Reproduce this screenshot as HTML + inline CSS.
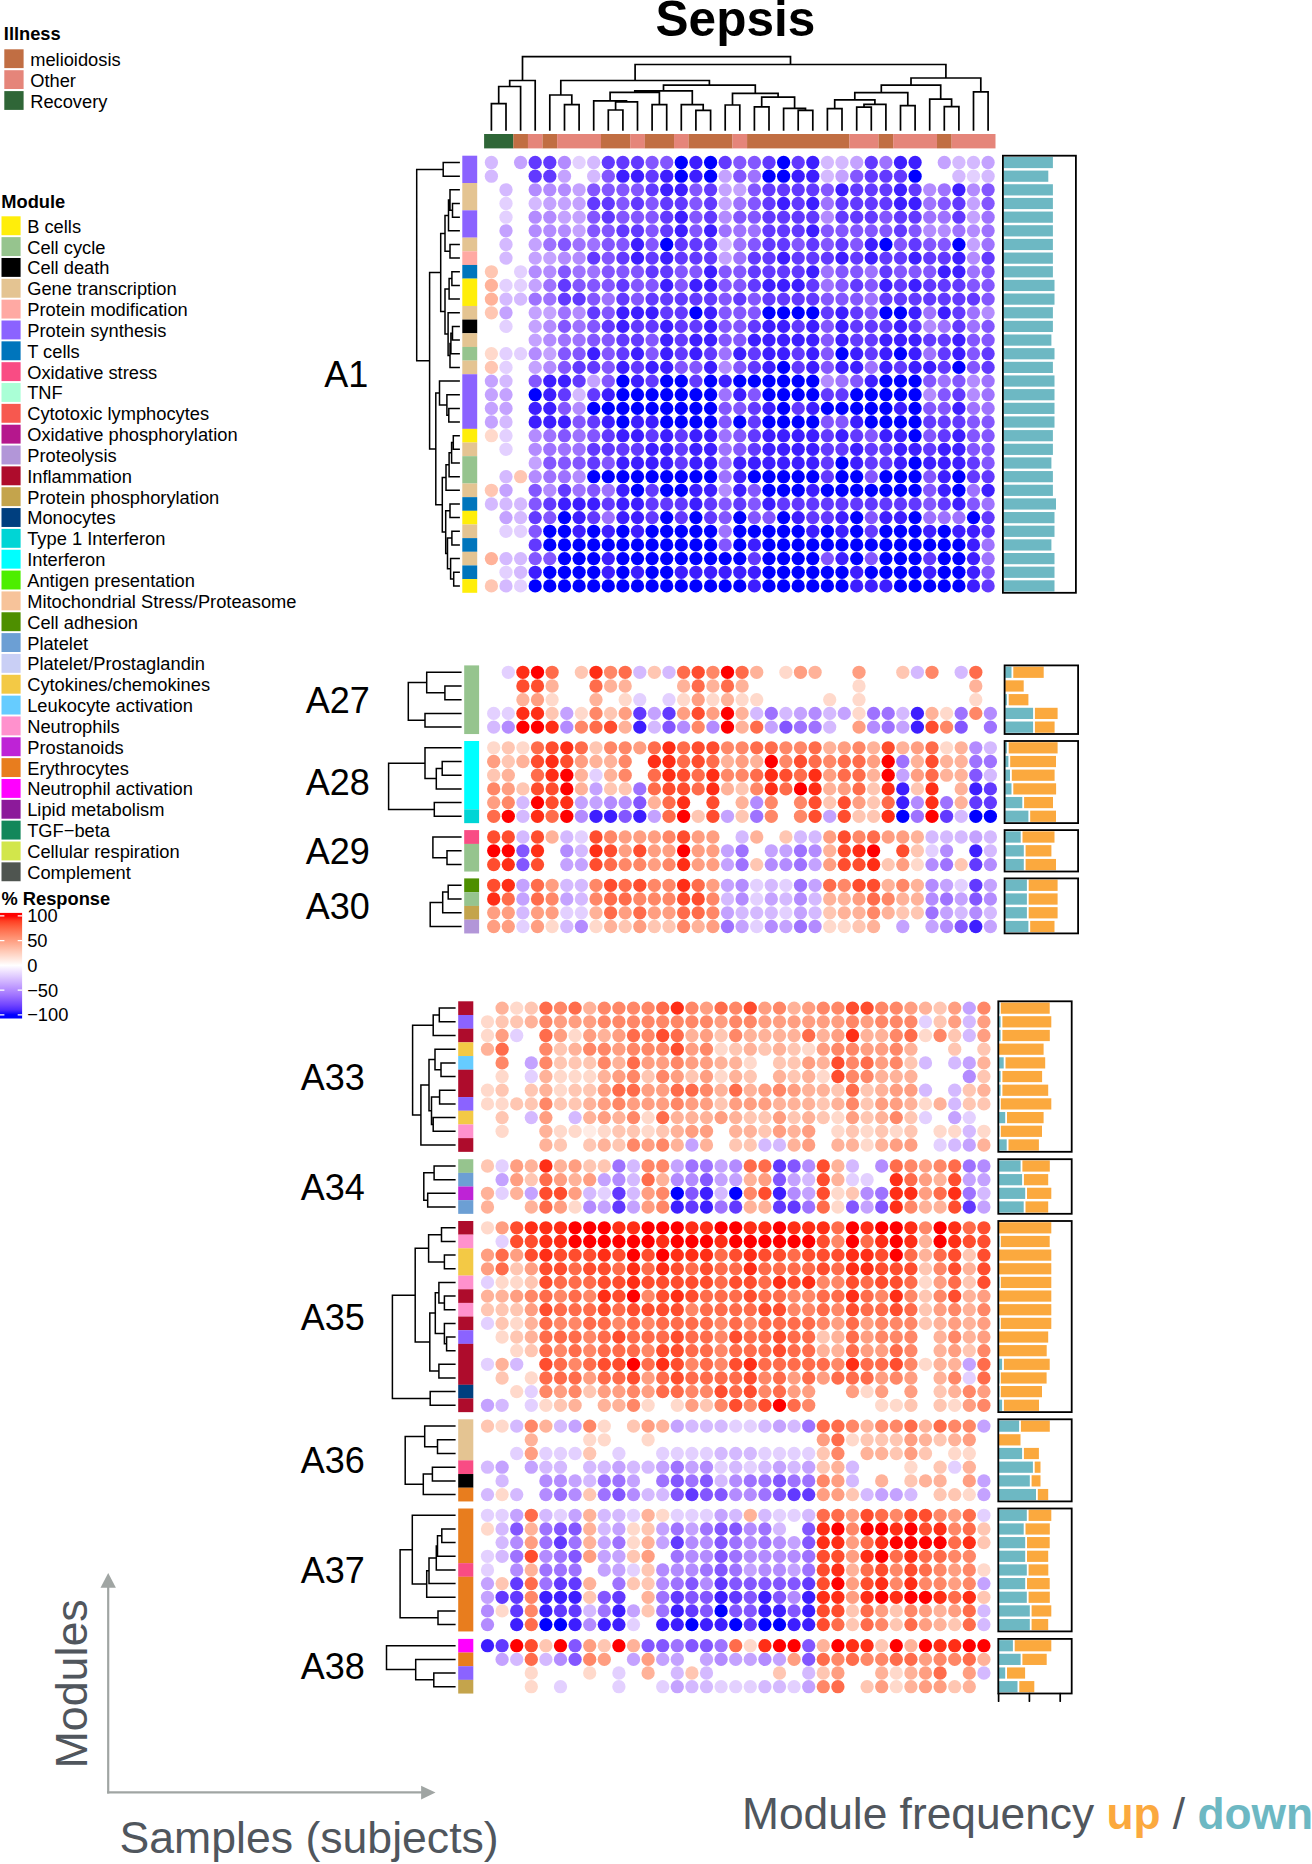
<!DOCTYPE html>
<html><head><meta charset="utf-8"><title>Sepsis</title>
<style>
html,body{margin:0;padding:0;background:#fff;}
body{width:1312px;height:1864px;overflow:hidden;}
svg{display:block;font-family:"Liberation Sans",sans-serif;fill:#000;}
</style></head><body>
<svg width="1312" height="1864" viewBox="0 0 1312 1864">
<rect width="1312" height="1864" fill="#fff"/>
<path d="M491.4 130.7V103.6H506.0V130.7M498.7 103.6V86.5H520.6V130.7M509.7 86.5V80.5H535.2V130.7M564.5 130.7V104.7H579.1V130.7M549.8 130.7V95.0H571.8V104.7M608.3 130.7V110.0H622.9V130.7M615.6 110.0V101.9H637.5V130.7M593.7 130.7V100.8H626.5V101.9M652.1 130.7V104.7H666.7V130.7M610.1 100.8V92.3H659.4V104.7M695.9 130.7V110.4H710.6V130.7M681.3 130.7V104.7H703.2V110.4M634.8 92.3V90.8H692.3V104.7M725.2 130.7V105.0H739.8V130.7M754.4 130.7V106.8H769.0V130.7M798.2 130.7V110.4H812.8V130.7M783.6 130.7V108.3H805.5V110.4M761.7 106.8V97.2H794.6V108.3M732.5 105.0V93.4H778.1V97.2M663.5 90.8V85.2H755.3V93.4M560.8 95.0V80.5H709.4V85.2M827.4 130.7V108.7H842.0V130.7M856.7 130.7V107.2H871.3V130.7M864.0 107.2V104.4H885.9V130.7M834.7 108.7V99.8H874.9V104.4M900.5 130.7V105.7H915.1V130.7M854.8 99.8V92.7H907.8V105.7M944.3 130.7V106.6H958.9V130.7M929.7 130.7V99.1H951.6V106.6M881.3 92.7V85.2H940.7V99.1M973.5 130.7V91.9H988.1V130.7M911.0 85.2V78.0H980.8V91.9M635.1 80.5V64.5H945.9V78.0M522.5 80.5V56.6H790.5V64.5" fill="none" stroke="#000" stroke-width="1.7" stroke-linejoin="miter"/>
<rect x="484.10" y="134" width="29.27" height="14.4" fill="#2F6637"/>
<rect x="513.32" y="134" width="14.66" height="14.4" fill="#C16E43"/>
<rect x="527.93" y="134" width="14.66" height="14.4" fill="#E5857A"/>
<rect x="542.54" y="134" width="14.66" height="14.4" fill="#C16E43"/>
<rect x="557.15" y="134" width="43.88" height="14.4" fill="#E5857A"/>
<rect x="600.98" y="134" width="29.27" height="14.4" fill="#C16E43"/>
<rect x="630.20" y="134" width="14.66" height="14.4" fill="#E5857A"/>
<rect x="644.81" y="134" width="29.27" height="14.4" fill="#C16E43"/>
<rect x="674.03" y="134" width="14.66" height="14.4" fill="#E5857A"/>
<rect x="688.64" y="134" width="43.88" height="14.4" fill="#C16E43"/>
<rect x="732.47" y="134" width="14.66" height="14.4" fill="#E5857A"/>
<rect x="747.08" y="134" width="102.32" height="14.4" fill="#C16E43"/>
<rect x="849.35" y="134" width="29.27" height="14.4" fill="#E5857A"/>
<rect x="878.57" y="134" width="14.66" height="14.4" fill="#C16E43"/>
<rect x="893.18" y="134" width="43.88" height="14.4" fill="#E5857A"/>
<rect x="937.01" y="134" width="14.66" height="14.4" fill="#C16E43"/>
<rect x="951.62" y="134" width="43.88" height="14.4" fill="#E5857A"/>
<path d="M459.9 162.5H443.2V176.2H459.9M459.9 203.5H452.5V217.2H459.9M459.9 189.8H450.0V210.3H452.5M450.0 200.1H448.5V230.8H459.9M459.9 244.5H450.0V258.1H459.9M448.5 215.5H445.0V251.3H450.0M459.9 271.8H451.9V285.4H459.9M451.9 278.6H449.1V299.1H459.9M459.9 326.4H452.5V340.1H459.9M452.5 333.3H450.9V353.7H459.9M450.9 343.5H450.0V367.4H459.9M459.9 312.8H448.1V355.4H450.0M449.1 288.9H445.0V334.1H448.1M445.0 233.4H440.7V311.5H445.0M459.9 408.4H448.8V422.0H459.9M459.9 394.7H446.9V415.2H448.8M459.9 381.1H439.5V405.0H446.9M459.9 435.7H453.3V449.3H459.9M453.3 442.5H451.6V463.0H459.9M451.6 452.8H449.1V476.7H459.9M449.1 464.7H446.0V490.3H459.9M459.9 504.0H450.0V517.6H459.9M459.9 531.3H451.9V544.9H459.9M459.9 572.3H453.7V585.9H459.9M459.9 558.6H450.6V579.1H453.7M451.9 538.1H447.5V568.8H450.6M450.0 510.8H445.7V553.5H447.5M446.0 477.5H442.3V532.1H445.7M439.5 393.0H435.8V504.8H442.3M440.7 272.4H429.6V448.9H435.8M443.2 169.4H416.7V360.7H429.6" fill="none" stroke="#000" stroke-width="1.5"/>
<rect x="462.3" y="155.70" width="14.9" height="27.37" fill="#8B63FF"/>
<rect x="462.3" y="183.02" width="14.9" height="27.37" fill="#E4C492"/>
<rect x="462.3" y="210.33" width="14.9" height="27.37" fill="#8B63FF"/>
<rect x="462.3" y="237.65" width="14.9" height="13.71" fill="#E4C492"/>
<rect x="462.3" y="251.30" width="14.9" height="13.71" fill="#FFA9A3"/>
<rect x="462.3" y="264.96" width="14.9" height="13.71" fill="#0075BC"/>
<rect x="462.3" y="278.62" width="14.9" height="27.37" fill="#FFEE0A"/>
<rect x="462.3" y="305.94" width="14.9" height="13.71" fill="#E4C492"/>
<rect x="462.3" y="319.59" width="14.9" height="13.71" fill="#000000"/>
<rect x="462.3" y="333.25" width="14.9" height="13.71" fill="#E4C492"/>
<rect x="462.3" y="346.91" width="14.9" height="13.71" fill="#96C48E"/>
<rect x="462.3" y="360.57" width="14.9" height="13.71" fill="#E4C492"/>
<rect x="462.3" y="374.23" width="14.9" height="54.68" fill="#8B63FF"/>
<rect x="462.3" y="428.86" width="14.9" height="13.71" fill="#FFEE0A"/>
<rect x="462.3" y="442.51" width="14.9" height="13.71" fill="#E4C492"/>
<rect x="462.3" y="456.17" width="14.9" height="27.37" fill="#96C48E"/>
<rect x="462.3" y="483.49" width="14.9" height="13.71" fill="#E4C492"/>
<rect x="462.3" y="497.15" width="14.9" height="13.71" fill="#0075BC"/>
<rect x="462.3" y="510.80" width="14.9" height="13.71" fill="#FFEE0A"/>
<rect x="462.3" y="524.46" width="14.9" height="13.71" fill="#E4C492"/>
<rect x="462.3" y="538.12" width="14.9" height="13.71" fill="#0075BC"/>
<rect x="462.3" y="551.78" width="14.9" height="13.71" fill="#E4C492"/>
<rect x="462.3" y="565.43" width="14.9" height="13.71" fill="#0075BC"/>
<rect x="462.3" y="579.09" width="14.9" height="13.71" fill="#FFEE0A"/>
<rect x="1003.5" y="156.93" width="49.4" height="11.20" fill="#6DB8C3"/>
<rect x="1003.5" y="170.59" width="44.8" height="11.20" fill="#6DB8C3"/>
<rect x="1003.5" y="184.24" width="49.4" height="11.20" fill="#6DB8C3"/>
<rect x="1003.5" y="197.90" width="49.4" height="11.20" fill="#6DB8C3"/>
<rect x="1003.5" y="211.56" width="49.4" height="11.20" fill="#6DB8C3"/>
<rect x="1003.5" y="225.22" width="49.4" height="11.20" fill="#6DB8C3"/>
<rect x="1003.5" y="238.88" width="49.4" height="11.20" fill="#6DB8C3"/>
<rect x="1003.5" y="252.53" width="49.4" height="11.20" fill="#6DB8C3"/>
<rect x="1003.5" y="266.19" width="49.4" height="11.20" fill="#6DB8C3"/>
<rect x="1003.5" y="279.85" width="51.0" height="11.20" fill="#6DB8C3"/>
<rect x="1003.5" y="293.51" width="51.0" height="11.20" fill="#6DB8C3"/>
<rect x="1003.5" y="307.17" width="49.4" height="11.20" fill="#6DB8C3"/>
<rect x="1003.5" y="320.82" width="49.4" height="11.20" fill="#6DB8C3"/>
<rect x="1003.5" y="334.48" width="47.9" height="11.20" fill="#6DB8C3"/>
<rect x="1003.5" y="348.14" width="51.0" height="11.20" fill="#6DB8C3"/>
<rect x="1003.5" y="361.80" width="49.4" height="11.20" fill="#6DB8C3"/>
<rect x="1003.5" y="375.45" width="51.0" height="11.20" fill="#6DB8C3"/>
<rect x="1003.5" y="389.11" width="51.0" height="11.20" fill="#6DB8C3"/>
<rect x="1003.5" y="402.77" width="51.0" height="11.20" fill="#6DB8C3"/>
<rect x="1003.5" y="416.43" width="51.0" height="11.20" fill="#6DB8C3"/>
<rect x="1003.5" y="430.09" width="49.4" height="11.20" fill="#6DB8C3"/>
<rect x="1003.5" y="443.74" width="49.4" height="11.20" fill="#6DB8C3"/>
<rect x="1003.5" y="457.40" width="47.9" height="11.20" fill="#6DB8C3"/>
<rect x="1003.5" y="471.06" width="49.4" height="11.20" fill="#6DB8C3"/>
<rect x="1003.5" y="484.72" width="49.4" height="11.20" fill="#6DB8C3"/>
<rect x="1003.5" y="498.37" width="52.5" height="11.20" fill="#6DB8C3"/>
<rect x="1003.5" y="512.03" width="51.0" height="11.20" fill="#6DB8C3"/>
<rect x="1003.5" y="525.69" width="51.0" height="11.20" fill="#6DB8C3"/>
<rect x="1003.5" y="539.35" width="47.9" height="11.20" fill="#6DB8C3"/>
<rect x="1003.5" y="553.01" width="51.0" height="11.20" fill="#6DB8C3"/>
<rect x="1003.5" y="566.66" width="51.0" height="11.20" fill="#6DB8C3"/>
<rect x="1003.5" y="580.32" width="51.0" height="11.20" fill="#6DB8C3"/>
<rect x="1002.9" y="155.7" width="73.0" height="437.1" fill="none" stroke="#000" stroke-width="1.8"/>
<text x="368.2" y="387.3" font-size="36.0" text-anchor="end">A1</text>
<path d="M461.6 686.0H444.9V699.7H461.6M461.6 672.3H426.7V692.8H444.9M461.6 713.4H425.0V727.1H461.6M426.7 682.5H408.3V720.3H425.0" fill="none" stroke="#000" stroke-width="1.5"/>
<rect x="464.2" y="665.40" width="14.9" height="68.65" fill="#96C48E"/>
<rect x="1005.2" y="666.63" width="6.3" height="11.25" fill="#6DB8C3"/>
<rect x="1013.3" y="666.63" width="30.4" height="11.25" fill="#FBA93E"/>
<rect x="1005.2" y="680.35" width="18.5" height="11.25" fill="#FBA93E"/>
<rect x="1005.2" y="694.07" width="1.7" height="11.25" fill="#6DB8C3"/>
<rect x="1008.7" y="694.07" width="19.7" height="11.25" fill="#FBA93E"/>
<rect x="1005.2" y="707.79" width="27.9" height="11.25" fill="#6DB8C3"/>
<rect x="1034.9" y="707.79" width="22.7" height="11.25" fill="#FBA93E"/>
<rect x="1005.2" y="721.51" width="27.9" height="11.25" fill="#6DB8C3"/>
<rect x="1034.9" y="721.51" width="19.7" height="11.25" fill="#FBA93E"/>
<rect x="1004.6" y="665.4" width="73.5" height="68.6" fill="none" stroke="#000" stroke-width="1.8"/>
<text x="369.9" y="712.8" font-size="36.0" text-anchor="end">A27</text>
<path d="M461.6 761.5H442.2V775.2H461.6M442.2 768.4H436.3V788.9H461.6M461.6 747.8H425.0V778.6H436.3M461.6 802.6H434.3V816.3H461.6M425.0 763.2H388.6V809.4H434.3" fill="none" stroke="#000" stroke-width="1.5"/>
<rect x="464.2" y="741.00" width="14.9" height="68.47" fill="#00FFFF"/>
<rect x="464.2" y="809.42" width="14.9" height="13.73" fill="#00D5D5"/>
<rect x="1005.2" y="742.23" width="1.7" height="11.22" fill="#6DB8C3"/>
<rect x="1008.7" y="742.23" width="48.9" height="11.22" fill="#FBA93E"/>
<rect x="1005.2" y="755.91" width="3.2" height="11.22" fill="#6DB8C3"/>
<rect x="1010.2" y="755.91" width="45.8" height="11.22" fill="#FBA93E"/>
<rect x="1005.2" y="769.60" width="4.8" height="11.22" fill="#6DB8C3"/>
<rect x="1011.8" y="769.60" width="42.8" height="11.22" fill="#FBA93E"/>
<rect x="1005.2" y="783.28" width="6.3" height="11.22" fill="#6DB8C3"/>
<rect x="1013.3" y="783.28" width="42.8" height="11.22" fill="#FBA93E"/>
<rect x="1005.2" y="796.96" width="17.1" height="11.22" fill="#6DB8C3"/>
<rect x="1024.1" y="796.96" width="28.9" height="11.22" fill="#FBA93E"/>
<rect x="1005.2" y="810.65" width="23.2" height="11.22" fill="#6DB8C3"/>
<rect x="1030.2" y="810.65" width="25.8" height="11.22" fill="#FBA93E"/>
<rect x="1004.6" y="741.0" width="73.5" height="82.1" fill="none" stroke="#000" stroke-width="1.8"/>
<text x="369.9" y="795.1" font-size="36.0" text-anchor="end">A28</text>
<path d="M461.6 850.8H447.0V864.6H461.6M461.6 837.0H432.9V857.7H447.0" fill="none" stroke="#000" stroke-width="1.5"/>
<rect x="464.2" y="830.10" width="14.9" height="13.85" fill="#F94C84"/>
<rect x="464.2" y="843.90" width="14.9" height="27.65" fill="#96C48E"/>
<rect x="1005.2" y="831.34" width="15.5" height="11.32" fill="#6DB8C3"/>
<rect x="1022.5" y="831.34" width="32.0" height="11.32" fill="#FBA93E"/>
<rect x="1005.2" y="845.14" width="18.6" height="11.32" fill="#6DB8C3"/>
<rect x="1025.6" y="845.14" width="25.8" height="11.32" fill="#FBA93E"/>
<rect x="1005.2" y="858.94" width="18.6" height="11.32" fill="#6DB8C3"/>
<rect x="1025.6" y="858.94" width="30.4" height="11.32" fill="#FBA93E"/>
<rect x="1004.6" y="830.1" width="73.5" height="41.4" fill="none" stroke="#000" stroke-width="1.8"/>
<text x="369.9" y="863.9" font-size="36.0" text-anchor="end">A29</text>
<path d="M461.6 885.3H448.2V899.0H461.6M448.2 892.1H442.7V912.8H461.6M442.7 902.5H430.2V926.5H461.6" fill="none" stroke="#000" stroke-width="1.5"/>
<rect x="464.2" y="878.40" width="14.9" height="13.80" fill="#4E8F00"/>
<rect x="464.2" y="892.15" width="14.9" height="13.80" fill="#96C48E"/>
<rect x="464.2" y="905.90" width="14.9" height="13.80" fill="#C4A44C"/>
<rect x="464.2" y="919.65" width="14.9" height="13.80" fill="#B296D8"/>
<rect x="1005.2" y="879.64" width="21.7" height="11.27" fill="#6DB8C3"/>
<rect x="1028.7" y="879.64" width="28.9" height="11.27" fill="#FBA93E"/>
<rect x="1005.2" y="893.39" width="21.7" height="11.27" fill="#6DB8C3"/>
<rect x="1028.7" y="893.39" width="28.9" height="11.27" fill="#FBA93E"/>
<rect x="1005.2" y="907.14" width="21.7" height="11.27" fill="#6DB8C3"/>
<rect x="1028.7" y="907.14" width="28.9" height="11.27" fill="#FBA93E"/>
<rect x="1005.2" y="920.89" width="23.2" height="11.27" fill="#6DB8C3"/>
<rect x="1030.2" y="920.89" width="24.3" height="11.27" fill="#FBA93E"/>
<rect x="1004.6" y="878.4" width="73.5" height="55.0" fill="none" stroke="#000" stroke-width="1.8"/>
<text x="369.9" y="919.0" font-size="36.0" text-anchor="end">A30</text>
<path d="M455.6 1008.1H439.3V1021.8H455.6M439.3 1015.0H433.2V1035.5H455.6M455.6 1062.9H441.0V1076.5H455.6M455.6 1049.2H435.0V1069.7H441.0M455.6 1090.2H439.6V1103.9H455.6M455.6 1117.6H433.2V1131.3H455.6M439.6 1097.1H431.5V1124.4H433.2M435.0 1059.4H429.0V1110.8H431.5M429.0 1085.1H420.9V1145.0H455.6M433.2 1025.2H412.6V1115.0H420.9" fill="none" stroke="#000" stroke-width="1.5"/>
<rect x="458.2" y="1001.30" width="15.1" height="13.73" fill="#AE0C2C"/>
<rect x="458.2" y="1014.98" width="15.1" height="13.73" fill="#8B63FF"/>
<rect x="458.2" y="1028.66" width="15.1" height="13.73" fill="#AE0C2C"/>
<rect x="458.2" y="1042.35" width="15.1" height="13.73" fill="#F3C945"/>
<rect x="458.2" y="1056.03" width="15.1" height="13.73" fill="#66CCFF"/>
<rect x="458.2" y="1069.71" width="15.1" height="27.41" fill="#AE0C2C"/>
<rect x="458.2" y="1097.07" width="15.1" height="13.73" fill="#8B63FF"/>
<rect x="458.2" y="1110.75" width="15.1" height="13.73" fill="#F3C945"/>
<rect x="458.2" y="1124.44" width="15.1" height="13.73" fill="#FF91CD"/>
<rect x="458.2" y="1138.12" width="15.1" height="13.73" fill="#AE0C2C"/>
<rect x="998.9" y="1002.53" width="0.6" height="11.22" fill="#6DB8C3"/>
<rect x="1000.8" y="1002.53" width="48.9" height="11.22" fill="#FBA93E"/>
<rect x="998.9" y="1016.21" width="1.7" height="11.22" fill="#6DB8C3"/>
<rect x="1002.4" y="1016.21" width="48.9" height="11.22" fill="#FBA93E"/>
<rect x="998.9" y="1029.89" width="1.7" height="11.22" fill="#6DB8C3"/>
<rect x="1002.4" y="1029.89" width="47.4" height="11.22" fill="#FBA93E"/>
<rect x="998.9" y="1043.58" width="44.7" height="11.22" fill="#FBA93E"/>
<rect x="998.9" y="1057.26" width="4.8" height="11.22" fill="#6DB8C3"/>
<rect x="1005.5" y="1057.26" width="39.7" height="11.22" fill="#FBA93E"/>
<rect x="998.9" y="1070.94" width="1.7" height="11.22" fill="#6DB8C3"/>
<rect x="1002.4" y="1070.94" width="39.7" height="11.22" fill="#FBA93E"/>
<rect x="998.9" y="1084.62" width="1.7" height="11.22" fill="#6DB8C3"/>
<rect x="1002.4" y="1084.62" width="45.8" height="11.22" fill="#FBA93E"/>
<rect x="998.9" y="1098.30" width="0.6" height="11.22" fill="#6DB8C3"/>
<rect x="1000.8" y="1098.30" width="50.5" height="11.22" fill="#FBA93E"/>
<rect x="998.9" y="1111.99" width="6.3" height="11.22" fill="#6DB8C3"/>
<rect x="1007.0" y="1111.99" width="36.6" height="11.22" fill="#FBA93E"/>
<rect x="998.9" y="1125.67" width="0.6" height="11.22" fill="#6DB8C3"/>
<rect x="1000.8" y="1125.67" width="41.2" height="11.22" fill="#FBA93E"/>
<rect x="998.9" y="1139.35" width="7.8" height="11.22" fill="#6DB8C3"/>
<rect x="1008.5" y="1139.35" width="30.4" height="11.22" fill="#FBA93E"/>
<rect x="998.3" y="1001.3" width="73.4" height="150.5" fill="none" stroke="#000" stroke-width="1.8"/>
<text x="364.9" y="1089.6" font-size="36.0" text-anchor="end">A33</text>
<path d="M455.6 1166.0H434.1V1179.7H455.6M455.6 1193.3H427.7V1207.0H455.6M434.1 1172.8H423.8V1200.2H427.7" fill="none" stroke="#000" stroke-width="1.5"/>
<rect x="458.2" y="1159.20" width="15.1" height="13.70" fill="#96C48E"/>
<rect x="458.2" y="1172.85" width="15.1" height="13.70" fill="#6C9FD4"/>
<rect x="458.2" y="1186.50" width="15.1" height="13.70" fill="#BE23D6"/>
<rect x="458.2" y="1200.15" width="15.1" height="13.70" fill="#6C9FD4"/>
<rect x="998.9" y="1160.43" width="21.7" height="11.19" fill="#6DB8C3"/>
<rect x="1022.4" y="1160.43" width="27.4" height="11.19" fill="#FBA93E"/>
<rect x="998.9" y="1174.08" width="23.2" height="11.19" fill="#6DB8C3"/>
<rect x="1023.9" y="1174.08" width="24.3" height="11.19" fill="#FBA93E"/>
<rect x="998.9" y="1187.73" width="26.3" height="11.19" fill="#6DB8C3"/>
<rect x="1027.0" y="1187.73" width="24.3" height="11.19" fill="#FBA93E"/>
<rect x="998.9" y="1201.38" width="24.8" height="11.19" fill="#6DB8C3"/>
<rect x="1025.5" y="1201.38" width="22.7" height="11.19" fill="#FBA93E"/>
<rect x="998.3" y="1159.2" width="73.4" height="54.6" fill="none" stroke="#000" stroke-width="1.8"/>
<text x="364.9" y="1199.6" font-size="36.0" text-anchor="end">A34</text>
<path d="M455.6 1227.8H441.5V1241.5H455.6M455.6 1255.1H444.4V1268.8H455.6M441.5 1234.7H428.6V1262.0H444.4M455.6 1296.1H444.4V1309.7H455.6M455.6 1282.4H438.9V1302.9H444.4M455.6 1337.0H446.6V1350.7H455.6M455.6 1323.4H444.4V1343.8H446.6M438.9 1292.7H435.3V1333.6H444.4M455.6 1364.3H438.9V1378.0H455.6M435.3 1313.1H429.8V1371.1H438.9M428.6 1248.3H415.2V1342.1H429.8M455.6 1391.6H430.2V1405.3H455.6M415.2 1295.2H392.4V1398.4H430.2" fill="none" stroke="#000" stroke-width="1.5"/>
<rect x="458.2" y="1221.00" width="15.1" height="13.70" fill="#AE0C2C"/>
<rect x="458.2" y="1234.65" width="15.1" height="13.70" fill="#FF91CD"/>
<rect x="458.2" y="1248.30" width="15.1" height="27.35" fill="#F3C945"/>
<rect x="458.2" y="1275.60" width="15.1" height="13.70" fill="#FF91CD"/>
<rect x="458.2" y="1289.25" width="15.1" height="13.70" fill="#AE0C2C"/>
<rect x="458.2" y="1302.90" width="15.1" height="13.70" fill="#FF91CD"/>
<rect x="458.2" y="1316.55" width="15.1" height="13.70" fill="#AE0C2C"/>
<rect x="458.2" y="1330.20" width="15.1" height="13.70" fill="#8B63FF"/>
<rect x="458.2" y="1343.85" width="15.1" height="41.00" fill="#AE0C2C"/>
<rect x="458.2" y="1384.80" width="15.1" height="13.70" fill="#003F7F"/>
<rect x="458.2" y="1398.45" width="15.1" height="13.70" fill="#AE0C2C"/>
<rect x="998.9" y="1222.23" width="52.4" height="11.19" fill="#FBA93E"/>
<rect x="998.9" y="1235.88" width="0.6" height="11.19" fill="#6DB8C3"/>
<rect x="1000.8" y="1235.88" width="48.9" height="11.19" fill="#FBA93E"/>
<rect x="998.9" y="1249.53" width="52.4" height="11.19" fill="#FBA93E"/>
<rect x="998.9" y="1263.18" width="52.4" height="11.19" fill="#FBA93E"/>
<rect x="998.9" y="1276.83" width="0.6" height="11.19" fill="#6DB8C3"/>
<rect x="1000.8" y="1276.83" width="50.5" height="11.19" fill="#FBA93E"/>
<rect x="998.9" y="1290.48" width="52.4" height="11.19" fill="#FBA93E"/>
<rect x="998.9" y="1304.13" width="52.4" height="11.19" fill="#FBA93E"/>
<rect x="998.9" y="1317.78" width="0.6" height="11.19" fill="#6DB8C3"/>
<rect x="1000.8" y="1317.78" width="50.5" height="11.19" fill="#FBA93E"/>
<rect x="998.9" y="1331.43" width="49.3" height="11.19" fill="#FBA93E"/>
<rect x="998.9" y="1345.08" width="47.8" height="11.19" fill="#FBA93E"/>
<rect x="998.9" y="1358.73" width="3.2" height="11.19" fill="#6DB8C3"/>
<rect x="1003.9" y="1358.73" width="45.8" height="11.19" fill="#FBA93E"/>
<rect x="998.9" y="1372.38" width="0.6" height="11.19" fill="#6DB8C3"/>
<rect x="1000.8" y="1372.38" width="45.8" height="11.19" fill="#FBA93E"/>
<rect x="998.9" y="1386.03" width="0.6" height="11.19" fill="#6DB8C3"/>
<rect x="1000.8" y="1386.03" width="41.2" height="11.19" fill="#FBA93E"/>
<rect x="998.9" y="1399.68" width="3.2" height="11.19" fill="#6DB8C3"/>
<rect x="1003.9" y="1399.68" width="35.1" height="11.19" fill="#FBA93E"/>
<rect x="998.3" y="1221.0" width="73.4" height="191.1" fill="none" stroke="#000" stroke-width="1.8"/>
<text x="364.9" y="1329.6" font-size="36.0" text-anchor="end">A35</text>
<path d="M455.6 1439.8H437.5V1453.5H455.6M455.6 1426.1H424.7V1446.7H437.5M455.6 1467.2H432.4V1480.9H455.6M432.4 1474.0H423.3V1494.6H455.6M424.7 1436.4H405.2V1484.3H423.3" fill="none" stroke="#000" stroke-width="1.5"/>
<rect x="458.2" y="1419.30" width="15.1" height="41.10" fill="#E4C492"/>
<rect x="458.2" y="1460.35" width="15.1" height="13.73" fill="#F94C84"/>
<rect x="458.2" y="1474.03" width="15.1" height="13.73" fill="#000000"/>
<rect x="458.2" y="1487.72" width="15.1" height="13.73" fill="#E87D1E"/>
<rect x="998.9" y="1420.53" width="20.2" height="11.22" fill="#6DB8C3"/>
<rect x="1020.9" y="1420.53" width="28.9" height="11.22" fill="#FBA93E"/>
<rect x="998.9" y="1434.21" width="21.6" height="11.22" fill="#FBA93E"/>
<rect x="998.9" y="1447.90" width="23.2" height="11.22" fill="#6DB8C3"/>
<rect x="1023.9" y="1447.90" width="15.0" height="11.22" fill="#FBA93E"/>
<rect x="998.9" y="1461.58" width="34.0" height="11.22" fill="#6DB8C3"/>
<rect x="1034.7" y="1461.58" width="5.8" height="11.22" fill="#FBA93E"/>
<rect x="998.9" y="1475.26" width="30.9" height="11.22" fill="#6DB8C3"/>
<rect x="1031.6" y="1475.26" width="8.9" height="11.22" fill="#FBA93E"/>
<rect x="998.9" y="1488.95" width="37.1" height="11.22" fill="#6DB8C3"/>
<rect x="1037.8" y="1488.95" width="10.4" height="11.22" fill="#FBA93E"/>
<rect x="998.3" y="1419.3" width="73.4" height="82.1" fill="none" stroke="#000" stroke-width="1.8"/>
<text x="364.9" y="1473.4" font-size="36.0" text-anchor="end">A36</text>
<path d="M455.6 1529.0H441.8V1542.6H455.6M441.8 1535.8H437.5V1556.3H455.6M437.5 1546.1H436.3V1570.0H455.6M436.3 1558.0H429.0V1583.6H455.6M429.0 1570.8H426.7V1597.3H455.6M455.6 1515.3H412.3V1584.0H426.7M455.6 1610.9H438.0V1624.6H455.6M412.3 1549.7H400.1V1617.7H438.0" fill="none" stroke="#000" stroke-width="1.5"/>
<rect x="458.2" y="1508.50" width="15.1" height="54.67" fill="#E87D1E"/>
<rect x="458.2" y="1563.12" width="15.1" height="13.71" fill="#F94C84"/>
<rect x="458.2" y="1576.78" width="15.1" height="54.67" fill="#E87D1E"/>
<rect x="998.9" y="1509.73" width="27.9" height="11.20" fill="#6DB8C3"/>
<rect x="1028.6" y="1509.73" width="22.7" height="11.20" fill="#FBA93E"/>
<rect x="998.9" y="1523.38" width="24.8" height="11.20" fill="#6DB8C3"/>
<rect x="1025.5" y="1523.38" width="24.3" height="11.20" fill="#FBA93E"/>
<rect x="998.9" y="1537.04" width="26.3" height="11.20" fill="#6DB8C3"/>
<rect x="1027.0" y="1537.04" width="22.7" height="11.20" fill="#FBA93E"/>
<rect x="998.9" y="1550.70" width="26.3" height="11.20" fill="#6DB8C3"/>
<rect x="1027.0" y="1550.70" width="21.2" height="11.20" fill="#FBA93E"/>
<rect x="998.9" y="1564.35" width="27.9" height="11.20" fill="#6DB8C3"/>
<rect x="1028.6" y="1564.35" width="19.7" height="11.20" fill="#FBA93E"/>
<rect x="998.9" y="1578.01" width="26.3" height="11.20" fill="#6DB8C3"/>
<rect x="1027.0" y="1578.01" width="22.7" height="11.20" fill="#FBA93E"/>
<rect x="998.9" y="1591.66" width="27.9" height="11.20" fill="#6DB8C3"/>
<rect x="1028.6" y="1591.66" width="21.2" height="11.20" fill="#FBA93E"/>
<rect x="998.9" y="1605.32" width="30.9" height="11.20" fill="#6DB8C3"/>
<rect x="1031.6" y="1605.32" width="19.7" height="11.20" fill="#FBA93E"/>
<rect x="998.9" y="1618.97" width="30.9" height="11.20" fill="#6DB8C3"/>
<rect x="1031.6" y="1618.97" width="16.6" height="11.20" fill="#FBA93E"/>
<rect x="998.3" y="1508.5" width="73.4" height="122.9" fill="none" stroke="#000" stroke-width="1.8"/>
<text x="364.9" y="1583.0" font-size="36.0" text-anchor="end">A37</text>
<path d="M455.6 1673.0H433.8V1686.7H455.6M455.6 1659.4H415.7V1679.8H433.8M455.6 1645.7H386.5V1669.6H415.7" fill="none" stroke="#000" stroke-width="1.5"/>
<rect x="458.2" y="1638.90" width="15.1" height="13.70" fill="#FF00FF"/>
<rect x="458.2" y="1652.55" width="15.1" height="13.70" fill="#E87D1E"/>
<rect x="458.2" y="1666.20" width="15.1" height="13.70" fill="#8B63FF"/>
<rect x="458.2" y="1679.85" width="15.1" height="13.70" fill="#C4A44C"/>
<rect x="998.9" y="1640.13" width="14.0" height="11.19" fill="#6DB8C3"/>
<rect x="1014.7" y="1640.13" width="36.6" height="11.19" fill="#FBA93E"/>
<rect x="998.9" y="1653.78" width="21.7" height="11.19" fill="#6DB8C3"/>
<rect x="1022.4" y="1653.78" width="24.3" height="11.19" fill="#FBA93E"/>
<rect x="998.9" y="1667.43" width="6.3" height="11.19" fill="#6DB8C3"/>
<rect x="1007.0" y="1667.43" width="18.1" height="11.19" fill="#FBA93E"/>
<rect x="998.9" y="1681.08" width="18.6" height="11.19" fill="#6DB8C3"/>
<rect x="1019.3" y="1681.08" width="15.0" height="11.19" fill="#FBA93E"/>
<rect x="998.3" y="1638.9" width="73.4" height="54.6" fill="none" stroke="#000" stroke-width="1.8"/>
<text x="364.9" y="1679.3" font-size="36.0" text-anchor="end">A38</text>
<g fill="#d4b9ff"><circle cx="491.4" cy="162.5" r="6.65"/><circle cx="593.7" cy="162.5" r="6.65"/><circle cx="827.4" cy="162.5" r="6.65"/><circle cx="842.0" cy="162.5" r="6.65"/><circle cx="958.9" cy="162.5" r="6.65"/><circle cx="973.5" cy="162.5" r="6.65"/><circle cx="491.4" cy="176.2" r="6.65"/><circle cx="593.7" cy="176.2" r="6.65"/><circle cx="827.4" cy="176.2" r="6.65"/><circle cx="958.9" cy="176.2" r="6.65"/><circle cx="988.1" cy="176.2" r="6.65"/><circle cx="506.0" cy="189.8" r="6.65"/><circle cx="535.2" cy="203.5" r="6.65"/><circle cx="506.0" cy="244.5" r="6.65"/><circle cx="725.2" cy="244.5" r="6.65"/><circle cx="506.0" cy="258.1" r="6.65"/><circle cx="506.0" cy="299.1" r="6.65"/><circle cx="520.6" cy="299.1" r="6.65"/><circle cx="506.0" cy="381.1" r="6.65"/><circle cx="579.1" cy="394.7" r="6.65"/><circle cx="506.0" cy="422.0" r="6.65"/><circle cx="506.0" cy="476.7" r="6.65"/><circle cx="491.4" cy="504.0" r="6.65"/><circle cx="506.0" cy="504.0" r="6.65"/><circle cx="520.6" cy="504.0" r="6.65"/><circle cx="520.6" cy="517.6" r="6.65"/><circle cx="506.0" cy="558.6" r="6.65"/><circle cx="520.6" cy="558.6" r="6.65"/><circle cx="520.6" cy="572.3" r="6.65"/><circle cx="506.0" cy="585.9" r="6.65"/><circle cx="639.8" cy="672.3" r="6.65"/><circle cx="669.0" cy="672.3" r="6.65"/><circle cx="917.4" cy="672.3" r="6.65"/><circle cx="961.2" cy="672.3" r="6.65"/><circle cx="756.7" cy="713.4" r="6.65"/><circle cx="785.9" cy="713.4" r="6.65"/><circle cx="829.7" cy="713.4" r="6.65"/><circle cx="902.8" cy="713.4" r="6.65"/><circle cx="493.7" cy="727.1" r="6.65"/><circle cx="654.4" cy="727.1" r="6.65"/><circle cx="829.7" cy="727.1" r="6.65"/><circle cx="990.4" cy="747.8" r="6.65"/><circle cx="990.4" cy="775.2" r="6.65"/><circle cx="522.9" cy="802.6" r="6.65"/><circle cx="522.9" cy="816.3" r="6.65"/><circle cx="961.2" cy="816.3" r="6.65"/><circle cx="522.9" cy="837.0" r="6.65"/><circle cx="566.8" cy="837.0" r="6.65"/><circle cx="742.1" cy="837.0" r="6.65"/><circle cx="800.5" cy="837.0" r="6.65"/><circle cx="815.1" cy="837.0" r="6.65"/><circle cx="932.0" cy="837.0" r="6.65"/><circle cx="946.6" cy="837.0" r="6.65"/><circle cx="961.2" cy="837.0" r="6.65"/><circle cx="990.4" cy="837.0" r="6.65"/><circle cx="581.4" cy="850.8" r="6.65"/><circle cx="990.4" cy="850.8" r="6.65"/><circle cx="566.8" cy="885.3" r="6.65"/><circle cx="581.4" cy="885.3" r="6.65"/><circle cx="771.3" cy="885.3" r="6.65"/><circle cx="581.4" cy="899.0" r="6.65"/><circle cx="727.5" cy="899.0" r="6.65"/><circle cx="785.9" cy="899.0" r="6.65"/><circle cx="815.1" cy="899.0" r="6.65"/><circle cx="522.9" cy="912.8" r="6.65"/><circle cx="742.1" cy="912.8" r="6.65"/><circle cx="756.7" cy="912.8" r="6.65"/><circle cx="771.3" cy="912.8" r="6.65"/><circle cx="815.1" cy="912.8" r="6.65"/><circle cx="961.2" cy="912.8" r="6.65"/><circle cx="990.4" cy="912.8" r="6.65"/><circle cx="566.8" cy="926.5" r="6.65"/><circle cx="969.3" cy="1021.8" r="6.65"/><circle cx="969.3" cy="1035.5" r="6.65"/><circle cx="925.5" cy="1062.9" r="6.65"/><circle cx="954.7" cy="1062.9" r="6.65"/><circle cx="925.5" cy="1090.2" r="6.65"/><circle cx="954.7" cy="1090.2" r="6.65"/><circle cx="954.7" cy="1103.9" r="6.65"/><circle cx="531.3" cy="1117.6" r="6.65"/><circle cx="575.1" cy="1117.6" r="6.65"/><circle cx="969.3" cy="1131.3" r="6.65"/><circle cx="764.9" cy="1145.0" r="6.65"/><circle cx="779.5" cy="1145.0" r="6.65"/><circle cx="954.7" cy="1145.0" r="6.65"/><circle cx="633.5" cy="1166.0" r="6.65"/><circle cx="852.5" cy="1166.0" r="6.65"/><circle cx="633.5" cy="1179.7" r="6.65"/><circle cx="808.7" cy="1179.7" r="6.65"/><circle cx="589.7" cy="1193.3" r="6.65"/><circle cx="633.5" cy="1193.3" r="6.65"/><circle cx="721.1" cy="1193.3" r="6.65"/><circle cx="983.9" cy="1193.3" r="6.65"/><circle cx="516.7" cy="1364.3" r="6.65"/><circle cx="502.1" cy="1405.3" r="6.65"/><circle cx="516.7" cy="1426.1" r="6.65"/><circle cx="560.5" cy="1426.1" r="6.65"/><circle cx="691.9" cy="1426.1" r="6.65"/><circle cx="706.5" cy="1426.1" r="6.65"/><circle cx="721.1" cy="1426.1" r="6.65"/><circle cx="764.9" cy="1426.1" r="6.65"/><circle cx="794.1" cy="1426.1" r="6.65"/><circle cx="721.1" cy="1453.5" r="6.65"/><circle cx="735.7" cy="1453.5" r="6.65"/><circle cx="750.3" cy="1453.5" r="6.65"/><circle cx="487.5" cy="1467.2" r="6.65"/><circle cx="545.9" cy="1467.2" r="6.65"/><circle cx="560.5" cy="1467.2" r="6.65"/><circle cx="589.7" cy="1467.2" r="6.65"/><circle cx="604.3" cy="1467.2" r="6.65"/><circle cx="633.5" cy="1467.2" r="6.65"/><circle cx="648.1" cy="1467.2" r="6.65"/><circle cx="735.7" cy="1467.2" r="6.65"/><circle cx="764.9" cy="1467.2" r="6.65"/><circle cx="794.1" cy="1467.2" r="6.65"/><circle cx="852.5" cy="1467.2" r="6.65"/><circle cx="502.1" cy="1480.9" r="6.65"/><circle cx="589.7" cy="1480.9" r="6.65"/><circle cx="721.1" cy="1480.9" r="6.65"/><circle cx="852.5" cy="1480.9" r="6.65"/><circle cx="487.5" cy="1494.6" r="6.65"/><circle cx="516.7" cy="1494.6" r="6.65"/><circle cx="648.1" cy="1494.6" r="6.65"/><circle cx="662.7" cy="1494.6" r="6.65"/><circle cx="867.1" cy="1494.6" r="6.65"/><circle cx="910.9" cy="1494.6" r="6.65"/><circle cx="545.9" cy="1515.3" r="6.65"/><circle cx="604.3" cy="1515.3" r="6.65"/><circle cx="618.9" cy="1515.3" r="6.65"/><circle cx="735.7" cy="1515.3" r="6.65"/><circle cx="764.9" cy="1515.3" r="6.65"/><circle cx="808.7" cy="1515.3" r="6.65"/><circle cx="502.1" cy="1529.0" r="6.65"/><circle cx="604.3" cy="1529.0" r="6.65"/><circle cx="779.5" cy="1529.0" r="6.65"/><circle cx="502.1" cy="1542.6" r="6.65"/><circle cx="502.1" cy="1556.3" r="6.65"/><circle cx="589.7" cy="1610.9" r="6.65"/><circle cx="983.9" cy="1610.9" r="6.65"/><circle cx="983.9" cy="1624.6" r="6.65"/><circle cx="516.7" cy="1659.4" r="6.65"/><circle cx="545.9" cy="1659.4" r="6.65"/><circle cx="677.3" cy="1673.0" r="6.65"/><circle cx="706.5" cy="1673.0" r="6.65"/><circle cx="808.7" cy="1673.0" r="6.65"/><circle cx="983.9" cy="1673.0" r="6.65"/><circle cx="691.9" cy="1686.7" r="6.65"/><circle cx="706.5" cy="1686.7" r="6.65"/><circle cx="764.9" cy="1686.7" r="6.65"/><circle cx="779.5" cy="1686.7" r="6.65"/></g>
<g fill="#c4a2ff"><circle cx="520.6" cy="162.5" r="6.65"/><circle cx="856.7" cy="162.5" r="6.65"/><circle cx="944.3" cy="162.5" r="6.65"/><circle cx="988.1" cy="162.5" r="6.65"/><circle cx="564.5" cy="176.2" r="6.65"/><circle cx="725.2" cy="176.2" r="6.65"/><circle cx="842.0" cy="176.2" r="6.65"/><circle cx="579.1" cy="189.8" r="6.65"/><circle cx="725.2" cy="189.8" r="6.65"/><circle cx="739.8" cy="189.8" r="6.65"/><circle cx="549.8" cy="203.5" r="6.65"/><circle cx="564.5" cy="203.5" r="6.65"/><circle cx="579.1" cy="203.5" r="6.65"/><circle cx="725.2" cy="203.5" r="6.65"/><circle cx="973.5" cy="203.5" r="6.65"/><circle cx="564.5" cy="217.2" r="6.65"/><circle cx="579.1" cy="217.2" r="6.65"/><circle cx="973.5" cy="217.2" r="6.65"/><circle cx="506.0" cy="230.8" r="6.65"/><circle cx="579.1" cy="230.8" r="6.65"/><circle cx="535.2" cy="244.5" r="6.65"/><circle cx="973.5" cy="244.5" r="6.65"/><circle cx="535.2" cy="258.1" r="6.65"/><circle cx="549.8" cy="258.1" r="6.65"/><circle cx="725.2" cy="258.1" r="6.65"/><circle cx="535.2" cy="285.4" r="6.65"/><circle cx="506.0" cy="312.8" r="6.65"/><circle cx="535.2" cy="312.8" r="6.65"/><circle cx="549.8" cy="312.8" r="6.65"/><circle cx="535.2" cy="326.4" r="6.65"/><circle cx="535.2" cy="340.1" r="6.65"/><circle cx="549.8" cy="353.7" r="6.65"/><circle cx="535.2" cy="367.4" r="6.65"/><circle cx="491.4" cy="381.1" r="6.65"/><circle cx="593.7" cy="381.1" r="6.65"/><circle cx="491.4" cy="394.7" r="6.65"/><circle cx="506.0" cy="394.7" r="6.65"/><circle cx="491.4" cy="408.4" r="6.65"/><circle cx="506.0" cy="408.4" r="6.65"/><circle cx="491.4" cy="422.0" r="6.65"/><circle cx="535.2" cy="463.0" r="6.65"/><circle cx="506.0" cy="490.3" r="6.65"/><circle cx="506.0" cy="517.6" r="6.65"/><circle cx="566.8" cy="713.4" r="6.65"/><circle cx="654.4" cy="713.4" r="6.65"/><circle cx="800.5" cy="713.4" r="6.65"/><circle cx="844.3" cy="713.4" r="6.65"/><circle cx="771.3" cy="727.1" r="6.65"/><circle cx="902.8" cy="727.1" r="6.65"/><circle cx="902.8" cy="775.2" r="6.65"/><circle cx="596.0" cy="788.9" r="6.65"/><circle cx="581.4" cy="802.6" r="6.65"/><circle cx="596.0" cy="802.6" r="6.65"/><circle cx="654.4" cy="816.3" r="6.65"/><circle cx="727.5" cy="816.3" r="6.65"/><circle cx="829.7" cy="816.3" r="6.65"/><circle cx="975.8" cy="837.0" r="6.65"/><circle cx="727.5" cy="850.8" r="6.65"/><circle cx="771.3" cy="850.8" r="6.65"/><circle cx="785.9" cy="850.8" r="6.65"/><circle cx="566.8" cy="864.6" r="6.65"/><circle cx="581.4" cy="864.6" r="6.65"/><circle cx="727.5" cy="864.6" r="6.65"/><circle cx="815.1" cy="864.6" r="6.65"/><circle cx="522.9" cy="885.3" r="6.65"/><circle cx="727.5" cy="885.3" r="6.65"/><circle cx="815.1" cy="885.3" r="6.65"/><circle cx="946.6" cy="885.3" r="6.65"/><circle cx="990.4" cy="885.3" r="6.65"/><circle cx="522.9" cy="899.0" r="6.65"/><circle cx="566.8" cy="899.0" r="6.65"/><circle cx="771.3" cy="899.0" r="6.65"/><circle cx="961.2" cy="899.0" r="6.65"/><circle cx="727.5" cy="912.8" r="6.65"/><circle cx="800.5" cy="912.8" r="6.65"/><circle cx="946.6" cy="912.8" r="6.65"/><circle cx="742.1" cy="926.5" r="6.65"/><circle cx="785.9" cy="926.5" r="6.65"/><circle cx="902.8" cy="926.5" r="6.65"/><circle cx="932.0" cy="926.5" r="6.65"/><circle cx="990.4" cy="926.5" r="6.65"/><circle cx="969.3" cy="1008.1" r="6.65"/><circle cx="531.3" cy="1062.9" r="6.65"/><circle cx="969.3" cy="1062.9" r="6.65"/><circle cx="954.7" cy="1117.6" r="6.65"/><circle cx="691.9" cy="1145.0" r="6.65"/><circle cx="969.3" cy="1145.0" r="6.65"/><circle cx="677.3" cy="1166.0" r="6.65"/><circle cx="721.1" cy="1166.0" r="6.65"/><circle cx="502.1" cy="1179.7" r="6.65"/><circle cx="604.3" cy="1179.7" r="6.65"/><circle cx="721.1" cy="1179.7" r="6.65"/><circle cx="735.7" cy="1179.7" r="6.65"/><circle cx="794.1" cy="1179.7" r="6.65"/><circle cx="969.3" cy="1179.7" r="6.65"/><circle cx="983.9" cy="1179.7" r="6.65"/><circle cx="531.3" cy="1193.3" r="6.65"/><circle cx="808.7" cy="1193.3" r="6.65"/><circle cx="604.3" cy="1207.0" r="6.65"/><circle cx="633.5" cy="1207.0" r="6.65"/><circle cx="867.1" cy="1207.0" r="6.65"/><circle cx="983.9" cy="1207.0" r="6.65"/><circle cx="969.3" cy="1364.3" r="6.65"/><circle cx="487.5" cy="1405.3" r="6.65"/><circle cx="575.1" cy="1426.1" r="6.65"/><circle cx="677.3" cy="1426.1" r="6.65"/><circle cx="779.5" cy="1426.1" r="6.65"/><circle cx="983.9" cy="1426.1" r="6.65"/><circle cx="502.1" cy="1467.2" r="6.65"/><circle cx="531.3" cy="1467.2" r="6.65"/><circle cx="618.9" cy="1467.2" r="6.65"/><circle cx="662.7" cy="1467.2" r="6.65"/><circle cx="691.9" cy="1467.2" r="6.65"/><circle cx="779.5" cy="1467.2" r="6.65"/><circle cx="808.7" cy="1467.2" r="6.65"/><circle cx="575.1" cy="1480.9" r="6.65"/><circle cx="633.5" cy="1480.9" r="6.65"/><circle cx="983.9" cy="1480.9" r="6.65"/><circle cx="881.7" cy="1494.6" r="6.65"/><circle cx="896.3" cy="1494.6" r="6.65"/><circle cx="983.9" cy="1494.6" r="6.65"/><circle cx="516.7" cy="1515.3" r="6.65"/><circle cx="575.1" cy="1515.3" r="6.65"/><circle cx="721.1" cy="1515.3" r="6.65"/><circle cx="618.9" cy="1529.0" r="6.65"/><circle cx="662.7" cy="1529.0" r="6.65"/><circle cx="691.9" cy="1529.0" r="6.65"/><circle cx="604.3" cy="1542.6" r="6.65"/><circle cx="662.7" cy="1542.6" r="6.65"/><circle cx="794.1" cy="1542.6" r="6.65"/><circle cx="604.3" cy="1556.3" r="6.65"/><circle cx="618.9" cy="1556.3" r="6.65"/><circle cx="604.3" cy="1570.0" r="6.65"/><circle cx="618.9" cy="1570.0" r="6.65"/><circle cx="750.3" cy="1570.0" r="6.65"/><circle cx="794.1" cy="1570.0" r="6.65"/><circle cx="487.5" cy="1583.6" r="6.65"/><circle cx="983.9" cy="1583.6" r="6.65"/><circle cx="487.5" cy="1597.3" r="6.65"/><circle cx="633.5" cy="1610.9" r="6.65"/><circle cx="502.1" cy="1659.4" r="6.65"/><circle cx="633.5" cy="1659.4" r="6.65"/><circle cx="662.7" cy="1659.4" r="6.65"/><circle cx="677.3" cy="1659.4" r="6.65"/><circle cx="706.5" cy="1659.4" r="6.65"/><circle cx="735.7" cy="1659.4" r="6.65"/><circle cx="750.3" cy="1659.4" r="6.65"/><circle cx="779.5" cy="1659.4" r="6.65"/><circle cx="677.3" cy="1686.7" r="6.65"/><circle cx="808.7" cy="1686.7" r="6.65"/></g>
<g fill="#6239ff"><circle cx="535.2" cy="162.5" r="6.65"/><circle cx="549.8" cy="162.5" r="6.65"/><circle cx="608.3" cy="162.5" r="6.65"/><circle cx="622.9" cy="162.5" r="6.65"/><circle cx="637.5" cy="162.5" r="6.65"/><circle cx="725.2" cy="162.5" r="6.65"/><circle cx="769.0" cy="162.5" r="6.65"/><circle cx="798.2" cy="162.5" r="6.65"/><circle cx="871.3" cy="162.5" r="6.65"/><circle cx="535.2" cy="176.2" r="6.65"/><circle cx="549.8" cy="176.2" r="6.65"/><circle cx="652.1" cy="176.2" r="6.65"/><circle cx="871.3" cy="176.2" r="6.65"/><circle cx="885.9" cy="176.2" r="6.65"/><circle cx="900.5" cy="176.2" r="6.65"/><circle cx="652.1" cy="189.8" r="6.65"/><circle cx="710.6" cy="189.8" r="6.65"/><circle cx="769.0" cy="189.8" r="6.65"/><circle cx="783.6" cy="189.8" r="6.65"/><circle cx="798.2" cy="189.8" r="6.65"/><circle cx="812.8" cy="189.8" r="6.65"/><circle cx="856.7" cy="189.8" r="6.65"/><circle cx="871.3" cy="189.8" r="6.65"/><circle cx="885.9" cy="189.8" r="6.65"/><circle cx="915.1" cy="189.8" r="6.65"/><circle cx="593.7" cy="203.5" r="6.65"/><circle cx="608.3" cy="203.5" r="6.65"/><circle cx="637.5" cy="203.5" r="6.65"/><circle cx="666.7" cy="203.5" r="6.65"/><circle cx="681.3" cy="203.5" r="6.65"/><circle cx="710.6" cy="203.5" r="6.65"/><circle cx="769.0" cy="203.5" r="6.65"/><circle cx="798.2" cy="203.5" r="6.65"/><circle cx="842.0" cy="203.5" r="6.65"/><circle cx="856.7" cy="203.5" r="6.65"/><circle cx="871.3" cy="203.5" r="6.65"/><circle cx="885.9" cy="203.5" r="6.65"/><circle cx="958.9" cy="203.5" r="6.65"/><circle cx="608.3" cy="217.2" r="6.65"/><circle cx="666.7" cy="217.2" r="6.65"/><circle cx="710.6" cy="217.2" r="6.65"/><circle cx="769.0" cy="217.2" r="6.65"/><circle cx="783.6" cy="217.2" r="6.65"/><circle cx="798.2" cy="217.2" r="6.65"/><circle cx="812.8" cy="217.2" r="6.65"/><circle cx="842.0" cy="217.2" r="6.65"/><circle cx="856.7" cy="217.2" r="6.65"/><circle cx="871.3" cy="217.2" r="6.65"/><circle cx="900.5" cy="217.2" r="6.65"/><circle cx="915.1" cy="217.2" r="6.65"/><circle cx="958.9" cy="217.2" r="6.65"/><circle cx="622.9" cy="230.8" r="6.65"/><circle cx="637.5" cy="230.8" r="6.65"/><circle cx="666.7" cy="230.8" r="6.65"/><circle cx="769.0" cy="230.8" r="6.65"/><circle cx="783.6" cy="230.8" r="6.65"/><circle cx="798.2" cy="230.8" r="6.65"/><circle cx="900.5" cy="230.8" r="6.65"/><circle cx="681.3" cy="244.5" r="6.65"/><circle cx="695.9" cy="244.5" r="6.65"/><circle cx="710.6" cy="244.5" r="6.65"/><circle cx="769.0" cy="244.5" r="6.65"/><circle cx="783.6" cy="244.5" r="6.65"/><circle cx="812.8" cy="244.5" r="6.65"/><circle cx="842.0" cy="244.5" r="6.65"/><circle cx="915.1" cy="244.5" r="6.65"/><circle cx="593.7" cy="258.1" r="6.65"/><circle cx="622.9" cy="258.1" r="6.65"/><circle cx="652.1" cy="258.1" r="6.65"/><circle cx="681.3" cy="258.1" r="6.65"/><circle cx="695.9" cy="258.1" r="6.65"/><circle cx="710.6" cy="258.1" r="6.65"/><circle cx="754.4" cy="258.1" r="6.65"/><circle cx="769.0" cy="258.1" r="6.65"/><circle cx="798.2" cy="258.1" r="6.65"/><circle cx="812.8" cy="258.1" r="6.65"/><circle cx="827.4" cy="258.1" r="6.65"/><circle cx="856.7" cy="258.1" r="6.65"/><circle cx="885.9" cy="258.1" r="6.65"/><circle cx="900.5" cy="258.1" r="6.65"/><circle cx="929.7" cy="258.1" r="6.65"/><circle cx="944.3" cy="258.1" r="6.65"/><circle cx="988.1" cy="258.1" r="6.65"/><circle cx="652.1" cy="271.8" r="6.65"/><circle cx="666.7" cy="271.8" r="6.65"/><circle cx="754.4" cy="271.8" r="6.65"/><circle cx="769.0" cy="271.8" r="6.65"/><circle cx="783.6" cy="271.8" r="6.65"/><circle cx="798.2" cy="271.8" r="6.65"/><circle cx="885.9" cy="271.8" r="6.65"/><circle cx="564.5" cy="285.4" r="6.65"/><circle cx="622.9" cy="285.4" r="6.65"/><circle cx="754.4" cy="285.4" r="6.65"/><circle cx="812.8" cy="285.4" r="6.65"/><circle cx="856.7" cy="285.4" r="6.65"/><circle cx="900.5" cy="285.4" r="6.65"/><circle cx="929.7" cy="285.4" r="6.65"/><circle cx="944.3" cy="285.4" r="6.65"/><circle cx="958.9" cy="285.4" r="6.65"/><circle cx="564.5" cy="299.1" r="6.65"/><circle cx="579.1" cy="299.1" r="6.65"/><circle cx="622.9" cy="299.1" r="6.65"/><circle cx="652.1" cy="299.1" r="6.65"/><circle cx="666.7" cy="299.1" r="6.65"/><circle cx="681.3" cy="299.1" r="6.65"/><circle cx="695.9" cy="299.1" r="6.65"/><circle cx="710.6" cy="299.1" r="6.65"/><circle cx="739.8" cy="299.1" r="6.65"/><circle cx="769.0" cy="299.1" r="6.65"/><circle cx="783.6" cy="299.1" r="6.65"/><circle cx="798.2" cy="299.1" r="6.65"/><circle cx="812.8" cy="299.1" r="6.65"/><circle cx="885.9" cy="299.1" r="6.65"/><circle cx="900.5" cy="299.1" r="6.65"/><circle cx="915.1" cy="299.1" r="6.65"/><circle cx="929.7" cy="299.1" r="6.65"/><circle cx="944.3" cy="299.1" r="6.65"/><circle cx="958.9" cy="299.1" r="6.65"/><circle cx="973.5" cy="299.1" r="6.65"/><circle cx="593.7" cy="312.8" r="6.65"/><circle cx="666.7" cy="312.8" r="6.65"/><circle cx="681.3" cy="312.8" r="6.65"/><circle cx="827.4" cy="312.8" r="6.65"/><circle cx="856.7" cy="312.8" r="6.65"/><circle cx="958.9" cy="312.8" r="6.65"/><circle cx="608.3" cy="326.4" r="6.65"/><circle cx="637.5" cy="326.4" r="6.65"/><circle cx="652.1" cy="326.4" r="6.65"/><circle cx="681.3" cy="326.4" r="6.65"/><circle cx="695.9" cy="326.4" r="6.65"/><circle cx="754.4" cy="326.4" r="6.65"/><circle cx="798.2" cy="326.4" r="6.65"/><circle cx="856.7" cy="326.4" r="6.65"/><circle cx="871.3" cy="326.4" r="6.65"/><circle cx="885.9" cy="326.4" r="6.65"/><circle cx="915.1" cy="326.4" r="6.65"/><circle cx="958.9" cy="326.4" r="6.65"/><circle cx="622.9" cy="340.1" r="6.65"/><circle cx="637.5" cy="340.1" r="6.65"/><circle cx="681.3" cy="340.1" r="6.65"/><circle cx="856.7" cy="340.1" r="6.65"/><circle cx="871.3" cy="340.1" r="6.65"/><circle cx="929.7" cy="340.1" r="6.65"/><circle cx="944.3" cy="340.1" r="6.65"/><circle cx="622.9" cy="353.7" r="6.65"/><circle cx="681.3" cy="353.7" r="6.65"/><circle cx="710.6" cy="353.7" r="6.65"/><circle cx="754.4" cy="353.7" r="6.65"/><circle cx="798.2" cy="353.7" r="6.65"/><circle cx="871.3" cy="353.7" r="6.65"/><circle cx="944.3" cy="353.7" r="6.65"/><circle cx="988.1" cy="353.7" r="6.65"/><circle cx="579.1" cy="367.4" r="6.65"/><circle cx="593.7" cy="367.4" r="6.65"/><circle cx="637.5" cy="367.4" r="6.65"/><circle cx="754.4" cy="367.4" r="6.65"/><circle cx="798.2" cy="367.4" r="6.65"/><circle cx="900.5" cy="367.4" r="6.65"/><circle cx="944.3" cy="367.4" r="6.65"/><circle cx="988.1" cy="367.4" r="6.65"/><circle cx="579.1" cy="381.1" r="6.65"/><circle cx="652.1" cy="381.1" r="6.65"/><circle cx="695.9" cy="381.1" r="6.65"/><circle cx="564.5" cy="394.7" r="6.65"/><circle cx="593.7" cy="394.7" r="6.65"/><circle cx="827.4" cy="394.7" r="6.65"/><circle cx="842.0" cy="394.7" r="6.65"/><circle cx="958.9" cy="394.7" r="6.65"/><circle cx="754.4" cy="408.4" r="6.65"/><circle cx="798.2" cy="408.4" r="6.65"/><circle cx="593.7" cy="422.0" r="6.65"/><circle cx="754.4" cy="422.0" r="6.65"/><circle cx="929.7" cy="422.0" r="6.65"/><circle cx="944.3" cy="422.0" r="6.65"/><circle cx="958.9" cy="422.0" r="6.65"/><circle cx="608.3" cy="435.7" r="6.65"/><circle cx="652.1" cy="435.7" r="6.65"/><circle cx="681.3" cy="435.7" r="6.65"/><circle cx="754.4" cy="435.7" r="6.65"/><circle cx="827.4" cy="435.7" r="6.65"/><circle cx="856.7" cy="435.7" r="6.65"/><circle cx="944.3" cy="435.7" r="6.65"/><circle cx="593.7" cy="449.3" r="6.65"/><circle cx="608.3" cy="449.3" r="6.65"/><circle cx="622.9" cy="449.3" r="6.65"/><circle cx="637.5" cy="449.3" r="6.65"/><circle cx="681.3" cy="449.3" r="6.65"/><circle cx="754.4" cy="449.3" r="6.65"/><circle cx="827.4" cy="449.3" r="6.65"/><circle cx="842.0" cy="449.3" r="6.65"/><circle cx="871.3" cy="449.3" r="6.65"/><circle cx="885.9" cy="449.3" r="6.65"/><circle cx="929.7" cy="449.3" r="6.65"/><circle cx="593.7" cy="463.0" r="6.65"/><circle cx="681.3" cy="463.0" r="6.65"/><circle cx="827.4" cy="463.0" r="6.65"/><circle cx="871.3" cy="463.0" r="6.65"/><circle cx="885.9" cy="463.0" r="6.65"/><circle cx="973.5" cy="463.0" r="6.65"/><circle cx="827.4" cy="476.7" r="6.65"/><circle cx="973.5" cy="476.7" r="6.65"/><circle cx="988.1" cy="476.7" r="6.65"/><circle cx="564.5" cy="490.3" r="6.65"/><circle cx="652.1" cy="490.3" r="6.65"/><circle cx="549.8" cy="504.0" r="6.65"/><circle cx="608.3" cy="504.0" r="6.65"/><circle cx="652.1" cy="504.0" r="6.65"/><circle cx="666.7" cy="504.0" r="6.65"/><circle cx="681.3" cy="504.0" r="6.65"/><circle cx="710.6" cy="504.0" r="6.65"/><circle cx="739.8" cy="504.0" r="6.65"/><circle cx="783.6" cy="504.0" r="6.65"/><circle cx="798.2" cy="504.0" r="6.65"/><circle cx="812.8" cy="504.0" r="6.65"/><circle cx="827.4" cy="504.0" r="6.65"/><circle cx="842.0" cy="504.0" r="6.65"/><circle cx="856.7" cy="504.0" r="6.65"/><circle cx="871.3" cy="504.0" r="6.65"/><circle cx="885.9" cy="504.0" r="6.65"/><circle cx="900.5" cy="504.0" r="6.65"/><circle cx="915.1" cy="504.0" r="6.65"/><circle cx="944.3" cy="504.0" r="6.65"/><circle cx="535.2" cy="517.6" r="6.65"/><circle cx="593.7" cy="517.6" r="6.65"/><circle cx="652.1" cy="517.6" r="6.65"/><circle cx="681.3" cy="517.6" r="6.65"/><circle cx="710.6" cy="517.6" r="6.65"/><circle cx="812.8" cy="517.6" r="6.65"/><circle cx="827.4" cy="517.6" r="6.65"/><circle cx="988.1" cy="517.6" r="6.65"/><circle cx="871.3" cy="531.3" r="6.65"/><circle cx="988.1" cy="531.3" r="6.65"/><circle cx="535.2" cy="544.9" r="6.65"/><circle cx="754.4" cy="558.6" r="6.65"/><circle cx="929.7" cy="558.6" r="6.65"/><circle cx="988.1" cy="585.9" r="6.65"/><circle cx="639.8" cy="713.4" r="6.65"/><circle cx="669.0" cy="713.4" r="6.65"/><circle cx="990.4" cy="788.9" r="6.65"/><circle cx="975.8" cy="802.6" r="6.65"/><circle cx="990.4" cy="802.6" r="6.65"/><circle cx="946.6" cy="816.3" r="6.65"/><circle cx="975.8" cy="864.6" r="6.65"/><circle cx="975.8" cy="885.3" r="6.65"/><circle cx="779.5" cy="1166.0" r="6.65"/><circle cx="618.9" cy="1193.3" r="6.65"/><circle cx="618.9" cy="1207.0" r="6.65"/><circle cx="691.9" cy="1207.0" r="6.65"/><circle cx="735.7" cy="1207.0" r="6.65"/><circle cx="779.5" cy="1207.0" r="6.65"/><circle cx="794.1" cy="1207.0" r="6.65"/><circle cx="969.3" cy="1207.0" r="6.65"/><circle cx="691.9" cy="1494.6" r="6.65"/><circle cx="794.1" cy="1494.6" r="6.65"/><circle cx="808.7" cy="1494.6" r="6.65"/><circle cx="560.5" cy="1542.6" r="6.65"/><circle cx="677.3" cy="1542.6" r="6.65"/><circle cx="516.7" cy="1583.6" r="6.65"/><circle cx="560.5" cy="1583.6" r="6.65"/><circle cx="575.1" cy="1583.6" r="6.65"/><circle cx="721.1" cy="1583.6" r="6.65"/><circle cx="808.7" cy="1583.6" r="6.65"/><circle cx="502.1" cy="1597.3" r="6.65"/><circle cx="516.7" cy="1597.3" r="6.65"/><circle cx="618.9" cy="1597.3" r="6.65"/><circle cx="677.3" cy="1597.3" r="6.65"/><circle cx="735.7" cy="1597.3" r="6.65"/><circle cx="516.7" cy="1610.9" r="6.65"/><circle cx="560.5" cy="1610.9" r="6.65"/><circle cx="575.1" cy="1610.9" r="6.65"/><circle cx="691.9" cy="1610.9" r="6.65"/><circle cx="750.3" cy="1624.6" r="6.65"/><circle cx="502.1" cy="1645.7" r="6.65"/></g>
<g fill="#b38bff"><circle cx="564.5" cy="162.5" r="6.65"/><circle cx="535.2" cy="189.8" r="6.65"/><circle cx="549.8" cy="189.8" r="6.65"/><circle cx="564.5" cy="189.8" r="6.65"/><circle cx="929.7" cy="189.8" r="6.65"/><circle cx="973.5" cy="189.8" r="6.65"/><circle cx="535.2" cy="217.2" r="6.65"/><circle cx="549.8" cy="217.2" r="6.65"/><circle cx="725.2" cy="217.2" r="6.65"/><circle cx="827.4" cy="217.2" r="6.65"/><circle cx="535.2" cy="230.8" r="6.65"/><circle cx="549.8" cy="230.8" r="6.65"/><circle cx="564.5" cy="230.8" r="6.65"/><circle cx="929.7" cy="230.8" r="6.65"/><circle cx="944.3" cy="230.8" r="6.65"/><circle cx="973.5" cy="230.8" r="6.65"/><circle cx="564.5" cy="258.1" r="6.65"/><circle cx="579.1" cy="258.1" r="6.65"/><circle cx="973.5" cy="258.1" r="6.65"/><circle cx="535.2" cy="271.8" r="6.65"/><circle cx="549.8" cy="271.8" r="6.65"/><circle cx="579.1" cy="312.8" r="6.65"/><circle cx="988.1" cy="312.8" r="6.65"/><circle cx="549.8" cy="326.4" r="6.65"/><circle cx="929.7" cy="326.4" r="6.65"/><circle cx="549.8" cy="340.1" r="6.65"/><circle cx="535.2" cy="353.7" r="6.65"/><circle cx="549.8" cy="367.4" r="6.65"/><circle cx="725.2" cy="367.4" r="6.65"/><circle cx="827.4" cy="381.1" r="6.65"/><circle cx="973.5" cy="381.1" r="6.65"/><circle cx="929.7" cy="394.7" r="6.65"/><circle cx="973.5" cy="394.7" r="6.65"/><circle cx="579.1" cy="408.4" r="6.65"/><circle cx="535.2" cy="435.7" r="6.65"/><circle cx="535.2" cy="449.3" r="6.65"/><circle cx="535.2" cy="476.7" r="6.65"/><circle cx="579.1" cy="476.7" r="6.65"/><circle cx="549.8" cy="490.3" r="6.65"/><circle cx="725.2" cy="490.3" r="6.65"/><circle cx="815.1" cy="713.4" r="6.65"/><circle cx="990.4" cy="713.4" r="6.65"/><circle cx="508.3" cy="727.1" r="6.65"/><circle cx="566.8" cy="727.1" r="6.65"/><circle cx="683.6" cy="727.1" r="6.65"/><circle cx="712.9" cy="727.1" r="6.65"/><circle cx="873.6" cy="727.1" r="6.65"/><circle cx="975.8" cy="747.8" r="6.65"/><circle cx="610.6" cy="802.6" r="6.65"/><circle cx="625.2" cy="802.6" r="6.65"/><circle cx="756.7" cy="802.6" r="6.65"/><circle cx="917.4" cy="802.6" r="6.65"/><circle cx="581.4" cy="816.3" r="6.65"/><circle cx="566.8" cy="850.8" r="6.65"/><circle cx="815.1" cy="850.8" r="6.65"/><circle cx="946.6" cy="850.8" r="6.65"/><circle cx="771.3" cy="864.6" r="6.65"/><circle cx="785.9" cy="864.6" r="6.65"/><circle cx="932.0" cy="864.6" r="6.65"/><circle cx="990.4" cy="864.6" r="6.65"/><circle cx="742.1" cy="885.3" r="6.65"/><circle cx="932.0" cy="885.3" r="6.65"/><circle cx="742.1" cy="899.0" r="6.65"/><circle cx="800.5" cy="899.0" r="6.65"/><circle cx="932.0" cy="899.0" r="6.65"/><circle cx="990.4" cy="899.0" r="6.65"/><circle cx="975.8" cy="912.8" r="6.65"/><circle cx="581.4" cy="926.5" r="6.65"/><circle cx="771.3" cy="926.5" r="6.65"/><circle cx="815.1" cy="926.5" r="6.65"/><circle cx="946.6" cy="926.5" r="6.65"/><circle cx="969.3" cy="1076.5" r="6.65"/><circle cx="735.7" cy="1166.0" r="6.65"/><circle cx="808.7" cy="1166.0" r="6.65"/><circle cx="881.7" cy="1166.0" r="6.65"/><circle cx="983.9" cy="1166.0" r="6.65"/><circle cx="618.9" cy="1179.7" r="6.65"/><circle cx="677.3" cy="1179.7" r="6.65"/><circle cx="691.9" cy="1179.7" r="6.65"/><circle cx="794.1" cy="1193.3" r="6.65"/><circle cx="867.1" cy="1193.3" r="6.65"/><circle cx="589.7" cy="1207.0" r="6.65"/><circle cx="706.5" cy="1467.2" r="6.65"/><circle cx="545.9" cy="1480.9" r="6.65"/><circle cx="560.5" cy="1480.9" r="6.65"/><circle cx="735.7" cy="1480.9" r="6.65"/><circle cx="545.9" cy="1494.6" r="6.65"/><circle cx="575.1" cy="1494.6" r="6.65"/><circle cx="633.5" cy="1494.6" r="6.65"/><circle cx="735.7" cy="1494.6" r="6.65"/><circle cx="750.3" cy="1494.6" r="6.65"/><circle cx="750.3" cy="1529.0" r="6.65"/><circle cx="516.7" cy="1542.6" r="6.65"/><circle cx="691.9" cy="1542.6" r="6.65"/><circle cx="706.5" cy="1542.6" r="6.65"/><circle cx="750.3" cy="1542.6" r="6.65"/><circle cx="779.5" cy="1542.6" r="6.65"/><circle cx="545.9" cy="1556.3" r="6.65"/><circle cx="691.9" cy="1556.3" r="6.65"/><circle cx="706.5" cy="1556.3" r="6.65"/><circle cx="750.3" cy="1556.3" r="6.65"/><circle cx="764.9" cy="1556.3" r="6.65"/><circle cx="779.5" cy="1556.3" r="6.65"/><circle cx="794.1" cy="1556.3" r="6.65"/><circle cx="516.7" cy="1570.0" r="6.65"/><circle cx="662.7" cy="1570.0" r="6.65"/><circle cx="677.3" cy="1570.0" r="6.65"/><circle cx="691.9" cy="1570.0" r="6.65"/><circle cx="764.9" cy="1570.0" r="6.65"/><circle cx="779.5" cy="1570.0" r="6.65"/><circle cx="662.7" cy="1583.6" r="6.65"/><circle cx="706.5" cy="1583.6" r="6.65"/><circle cx="794.1" cy="1597.3" r="6.65"/><circle cx="487.5" cy="1610.9" r="6.65"/><circle cx="487.5" cy="1624.6" r="6.65"/><circle cx="589.7" cy="1624.6" r="6.65"/><circle cx="560.5" cy="1659.4" r="6.65"/><circle cx="721.1" cy="1659.4" r="6.65"/><circle cx="764.9" cy="1659.4" r="6.65"/></g>
<g fill="#e3d0ff"><circle cx="579.1" cy="162.5" r="6.65"/><circle cx="973.5" cy="176.2" r="6.65"/><circle cx="506.0" cy="203.5" r="6.65"/><circle cx="506.0" cy="217.2" r="6.65"/><circle cx="520.6" cy="271.8" r="6.65"/><circle cx="506.0" cy="285.4" r="6.65"/><circle cx="520.6" cy="285.4" r="6.65"/><circle cx="506.0" cy="326.4" r="6.65"/><circle cx="506.0" cy="353.7" r="6.65"/><circle cx="520.6" cy="353.7" r="6.65"/><circle cx="506.0" cy="367.4" r="6.65"/><circle cx="506.0" cy="435.7" r="6.65"/><circle cx="506.0" cy="449.3" r="6.65"/><circle cx="506.0" cy="531.3" r="6.65"/><circle cx="520.6" cy="531.3" r="6.65"/><circle cx="506.0" cy="572.3" r="6.65"/><circle cx="520.6" cy="585.9" r="6.65"/><circle cx="508.3" cy="672.3" r="6.65"/><circle cx="639.8" cy="699.7" r="6.65"/><circle cx="669.0" cy="699.7" r="6.65"/><circle cx="493.7" cy="713.4" r="6.65"/><circle cx="508.3" cy="713.4" r="6.65"/><circle cx="596.0" cy="775.2" r="6.65"/><circle cx="581.4" cy="837.0" r="6.65"/><circle cx="932.0" cy="850.8" r="6.65"/><circle cx="756.7" cy="885.3" r="6.65"/><circle cx="785.9" cy="885.3" r="6.65"/><circle cx="961.2" cy="885.3" r="6.65"/><circle cx="756.7" cy="899.0" r="6.65"/><circle cx="566.8" cy="912.8" r="6.65"/><circle cx="581.4" cy="912.8" r="6.65"/><circle cx="785.9" cy="912.8" r="6.65"/><circle cx="522.9" cy="926.5" r="6.65"/><circle cx="756.7" cy="926.5" r="6.65"/><circle cx="925.5" cy="1021.8" r="6.65"/><circle cx="516.7" cy="1035.5" r="6.65"/><circle cx="531.3" cy="1076.5" r="6.65"/><circle cx="925.5" cy="1117.6" r="6.65"/><circle cx="969.3" cy="1117.6" r="6.65"/><circle cx="940.1" cy="1145.0" r="6.65"/><circle cx="502.1" cy="1166.0" r="6.65"/><circle cx="852.5" cy="1179.7" r="6.65"/><circle cx="867.1" cy="1179.7" r="6.65"/><circle cx="502.1" cy="1193.3" r="6.65"/><circle cx="604.3" cy="1193.3" r="6.65"/><circle cx="502.1" cy="1241.5" r="6.65"/><circle cx="487.5" cy="1282.4" r="6.65"/><circle cx="487.5" cy="1323.4" r="6.65"/><circle cx="487.5" cy="1364.3" r="6.65"/><circle cx="969.3" cy="1378.0" r="6.65"/><circle cx="531.3" cy="1391.6" r="6.65"/><circle cx="531.3" cy="1405.3" r="6.65"/><circle cx="735.7" cy="1426.1" r="6.65"/><circle cx="750.3" cy="1426.1" r="6.65"/><circle cx="516.7" cy="1453.5" r="6.65"/><circle cx="545.9" cy="1453.5" r="6.65"/><circle cx="560.5" cy="1453.5" r="6.65"/><circle cx="575.1" cy="1453.5" r="6.65"/><circle cx="618.9" cy="1453.5" r="6.65"/><circle cx="662.7" cy="1453.5" r="6.65"/><circle cx="677.3" cy="1453.5" r="6.65"/><circle cx="691.9" cy="1453.5" r="6.65"/><circle cx="706.5" cy="1453.5" r="6.65"/><circle cx="764.9" cy="1453.5" r="6.65"/><circle cx="779.5" cy="1453.5" r="6.65"/><circle cx="794.1" cy="1453.5" r="6.65"/><circle cx="808.7" cy="1453.5" r="6.65"/><circle cx="721.1" cy="1467.2" r="6.65"/><circle cx="750.3" cy="1467.2" r="6.65"/><circle cx="954.7" cy="1467.2" r="6.65"/><circle cx="487.5" cy="1515.3" r="6.65"/><circle cx="502.1" cy="1515.3" r="6.65"/><circle cx="560.5" cy="1515.3" r="6.65"/><circle cx="633.5" cy="1515.3" r="6.65"/><circle cx="677.3" cy="1515.3" r="6.65"/><circle cx="691.9" cy="1515.3" r="6.65"/><circle cx="706.5" cy="1515.3" r="6.65"/><circle cx="779.5" cy="1515.3" r="6.65"/><circle cx="794.1" cy="1515.3" r="6.65"/><circle cx="983.9" cy="1515.3" r="6.65"/><circle cx="487.5" cy="1556.3" r="6.65"/><circle cx="487.5" cy="1570.0" r="6.65"/><circle cx="633.5" cy="1570.0" r="6.65"/><circle cx="633.5" cy="1624.6" r="6.65"/><circle cx="618.9" cy="1673.0" r="6.65"/><circle cx="560.5" cy="1686.7" r="6.65"/><circle cx="618.9" cy="1686.7" r="6.65"/><circle cx="662.7" cy="1686.7" r="6.65"/><circle cx="721.1" cy="1686.7" r="6.65"/><circle cx="735.7" cy="1686.7" r="6.65"/><circle cx="750.3" cy="1686.7" r="6.65"/><circle cx="794.1" cy="1686.7" r="6.65"/></g>
<g fill="#8356ff"><circle cx="652.1" cy="162.5" r="6.65"/><circle cx="666.7" cy="162.5" r="6.65"/><circle cx="739.8" cy="162.5" r="6.65"/><circle cx="754.4" cy="162.5" r="6.65"/><circle cx="608.3" cy="176.2" r="6.65"/><circle cx="739.8" cy="176.2" r="6.65"/><circle cx="856.7" cy="176.2" r="6.65"/><circle cx="593.7" cy="189.8" r="6.65"/><circle cx="608.3" cy="189.8" r="6.65"/><circle cx="622.9" cy="189.8" r="6.65"/><circle cx="637.5" cy="189.8" r="6.65"/><circle cx="695.9" cy="189.8" r="6.65"/><circle cx="754.4" cy="189.8" r="6.65"/><circle cx="827.4" cy="189.8" r="6.65"/><circle cx="988.1" cy="189.8" r="6.65"/><circle cx="622.9" cy="203.5" r="6.65"/><circle cx="652.1" cy="203.5" r="6.65"/><circle cx="695.9" cy="203.5" r="6.65"/><circle cx="754.4" cy="203.5" r="6.65"/><circle cx="944.3" cy="203.5" r="6.65"/><circle cx="988.1" cy="203.5" r="6.65"/><circle cx="593.7" cy="217.2" r="6.65"/><circle cx="622.9" cy="217.2" r="6.65"/><circle cx="637.5" cy="217.2" r="6.65"/><circle cx="652.1" cy="217.2" r="6.65"/><circle cx="695.9" cy="217.2" r="6.65"/><circle cx="739.8" cy="217.2" r="6.65"/><circle cx="754.4" cy="217.2" r="6.65"/><circle cx="885.9" cy="217.2" r="6.65"/><circle cx="593.7" cy="230.8" r="6.65"/><circle cx="608.3" cy="230.8" r="6.65"/><circle cx="652.1" cy="230.8" r="6.65"/><circle cx="695.9" cy="230.8" r="6.65"/><circle cx="827.4" cy="230.8" r="6.65"/><circle cx="842.0" cy="230.8" r="6.65"/><circle cx="856.7" cy="230.8" r="6.65"/><circle cx="871.3" cy="230.8" r="6.65"/><circle cx="885.9" cy="230.8" r="6.65"/><circle cx="915.1" cy="230.8" r="6.65"/><circle cx="564.5" cy="244.5" r="6.65"/><circle cx="608.3" cy="244.5" r="6.65"/><circle cx="622.9" cy="244.5" r="6.65"/><circle cx="652.1" cy="244.5" r="6.65"/><circle cx="754.4" cy="244.5" r="6.65"/><circle cx="798.2" cy="244.5" r="6.65"/><circle cx="827.4" cy="244.5" r="6.65"/><circle cx="856.7" cy="244.5" r="6.65"/><circle cx="900.5" cy="244.5" r="6.65"/><circle cx="929.7" cy="244.5" r="6.65"/><circle cx="944.3" cy="244.5" r="6.65"/><circle cx="608.3" cy="258.1" r="6.65"/><circle cx="564.5" cy="271.8" r="6.65"/><circle cx="608.3" cy="271.8" r="6.65"/><circle cx="622.9" cy="271.8" r="6.65"/><circle cx="637.5" cy="271.8" r="6.65"/><circle cx="681.3" cy="271.8" r="6.65"/><circle cx="695.9" cy="271.8" r="6.65"/><circle cx="725.2" cy="271.8" r="6.65"/><circle cx="739.8" cy="271.8" r="6.65"/><circle cx="842.0" cy="271.8" r="6.65"/><circle cx="856.7" cy="271.8" r="6.65"/><circle cx="900.5" cy="271.8" r="6.65"/><circle cx="915.1" cy="271.8" r="6.65"/><circle cx="929.7" cy="271.8" r="6.65"/><circle cx="988.1" cy="271.8" r="6.65"/><circle cx="579.1" cy="285.4" r="6.65"/><circle cx="593.7" cy="285.4" r="6.65"/><circle cx="608.3" cy="285.4" r="6.65"/><circle cx="637.5" cy="285.4" r="6.65"/><circle cx="652.1" cy="285.4" r="6.65"/><circle cx="681.3" cy="285.4" r="6.65"/><circle cx="725.2" cy="285.4" r="6.65"/><circle cx="739.8" cy="285.4" r="6.65"/><circle cx="842.0" cy="285.4" r="6.65"/><circle cx="871.3" cy="285.4" r="6.65"/><circle cx="973.5" cy="285.4" r="6.65"/><circle cx="988.1" cy="285.4" r="6.65"/><circle cx="593.7" cy="299.1" r="6.65"/><circle cx="637.5" cy="299.1" r="6.65"/><circle cx="725.2" cy="299.1" r="6.65"/><circle cx="754.4" cy="299.1" r="6.65"/><circle cx="827.4" cy="299.1" r="6.65"/><circle cx="842.0" cy="299.1" r="6.65"/><circle cx="856.7" cy="299.1" r="6.65"/><circle cx="988.1" cy="299.1" r="6.65"/><circle cx="608.3" cy="312.8" r="6.65"/><circle cx="725.2" cy="312.8" r="6.65"/><circle cx="739.8" cy="312.8" r="6.65"/><circle cx="754.4" cy="312.8" r="6.65"/><circle cx="871.3" cy="312.8" r="6.65"/><circle cx="564.5" cy="326.4" r="6.65"/><circle cx="593.7" cy="326.4" r="6.65"/><circle cx="725.2" cy="326.4" r="6.65"/><circle cx="739.8" cy="326.4" r="6.65"/><circle cx="827.4" cy="326.4" r="6.65"/><circle cx="988.1" cy="326.4" r="6.65"/><circle cx="593.7" cy="340.1" r="6.65"/><circle cx="608.3" cy="340.1" r="6.65"/><circle cx="652.1" cy="340.1" r="6.65"/><circle cx="725.2" cy="340.1" r="6.65"/><circle cx="739.8" cy="340.1" r="6.65"/><circle cx="827.4" cy="340.1" r="6.65"/><circle cx="973.5" cy="340.1" r="6.65"/><circle cx="988.1" cy="340.1" r="6.65"/><circle cx="564.5" cy="353.7" r="6.65"/><circle cx="579.1" cy="353.7" r="6.65"/><circle cx="608.3" cy="353.7" r="6.65"/><circle cx="652.1" cy="353.7" r="6.65"/><circle cx="827.4" cy="353.7" r="6.65"/><circle cx="973.5" cy="353.7" r="6.65"/><circle cx="564.5" cy="367.4" r="6.65"/><circle cx="608.3" cy="367.4" r="6.65"/><circle cx="681.3" cy="367.4" r="6.65"/><circle cx="695.9" cy="367.4" r="6.65"/><circle cx="739.8" cy="367.4" r="6.65"/><circle cx="827.4" cy="367.4" r="6.65"/><circle cx="973.5" cy="367.4" r="6.65"/><circle cx="535.2" cy="381.1" r="6.65"/><circle cx="608.3" cy="381.1" r="6.65"/><circle cx="856.7" cy="381.1" r="6.65"/><circle cx="929.7" cy="381.1" r="6.65"/><circle cx="958.9" cy="381.1" r="6.65"/><circle cx="754.4" cy="394.7" r="6.65"/><circle cx="944.3" cy="394.7" r="6.65"/><circle cx="564.5" cy="408.4" r="6.65"/><circle cx="725.2" cy="408.4" r="6.65"/><circle cx="739.8" cy="408.4" r="6.65"/><circle cx="929.7" cy="408.4" r="6.65"/><circle cx="944.3" cy="408.4" r="6.65"/><circle cx="579.1" cy="422.0" r="6.65"/><circle cx="725.2" cy="422.0" r="6.65"/><circle cx="827.4" cy="422.0" r="6.65"/><circle cx="842.0" cy="422.0" r="6.65"/><circle cx="973.5" cy="422.0" r="6.65"/><circle cx="988.1" cy="422.0" r="6.65"/><circle cx="564.5" cy="435.7" r="6.65"/><circle cx="593.7" cy="435.7" r="6.65"/><circle cx="739.8" cy="435.7" r="6.65"/><circle cx="871.3" cy="435.7" r="6.65"/><circle cx="929.7" cy="435.7" r="6.65"/><circle cx="973.5" cy="435.7" r="6.65"/><circle cx="988.1" cy="435.7" r="6.65"/><circle cx="739.8" cy="449.3" r="6.65"/><circle cx="973.5" cy="449.3" r="6.65"/><circle cx="988.1" cy="449.3" r="6.65"/><circle cx="549.8" cy="463.0" r="6.65"/><circle cx="564.5" cy="463.0" r="6.65"/><circle cx="579.1" cy="463.0" r="6.65"/><circle cx="608.3" cy="463.0" r="6.65"/><circle cx="988.1" cy="463.0" r="6.65"/><circle cx="871.3" cy="476.7" r="6.65"/><circle cx="929.7" cy="476.7" r="6.65"/><circle cx="535.2" cy="490.3" r="6.65"/><circle cx="593.7" cy="490.3" r="6.65"/><circle cx="754.4" cy="490.3" r="6.65"/><circle cx="929.7" cy="490.3" r="6.65"/><circle cx="535.2" cy="504.0" r="6.65"/><circle cx="725.2" cy="504.0" r="6.65"/><circle cx="754.4" cy="504.0" r="6.65"/><circle cx="929.7" cy="504.0" r="6.65"/><circle cx="973.5" cy="504.0" r="6.65"/><circle cx="549.8" cy="517.6" r="6.65"/><circle cx="725.2" cy="517.6" r="6.65"/><circle cx="754.4" cy="517.6" r="6.65"/><circle cx="769.0" cy="517.6" r="6.65"/><circle cx="871.3" cy="517.6" r="6.65"/><circle cx="535.2" cy="531.3" r="6.65"/><circle cx="725.2" cy="544.9" r="6.65"/><circle cx="535.2" cy="558.6" r="6.65"/><circle cx="549.8" cy="558.6" r="6.65"/><circle cx="827.4" cy="558.6" r="6.65"/><circle cx="871.3" cy="558.6" r="6.65"/><circle cx="988.1" cy="572.3" r="6.65"/><circle cx="669.0" cy="727.1" r="6.65"/><circle cx="785.9" cy="727.1" r="6.65"/><circle cx="961.2" cy="727.1" r="6.65"/><circle cx="975.8" cy="775.2" r="6.65"/><circle cx="639.8" cy="802.6" r="6.65"/><circle cx="625.2" cy="816.3" r="6.65"/><circle cx="522.9" cy="850.8" r="6.65"/><circle cx="522.9" cy="864.6" r="6.65"/><circle cx="975.8" cy="899.0" r="6.65"/><circle cx="961.2" cy="926.5" r="6.65"/><circle cx="794.1" cy="1166.0" r="6.65"/><circle cx="706.5" cy="1179.7" r="6.65"/><circle cx="779.5" cy="1179.7" r="6.65"/><circle cx="691.9" cy="1193.3" r="6.65"/><circle cx="852.5" cy="1207.0" r="6.65"/><circle cx="881.7" cy="1207.0" r="6.65"/><circle cx="677.3" cy="1480.9" r="6.65"/><circle cx="706.5" cy="1480.9" r="6.65"/><circle cx="779.5" cy="1480.9" r="6.65"/><circle cx="618.9" cy="1494.6" r="6.65"/><circle cx="677.3" cy="1494.6" r="6.65"/><circle cx="706.5" cy="1494.6" r="6.65"/><circle cx="721.1" cy="1494.6" r="6.65"/><circle cx="779.5" cy="1494.6" r="6.65"/><circle cx="516.7" cy="1529.0" r="6.65"/><circle cx="560.5" cy="1529.0" r="6.65"/><circle cx="575.1" cy="1529.0" r="6.65"/><circle cx="721.1" cy="1529.0" r="6.65"/><circle cx="735.7" cy="1529.0" r="6.65"/><circle cx="808.7" cy="1529.0" r="6.65"/><circle cx="721.1" cy="1542.6" r="6.65"/><circle cx="808.7" cy="1542.6" r="6.65"/><circle cx="575.1" cy="1556.3" r="6.65"/><circle cx="721.1" cy="1556.3" r="6.65"/><circle cx="721.1" cy="1570.0" r="6.65"/><circle cx="691.9" cy="1583.6" r="6.65"/><circle cx="735.7" cy="1583.6" r="6.65"/><circle cx="750.3" cy="1583.6" r="6.65"/><circle cx="764.9" cy="1583.6" r="6.65"/><circle cx="779.5" cy="1583.6" r="6.65"/><circle cx="794.1" cy="1583.6" r="6.65"/><circle cx="604.3" cy="1597.3" r="6.65"/><circle cx="691.9" cy="1597.3" r="6.65"/><circle cx="706.5" cy="1597.3" r="6.65"/><circle cx="750.3" cy="1597.3" r="6.65"/><circle cx="779.5" cy="1597.3" r="6.65"/><circle cx="706.5" cy="1610.9" r="6.65"/><circle cx="735.7" cy="1610.9" r="6.65"/><circle cx="750.3" cy="1610.9" r="6.65"/><circle cx="794.1" cy="1610.9" r="6.65"/><circle cx="575.1" cy="1645.7" r="6.65"/><circle cx="648.1" cy="1645.7" r="6.65"/><circle cx="662.7" cy="1645.7" r="6.65"/><circle cx="691.9" cy="1645.7" r="6.65"/><circle cx="706.5" cy="1645.7" r="6.65"/><circle cx="808.7" cy="1645.7" r="6.65"/><circle cx="575.1" cy="1659.4" r="6.65"/><circle cx="808.7" cy="1659.4" r="6.65"/></g>
<g fill="#0000ff"><circle cx="681.3" cy="162.5" r="6.65"/><circle cx="710.6" cy="162.5" r="6.65"/><circle cx="783.6" cy="162.5" r="6.65"/><circle cx="681.3" cy="176.2" r="6.65"/><circle cx="710.6" cy="176.2" r="6.65"/><circle cx="769.0" cy="176.2" r="6.65"/><circle cx="783.6" cy="176.2" r="6.65"/><circle cx="915.1" cy="176.2" r="6.65"/><circle cx="666.7" cy="244.5" r="6.65"/><circle cx="885.9" cy="244.5" r="6.65"/><circle cx="958.9" cy="244.5" r="6.65"/><circle cx="695.9" cy="312.8" r="6.65"/><circle cx="769.0" cy="312.8" r="6.65"/><circle cx="783.6" cy="312.8" r="6.65"/><circle cx="798.2" cy="312.8" r="6.65"/><circle cx="812.8" cy="312.8" r="6.65"/><circle cx="885.9" cy="312.8" r="6.65"/><circle cx="900.5" cy="312.8" r="6.65"/><circle cx="842.0" cy="353.7" r="6.65"/><circle cx="900.5" cy="353.7" r="6.65"/><circle cx="783.6" cy="367.4" r="6.65"/><circle cx="958.9" cy="367.4" r="6.65"/><circle cx="622.9" cy="381.1" r="6.65"/><circle cx="666.7" cy="381.1" r="6.65"/><circle cx="681.3" cy="381.1" r="6.65"/><circle cx="710.6" cy="381.1" r="6.65"/><circle cx="739.8" cy="381.1" r="6.65"/><circle cx="754.4" cy="381.1" r="6.65"/><circle cx="769.0" cy="381.1" r="6.65"/><circle cx="783.6" cy="381.1" r="6.65"/><circle cx="798.2" cy="381.1" r="6.65"/><circle cx="812.8" cy="381.1" r="6.65"/><circle cx="885.9" cy="381.1" r="6.65"/><circle cx="900.5" cy="381.1" r="6.65"/><circle cx="915.1" cy="381.1" r="6.65"/><circle cx="535.2" cy="394.7" r="6.65"/><circle cx="622.9" cy="394.7" r="6.65"/><circle cx="637.5" cy="394.7" r="6.65"/><circle cx="652.1" cy="394.7" r="6.65"/><circle cx="666.7" cy="394.7" r="6.65"/><circle cx="681.3" cy="394.7" r="6.65"/><circle cx="695.9" cy="394.7" r="6.65"/><circle cx="710.6" cy="394.7" r="6.65"/><circle cx="769.0" cy="394.7" r="6.65"/><circle cx="783.6" cy="394.7" r="6.65"/><circle cx="798.2" cy="394.7" r="6.65"/><circle cx="812.8" cy="394.7" r="6.65"/><circle cx="856.7" cy="394.7" r="6.65"/><circle cx="871.3" cy="394.7" r="6.65"/><circle cx="885.9" cy="394.7" r="6.65"/><circle cx="900.5" cy="394.7" r="6.65"/><circle cx="915.1" cy="394.7" r="6.65"/><circle cx="593.7" cy="408.4" r="6.65"/><circle cx="608.3" cy="408.4" r="6.65"/><circle cx="622.9" cy="408.4" r="6.65"/><circle cx="637.5" cy="408.4" r="6.65"/><circle cx="652.1" cy="408.4" r="6.65"/><circle cx="666.7" cy="408.4" r="6.65"/><circle cx="681.3" cy="408.4" r="6.65"/><circle cx="695.9" cy="408.4" r="6.65"/><circle cx="710.6" cy="408.4" r="6.65"/><circle cx="783.6" cy="408.4" r="6.65"/><circle cx="827.4" cy="408.4" r="6.65"/><circle cx="842.0" cy="408.4" r="6.65"/><circle cx="856.7" cy="408.4" r="6.65"/><circle cx="871.3" cy="408.4" r="6.65"/><circle cx="885.9" cy="408.4" r="6.65"/><circle cx="915.1" cy="408.4" r="6.65"/><circle cx="622.9" cy="422.0" r="6.65"/><circle cx="666.7" cy="422.0" r="6.65"/><circle cx="681.3" cy="422.0" r="6.65"/><circle cx="695.9" cy="422.0" r="6.65"/><circle cx="710.6" cy="422.0" r="6.65"/><circle cx="739.8" cy="422.0" r="6.65"/><circle cx="769.0" cy="422.0" r="6.65"/><circle cx="783.6" cy="422.0" r="6.65"/><circle cx="798.2" cy="422.0" r="6.65"/><circle cx="812.8" cy="422.0" r="6.65"/><circle cx="871.3" cy="422.0" r="6.65"/><circle cx="885.9" cy="422.0" r="6.65"/><circle cx="900.5" cy="422.0" r="6.65"/><circle cx="915.1" cy="422.0" r="6.65"/><circle cx="915.1" cy="435.7" r="6.65"/><circle cx="842.0" cy="463.0" r="6.65"/><circle cx="915.1" cy="463.0" r="6.65"/><circle cx="593.7" cy="476.7" r="6.65"/><circle cx="608.3" cy="476.7" r="6.65"/><circle cx="622.9" cy="476.7" r="6.65"/><circle cx="637.5" cy="476.7" r="6.65"/><circle cx="652.1" cy="476.7" r="6.65"/><circle cx="666.7" cy="476.7" r="6.65"/><circle cx="681.3" cy="476.7" r="6.65"/><circle cx="695.9" cy="476.7" r="6.65"/><circle cx="710.6" cy="476.7" r="6.65"/><circle cx="754.4" cy="476.7" r="6.65"/><circle cx="769.0" cy="476.7" r="6.65"/><circle cx="783.6" cy="476.7" r="6.65"/><circle cx="798.2" cy="476.7" r="6.65"/><circle cx="812.8" cy="476.7" r="6.65"/><circle cx="842.0" cy="476.7" r="6.65"/><circle cx="856.7" cy="476.7" r="6.65"/><circle cx="885.9" cy="476.7" r="6.65"/><circle cx="900.5" cy="476.7" r="6.65"/><circle cx="915.1" cy="476.7" r="6.65"/><circle cx="958.9" cy="476.7" r="6.65"/><circle cx="637.5" cy="490.3" r="6.65"/><circle cx="666.7" cy="490.3" r="6.65"/><circle cx="681.3" cy="490.3" r="6.65"/><circle cx="769.0" cy="490.3" r="6.65"/><circle cx="783.6" cy="490.3" r="6.65"/><circle cx="798.2" cy="490.3" r="6.65"/><circle cx="827.4" cy="490.3" r="6.65"/><circle cx="842.0" cy="490.3" r="6.65"/><circle cx="856.7" cy="490.3" r="6.65"/><circle cx="871.3" cy="490.3" r="6.65"/><circle cx="885.9" cy="490.3" r="6.65"/><circle cx="900.5" cy="490.3" r="6.65"/><circle cx="915.1" cy="490.3" r="6.65"/><circle cx="958.9" cy="490.3" r="6.65"/><circle cx="564.5" cy="517.6" r="6.65"/><circle cx="666.7" cy="517.6" r="6.65"/><circle cx="695.9" cy="517.6" r="6.65"/><circle cx="739.8" cy="517.6" r="6.65"/><circle cx="783.6" cy="517.6" r="6.65"/><circle cx="856.7" cy="517.6" r="6.65"/><circle cx="915.1" cy="517.6" r="6.65"/><circle cx="973.5" cy="517.6" r="6.65"/><circle cx="549.8" cy="531.3" r="6.65"/><circle cx="564.5" cy="531.3" r="6.65"/><circle cx="593.7" cy="531.3" r="6.65"/><circle cx="622.9" cy="531.3" r="6.65"/><circle cx="652.1" cy="531.3" r="6.65"/><circle cx="666.7" cy="531.3" r="6.65"/><circle cx="681.3" cy="531.3" r="6.65"/><circle cx="695.9" cy="531.3" r="6.65"/><circle cx="710.6" cy="531.3" r="6.65"/><circle cx="739.8" cy="531.3" r="6.65"/><circle cx="754.4" cy="531.3" r="6.65"/><circle cx="769.0" cy="531.3" r="6.65"/><circle cx="783.6" cy="531.3" r="6.65"/><circle cx="798.2" cy="531.3" r="6.65"/><circle cx="827.4" cy="531.3" r="6.65"/><circle cx="856.7" cy="531.3" r="6.65"/><circle cx="885.9" cy="531.3" r="6.65"/><circle cx="900.5" cy="531.3" r="6.65"/><circle cx="915.1" cy="531.3" r="6.65"/><circle cx="944.3" cy="531.3" r="6.65"/><circle cx="549.8" cy="544.9" r="6.65"/><circle cx="564.5" cy="544.9" r="6.65"/><circle cx="579.1" cy="544.9" r="6.65"/><circle cx="593.7" cy="544.9" r="6.65"/><circle cx="608.3" cy="544.9" r="6.65"/><circle cx="622.9" cy="544.9" r="6.65"/><circle cx="637.5" cy="544.9" r="6.65"/><circle cx="652.1" cy="544.9" r="6.65"/><circle cx="666.7" cy="544.9" r="6.65"/><circle cx="681.3" cy="544.9" r="6.65"/><circle cx="695.9" cy="544.9" r="6.65"/><circle cx="710.6" cy="544.9" r="6.65"/><circle cx="739.8" cy="544.9" r="6.65"/><circle cx="769.0" cy="544.9" r="6.65"/><circle cx="783.6" cy="544.9" r="6.65"/><circle cx="798.2" cy="544.9" r="6.65"/><circle cx="812.8" cy="544.9" r="6.65"/><circle cx="827.4" cy="544.9" r="6.65"/><circle cx="842.0" cy="544.9" r="6.65"/><circle cx="856.7" cy="544.9" r="6.65"/><circle cx="871.3" cy="544.9" r="6.65"/><circle cx="885.9" cy="544.9" r="6.65"/><circle cx="900.5" cy="544.9" r="6.65"/><circle cx="915.1" cy="544.9" r="6.65"/><circle cx="929.7" cy="544.9" r="6.65"/><circle cx="944.3" cy="544.9" r="6.65"/><circle cx="958.9" cy="544.9" r="6.65"/><circle cx="564.5" cy="558.6" r="6.65"/><circle cx="579.1" cy="558.6" r="6.65"/><circle cx="593.7" cy="558.6" r="6.65"/><circle cx="622.9" cy="558.6" r="6.65"/><circle cx="637.5" cy="558.6" r="6.65"/><circle cx="652.1" cy="558.6" r="6.65"/><circle cx="666.7" cy="558.6" r="6.65"/><circle cx="681.3" cy="558.6" r="6.65"/><circle cx="695.9" cy="558.6" r="6.65"/><circle cx="710.6" cy="558.6" r="6.65"/><circle cx="725.2" cy="558.6" r="6.65"/><circle cx="739.8" cy="558.6" r="6.65"/><circle cx="769.0" cy="558.6" r="6.65"/><circle cx="783.6" cy="558.6" r="6.65"/><circle cx="798.2" cy="558.6" r="6.65"/><circle cx="812.8" cy="558.6" r="6.65"/><circle cx="856.7" cy="558.6" r="6.65"/><circle cx="885.9" cy="558.6" r="6.65"/><circle cx="900.5" cy="558.6" r="6.65"/><circle cx="915.1" cy="558.6" r="6.65"/><circle cx="944.3" cy="558.6" r="6.65"/><circle cx="958.9" cy="558.6" r="6.65"/><circle cx="549.8" cy="572.3" r="6.65"/><circle cx="564.5" cy="572.3" r="6.65"/><circle cx="579.1" cy="572.3" r="6.65"/><circle cx="593.7" cy="572.3" r="6.65"/><circle cx="622.9" cy="572.3" r="6.65"/><circle cx="652.1" cy="572.3" r="6.65"/><circle cx="666.7" cy="572.3" r="6.65"/><circle cx="769.0" cy="572.3" r="6.65"/><circle cx="783.6" cy="572.3" r="6.65"/><circle cx="798.2" cy="572.3" r="6.65"/><circle cx="812.8" cy="572.3" r="6.65"/><circle cx="827.4" cy="572.3" r="6.65"/><circle cx="842.0" cy="572.3" r="6.65"/><circle cx="871.3" cy="572.3" r="6.65"/><circle cx="885.9" cy="572.3" r="6.65"/><circle cx="900.5" cy="572.3" r="6.65"/><circle cx="915.1" cy="572.3" r="6.65"/><circle cx="944.3" cy="572.3" r="6.65"/><circle cx="958.9" cy="572.3" r="6.65"/><circle cx="535.2" cy="585.9" r="6.65"/><circle cx="549.8" cy="585.9" r="6.65"/><circle cx="564.5" cy="585.9" r="6.65"/><circle cx="579.1" cy="585.9" r="6.65"/><circle cx="593.7" cy="585.9" r="6.65"/><circle cx="608.3" cy="585.9" r="6.65"/><circle cx="622.9" cy="585.9" r="6.65"/><circle cx="637.5" cy="585.9" r="6.65"/><circle cx="652.1" cy="585.9" r="6.65"/><circle cx="666.7" cy="585.9" r="6.65"/><circle cx="681.3" cy="585.9" r="6.65"/><circle cx="695.9" cy="585.9" r="6.65"/><circle cx="710.6" cy="585.9" r="6.65"/><circle cx="725.2" cy="585.9" r="6.65"/><circle cx="739.8" cy="585.9" r="6.65"/><circle cx="769.0" cy="585.9" r="6.65"/><circle cx="783.6" cy="585.9" r="6.65"/><circle cx="798.2" cy="585.9" r="6.65"/><circle cx="812.8" cy="585.9" r="6.65"/><circle cx="827.4" cy="585.9" r="6.65"/><circle cx="842.0" cy="585.9" r="6.65"/><circle cx="900.5" cy="585.9" r="6.65"/><circle cx="915.1" cy="585.9" r="6.65"/><circle cx="929.7" cy="585.9" r="6.65"/><circle cx="944.3" cy="585.9" r="6.65"/><circle cx="958.9" cy="585.9" r="6.65"/><circle cx="902.8" cy="816.3" r="6.65"/><circle cx="975.8" cy="816.3" r="6.65"/><circle cx="990.4" cy="816.3" r="6.65"/><circle cx="677.3" cy="1193.3" r="6.65"/><circle cx="735.7" cy="1193.3" r="6.65"/><circle cx="721.1" cy="1610.9" r="6.65"/><circle cx="545.9" cy="1624.6" r="6.65"/><circle cx="560.5" cy="1624.6" r="6.65"/><circle cx="691.9" cy="1624.6" r="6.65"/><circle cx="735.7" cy="1624.6" r="6.65"/><circle cx="764.9" cy="1624.6" r="6.65"/><circle cx="779.5" cy="1624.6" r="6.65"/></g>
<g fill="#3d1eff"><circle cx="695.9" cy="162.5" r="6.65"/><circle cx="812.8" cy="162.5" r="6.65"/><circle cx="900.5" cy="162.5" r="6.65"/><circle cx="915.1" cy="162.5" r="6.65"/><circle cx="622.9" cy="176.2" r="6.65"/><circle cx="637.5" cy="176.2" r="6.65"/><circle cx="666.7" cy="176.2" r="6.65"/><circle cx="695.9" cy="176.2" r="6.65"/><circle cx="798.2" cy="176.2" r="6.65"/><circle cx="812.8" cy="176.2" r="6.65"/><circle cx="666.7" cy="189.8" r="6.65"/><circle cx="681.3" cy="189.8" r="6.65"/><circle cx="842.0" cy="189.8" r="6.65"/><circle cx="900.5" cy="189.8" r="6.65"/><circle cx="958.9" cy="189.8" r="6.65"/><circle cx="783.6" cy="203.5" r="6.65"/><circle cx="812.8" cy="203.5" r="6.65"/><circle cx="900.5" cy="203.5" r="6.65"/><circle cx="915.1" cy="203.5" r="6.65"/><circle cx="681.3" cy="217.2" r="6.65"/><circle cx="681.3" cy="230.8" r="6.65"/><circle cx="710.6" cy="230.8" r="6.65"/><circle cx="812.8" cy="230.8" r="6.65"/><circle cx="637.5" cy="244.5" r="6.65"/><circle cx="871.3" cy="244.5" r="6.65"/><circle cx="637.5" cy="258.1" r="6.65"/><circle cx="666.7" cy="258.1" r="6.65"/><circle cx="783.6" cy="258.1" r="6.65"/><circle cx="842.0" cy="258.1" r="6.65"/><circle cx="871.3" cy="258.1" r="6.65"/><circle cx="915.1" cy="258.1" r="6.65"/><circle cx="958.9" cy="258.1" r="6.65"/><circle cx="710.6" cy="271.8" r="6.65"/><circle cx="812.8" cy="271.8" r="6.65"/><circle cx="944.3" cy="271.8" r="6.65"/><circle cx="958.9" cy="271.8" r="6.65"/><circle cx="666.7" cy="285.4" r="6.65"/><circle cx="695.9" cy="285.4" r="6.65"/><circle cx="710.6" cy="285.4" r="6.65"/><circle cx="769.0" cy="285.4" r="6.65"/><circle cx="783.6" cy="285.4" r="6.65"/><circle cx="798.2" cy="285.4" r="6.65"/><circle cx="885.9" cy="285.4" r="6.65"/><circle cx="915.1" cy="285.4" r="6.65"/><circle cx="622.9" cy="312.8" r="6.65"/><circle cx="637.5" cy="312.8" r="6.65"/><circle cx="652.1" cy="312.8" r="6.65"/><circle cx="710.6" cy="312.8" r="6.65"/><circle cx="842.0" cy="312.8" r="6.65"/><circle cx="915.1" cy="312.8" r="6.65"/><circle cx="944.3" cy="312.8" r="6.65"/><circle cx="622.9" cy="326.4" r="6.65"/><circle cx="666.7" cy="326.4" r="6.65"/><circle cx="710.6" cy="326.4" r="6.65"/><circle cx="769.0" cy="326.4" r="6.65"/><circle cx="783.6" cy="326.4" r="6.65"/><circle cx="812.8" cy="326.4" r="6.65"/><circle cx="842.0" cy="326.4" r="6.65"/><circle cx="900.5" cy="326.4" r="6.65"/><circle cx="666.7" cy="340.1" r="6.65"/><circle cx="695.9" cy="340.1" r="6.65"/><circle cx="710.6" cy="340.1" r="6.65"/><circle cx="754.4" cy="340.1" r="6.65"/><circle cx="769.0" cy="340.1" r="6.65"/><circle cx="783.6" cy="340.1" r="6.65"/><circle cx="798.2" cy="340.1" r="6.65"/><circle cx="812.8" cy="340.1" r="6.65"/><circle cx="842.0" cy="340.1" r="6.65"/><circle cx="885.9" cy="340.1" r="6.65"/><circle cx="900.5" cy="340.1" r="6.65"/><circle cx="915.1" cy="340.1" r="6.65"/><circle cx="958.9" cy="340.1" r="6.65"/><circle cx="593.7" cy="353.7" r="6.65"/><circle cx="637.5" cy="353.7" r="6.65"/><circle cx="666.7" cy="353.7" r="6.65"/><circle cx="695.9" cy="353.7" r="6.65"/><circle cx="739.8" cy="353.7" r="6.65"/><circle cx="769.0" cy="353.7" r="6.65"/><circle cx="783.6" cy="353.7" r="6.65"/><circle cx="812.8" cy="353.7" r="6.65"/><circle cx="856.7" cy="353.7" r="6.65"/><circle cx="885.9" cy="353.7" r="6.65"/><circle cx="915.1" cy="353.7" r="6.65"/><circle cx="958.9" cy="353.7" r="6.65"/><circle cx="622.9" cy="367.4" r="6.65"/><circle cx="652.1" cy="367.4" r="6.65"/><circle cx="666.7" cy="367.4" r="6.65"/><circle cx="710.6" cy="367.4" r="6.65"/><circle cx="769.0" cy="367.4" r="6.65"/><circle cx="812.8" cy="367.4" r="6.65"/><circle cx="842.0" cy="367.4" r="6.65"/><circle cx="856.7" cy="367.4" r="6.65"/><circle cx="885.9" cy="367.4" r="6.65"/><circle cx="915.1" cy="367.4" r="6.65"/><circle cx="929.7" cy="367.4" r="6.65"/><circle cx="549.8" cy="381.1" r="6.65"/><circle cx="564.5" cy="381.1" r="6.65"/><circle cx="637.5" cy="381.1" r="6.65"/><circle cx="725.2" cy="381.1" r="6.65"/><circle cx="871.3" cy="381.1" r="6.65"/><circle cx="549.8" cy="394.7" r="6.65"/><circle cx="608.3" cy="394.7" r="6.65"/><circle cx="739.8" cy="394.7" r="6.65"/><circle cx="535.2" cy="408.4" r="6.65"/><circle cx="549.8" cy="408.4" r="6.65"/><circle cx="769.0" cy="408.4" r="6.65"/><circle cx="812.8" cy="408.4" r="6.65"/><circle cx="900.5" cy="408.4" r="6.65"/><circle cx="958.9" cy="408.4" r="6.65"/><circle cx="535.2" cy="422.0" r="6.65"/><circle cx="549.8" cy="422.0" r="6.65"/><circle cx="564.5" cy="422.0" r="6.65"/><circle cx="608.3" cy="422.0" r="6.65"/><circle cx="637.5" cy="422.0" r="6.65"/><circle cx="652.1" cy="422.0" r="6.65"/><circle cx="856.7" cy="422.0" r="6.65"/><circle cx="622.9" cy="435.7" r="6.65"/><circle cx="637.5" cy="435.7" r="6.65"/><circle cx="666.7" cy="435.7" r="6.65"/><circle cx="695.9" cy="435.7" r="6.65"/><circle cx="710.6" cy="435.7" r="6.65"/><circle cx="769.0" cy="435.7" r="6.65"/><circle cx="783.6" cy="435.7" r="6.65"/><circle cx="798.2" cy="435.7" r="6.65"/><circle cx="812.8" cy="435.7" r="6.65"/><circle cx="842.0" cy="435.7" r="6.65"/><circle cx="885.9" cy="435.7" r="6.65"/><circle cx="900.5" cy="435.7" r="6.65"/><circle cx="958.9" cy="435.7" r="6.65"/><circle cx="652.1" cy="449.3" r="6.65"/><circle cx="666.7" cy="449.3" r="6.65"/><circle cx="695.9" cy="449.3" r="6.65"/><circle cx="710.6" cy="449.3" r="6.65"/><circle cx="769.0" cy="449.3" r="6.65"/><circle cx="783.6" cy="449.3" r="6.65"/><circle cx="798.2" cy="449.3" r="6.65"/><circle cx="812.8" cy="449.3" r="6.65"/><circle cx="856.7" cy="449.3" r="6.65"/><circle cx="900.5" cy="449.3" r="6.65"/><circle cx="915.1" cy="449.3" r="6.65"/><circle cx="944.3" cy="449.3" r="6.65"/><circle cx="958.9" cy="449.3" r="6.65"/><circle cx="622.9" cy="463.0" r="6.65"/><circle cx="637.5" cy="463.0" r="6.65"/><circle cx="652.1" cy="463.0" r="6.65"/><circle cx="666.7" cy="463.0" r="6.65"/><circle cx="695.9" cy="463.0" r="6.65"/><circle cx="710.6" cy="463.0" r="6.65"/><circle cx="739.8" cy="463.0" r="6.65"/><circle cx="754.4" cy="463.0" r="6.65"/><circle cx="769.0" cy="463.0" r="6.65"/><circle cx="783.6" cy="463.0" r="6.65"/><circle cx="798.2" cy="463.0" r="6.65"/><circle cx="812.8" cy="463.0" r="6.65"/><circle cx="856.7" cy="463.0" r="6.65"/><circle cx="900.5" cy="463.0" r="6.65"/><circle cx="929.7" cy="463.0" r="6.65"/><circle cx="944.3" cy="463.0" r="6.65"/><circle cx="958.9" cy="463.0" r="6.65"/><circle cx="739.8" cy="476.7" r="6.65"/><circle cx="944.3" cy="476.7" r="6.65"/><circle cx="622.9" cy="490.3" r="6.65"/><circle cx="695.9" cy="490.3" r="6.65"/><circle cx="710.6" cy="490.3" r="6.65"/><circle cx="739.8" cy="490.3" r="6.65"/><circle cx="812.8" cy="490.3" r="6.65"/><circle cx="944.3" cy="490.3" r="6.65"/><circle cx="988.1" cy="490.3" r="6.65"/><circle cx="564.5" cy="504.0" r="6.65"/><circle cx="579.1" cy="504.0" r="6.65"/><circle cx="593.7" cy="504.0" r="6.65"/><circle cx="622.9" cy="504.0" r="6.65"/><circle cx="637.5" cy="504.0" r="6.65"/><circle cx="695.9" cy="504.0" r="6.65"/><circle cx="769.0" cy="504.0" r="6.65"/><circle cx="958.9" cy="504.0" r="6.65"/><circle cx="579.1" cy="517.6" r="6.65"/><circle cx="622.9" cy="517.6" r="6.65"/><circle cx="637.5" cy="517.6" r="6.65"/><circle cx="798.2" cy="517.6" r="6.65"/><circle cx="842.0" cy="517.6" r="6.65"/><circle cx="885.9" cy="517.6" r="6.65"/><circle cx="900.5" cy="517.6" r="6.65"/><circle cx="579.1" cy="531.3" r="6.65"/><circle cx="608.3" cy="531.3" r="6.65"/><circle cx="637.5" cy="531.3" r="6.65"/><circle cx="812.8" cy="531.3" r="6.65"/><circle cx="842.0" cy="531.3" r="6.65"/><circle cx="929.7" cy="531.3" r="6.65"/><circle cx="958.9" cy="531.3" r="6.65"/><circle cx="973.5" cy="531.3" r="6.65"/><circle cx="754.4" cy="544.9" r="6.65"/><circle cx="973.5" cy="544.9" r="6.65"/><circle cx="608.3" cy="558.6" r="6.65"/><circle cx="842.0" cy="558.6" r="6.65"/><circle cx="973.5" cy="558.6" r="6.65"/><circle cx="535.2" cy="572.3" r="6.65"/><circle cx="608.3" cy="572.3" r="6.65"/><circle cx="637.5" cy="572.3" r="6.65"/><circle cx="681.3" cy="572.3" r="6.65"/><circle cx="695.9" cy="572.3" r="6.65"/><circle cx="710.6" cy="572.3" r="6.65"/><circle cx="725.2" cy="572.3" r="6.65"/><circle cx="739.8" cy="572.3" r="6.65"/><circle cx="754.4" cy="572.3" r="6.65"/><circle cx="856.7" cy="572.3" r="6.65"/><circle cx="929.7" cy="572.3" r="6.65"/><circle cx="973.5" cy="572.3" r="6.65"/><circle cx="754.4" cy="585.9" r="6.65"/><circle cx="856.7" cy="585.9" r="6.65"/><circle cx="871.3" cy="585.9" r="6.65"/><circle cx="885.9" cy="585.9" r="6.65"/><circle cx="973.5" cy="585.9" r="6.65"/><circle cx="917.4" cy="713.4" r="6.65"/><circle cx="639.8" cy="727.1" r="6.65"/><circle cx="917.4" cy="727.1" r="6.65"/><circle cx="902.8" cy="788.9" r="6.65"/><circle cx="975.8" cy="788.9" r="6.65"/><circle cx="902.8" cy="802.6" r="6.65"/><circle cx="596.0" cy="816.3" r="6.65"/><circle cx="610.6" cy="816.3" r="6.65"/><circle cx="639.8" cy="816.3" r="6.65"/><circle cx="975.8" cy="850.8" r="6.65"/><circle cx="975.8" cy="926.5" r="6.65"/><circle cx="706.5" cy="1193.3" r="6.65"/><circle cx="779.5" cy="1193.3" r="6.65"/><circle cx="677.3" cy="1207.0" r="6.65"/><circle cx="706.5" cy="1207.0" r="6.65"/><circle cx="545.9" cy="1597.3" r="6.65"/><circle cx="560.5" cy="1597.3" r="6.65"/><circle cx="575.1" cy="1597.3" r="6.65"/><circle cx="721.1" cy="1597.3" r="6.65"/><circle cx="764.9" cy="1597.3" r="6.65"/><circle cx="808.7" cy="1597.3" r="6.65"/><circle cx="545.9" cy="1610.9" r="6.65"/><circle cx="618.9" cy="1610.9" r="6.65"/><circle cx="677.3" cy="1610.9" r="6.65"/><circle cx="764.9" cy="1610.9" r="6.65"/><circle cx="779.5" cy="1610.9" r="6.65"/><circle cx="808.7" cy="1610.9" r="6.65"/><circle cx="516.7" cy="1624.6" r="6.65"/><circle cx="575.1" cy="1624.6" r="6.65"/><circle cx="604.3" cy="1624.6" r="6.65"/><circle cx="618.9" cy="1624.6" r="6.65"/><circle cx="662.7" cy="1624.6" r="6.65"/><circle cx="677.3" cy="1624.6" r="6.65"/><circle cx="706.5" cy="1624.6" r="6.65"/><circle cx="721.1" cy="1624.6" r="6.65"/><circle cx="794.1" cy="1624.6" r="6.65"/><circle cx="808.7" cy="1624.6" r="6.65"/><circle cx="487.5" cy="1645.7" r="6.65"/></g>
<g fill="#9e72ff"><circle cx="885.9" cy="162.5" r="6.65"/><circle cx="754.4" cy="176.2" r="6.65"/><circle cx="944.3" cy="189.8" r="6.65"/><circle cx="739.8" cy="203.5" r="6.65"/><circle cx="827.4" cy="203.5" r="6.65"/><circle cx="929.7" cy="203.5" r="6.65"/><circle cx="929.7" cy="217.2" r="6.65"/><circle cx="944.3" cy="217.2" r="6.65"/><circle cx="988.1" cy="217.2" r="6.65"/><circle cx="725.2" cy="230.8" r="6.65"/><circle cx="739.8" cy="230.8" r="6.65"/><circle cx="754.4" cy="230.8" r="6.65"/><circle cx="958.9" cy="230.8" r="6.65"/><circle cx="988.1" cy="230.8" r="6.65"/><circle cx="549.8" cy="244.5" r="6.65"/><circle cx="579.1" cy="244.5" r="6.65"/><circle cx="593.7" cy="244.5" r="6.65"/><circle cx="739.8" cy="244.5" r="6.65"/><circle cx="988.1" cy="244.5" r="6.65"/><circle cx="739.8" cy="258.1" r="6.65"/><circle cx="579.1" cy="271.8" r="6.65"/><circle cx="593.7" cy="271.8" r="6.65"/><circle cx="827.4" cy="271.8" r="6.65"/><circle cx="871.3" cy="271.8" r="6.65"/><circle cx="973.5" cy="271.8" r="6.65"/><circle cx="549.8" cy="285.4" r="6.65"/><circle cx="827.4" cy="285.4" r="6.65"/><circle cx="535.2" cy="299.1" r="6.65"/><circle cx="549.8" cy="299.1" r="6.65"/><circle cx="608.3" cy="299.1" r="6.65"/><circle cx="871.3" cy="299.1" r="6.65"/><circle cx="564.5" cy="312.8" r="6.65"/><circle cx="929.7" cy="312.8" r="6.65"/><circle cx="973.5" cy="312.8" r="6.65"/><circle cx="579.1" cy="326.4" r="6.65"/><circle cx="944.3" cy="326.4" r="6.65"/><circle cx="973.5" cy="326.4" r="6.65"/><circle cx="564.5" cy="340.1" r="6.65"/><circle cx="579.1" cy="340.1" r="6.65"/><circle cx="725.2" cy="353.7" r="6.65"/><circle cx="929.7" cy="353.7" r="6.65"/><circle cx="871.3" cy="367.4" r="6.65"/><circle cx="842.0" cy="381.1" r="6.65"/><circle cx="944.3" cy="381.1" r="6.65"/><circle cx="988.1" cy="381.1" r="6.65"/><circle cx="725.2" cy="394.7" r="6.65"/><circle cx="988.1" cy="394.7" r="6.65"/><circle cx="973.5" cy="408.4" r="6.65"/><circle cx="988.1" cy="408.4" r="6.65"/><circle cx="549.8" cy="435.7" r="6.65"/><circle cx="579.1" cy="435.7" r="6.65"/><circle cx="725.2" cy="435.7" r="6.65"/><circle cx="549.8" cy="449.3" r="6.65"/><circle cx="564.5" cy="449.3" r="6.65"/><circle cx="579.1" cy="449.3" r="6.65"/><circle cx="725.2" cy="449.3" r="6.65"/><circle cx="725.2" cy="463.0" r="6.65"/><circle cx="549.8" cy="476.7" r="6.65"/><circle cx="564.5" cy="476.7" r="6.65"/><circle cx="725.2" cy="476.7" r="6.65"/><circle cx="579.1" cy="490.3" r="6.65"/><circle cx="608.3" cy="490.3" r="6.65"/><circle cx="973.5" cy="490.3" r="6.65"/><circle cx="988.1" cy="504.0" r="6.65"/><circle cx="608.3" cy="517.6" r="6.65"/><circle cx="929.7" cy="517.6" r="6.65"/><circle cx="944.3" cy="517.6" r="6.65"/><circle cx="958.9" cy="517.6" r="6.65"/><circle cx="725.2" cy="531.3" r="6.65"/><circle cx="988.1" cy="544.9" r="6.65"/><circle cx="988.1" cy="558.6" r="6.65"/><circle cx="771.3" cy="713.4" r="6.65"/><circle cx="873.6" cy="713.4" r="6.65"/><circle cx="888.2" cy="713.4" r="6.65"/><circle cx="961.2" cy="713.4" r="6.65"/><circle cx="800.5" cy="727.1" r="6.65"/><circle cx="815.1" cy="727.1" r="6.65"/><circle cx="888.2" cy="727.1" r="6.65"/><circle cx="990.4" cy="727.1" r="6.65"/><circle cx="902.8" cy="761.5" r="6.65"/><circle cx="975.8" cy="761.5" r="6.65"/><circle cx="990.4" cy="761.5" r="6.65"/><circle cx="639.8" cy="788.9" r="6.65"/><circle cx="946.6" cy="802.6" r="6.65"/><circle cx="756.7" cy="816.3" r="6.65"/><circle cx="917.4" cy="816.3" r="6.65"/><circle cx="742.1" cy="850.8" r="6.65"/><circle cx="800.5" cy="850.8" r="6.65"/><circle cx="742.1" cy="864.6" r="6.65"/><circle cx="800.5" cy="864.6" r="6.65"/><circle cx="946.6" cy="864.6" r="6.65"/><circle cx="800.5" cy="885.3" r="6.65"/><circle cx="946.6" cy="899.0" r="6.65"/><circle cx="932.0" cy="912.8" r="6.65"/><circle cx="727.5" cy="926.5" r="6.65"/><circle cx="800.5" cy="926.5" r="6.65"/><circle cx="618.9" cy="1166.0" r="6.65"/><circle cx="691.9" cy="1166.0" r="6.65"/><circle cx="706.5" cy="1166.0" r="6.65"/><circle cx="969.3" cy="1166.0" r="6.65"/><circle cx="881.7" cy="1193.3" r="6.65"/><circle cx="969.3" cy="1193.3" r="6.65"/><circle cx="721.1" cy="1207.0" r="6.65"/><circle cx="808.7" cy="1207.0" r="6.65"/><circle cx="808.7" cy="1426.1" r="6.65"/><circle cx="677.3" cy="1467.2" r="6.65"/><circle cx="604.3" cy="1480.9" r="6.65"/><circle cx="618.9" cy="1480.9" r="6.65"/><circle cx="662.7" cy="1480.9" r="6.65"/><circle cx="691.9" cy="1480.9" r="6.65"/><circle cx="750.3" cy="1480.9" r="6.65"/><circle cx="764.9" cy="1480.9" r="6.65"/><circle cx="794.1" cy="1480.9" r="6.65"/><circle cx="808.7" cy="1480.9" r="6.65"/><circle cx="560.5" cy="1494.6" r="6.65"/><circle cx="604.3" cy="1494.6" r="6.65"/><circle cx="764.9" cy="1494.6" r="6.65"/><circle cx="545.9" cy="1529.0" r="6.65"/><circle cx="677.3" cy="1529.0" r="6.65"/><circle cx="706.5" cy="1529.0" r="6.65"/><circle cx="764.9" cy="1529.0" r="6.65"/><circle cx="545.9" cy="1542.6" r="6.65"/><circle cx="575.1" cy="1542.6" r="6.65"/><circle cx="618.9" cy="1542.6" r="6.65"/><circle cx="735.7" cy="1542.6" r="6.65"/><circle cx="764.9" cy="1542.6" r="6.65"/><circle cx="516.7" cy="1556.3" r="6.65"/><circle cx="560.5" cy="1556.3" r="6.65"/><circle cx="677.3" cy="1556.3" r="6.65"/><circle cx="735.7" cy="1556.3" r="6.65"/><circle cx="808.7" cy="1556.3" r="6.65"/><circle cx="545.9" cy="1570.0" r="6.65"/><circle cx="560.5" cy="1570.0" r="6.65"/><circle cx="575.1" cy="1570.0" r="6.65"/><circle cx="706.5" cy="1570.0" r="6.65"/><circle cx="735.7" cy="1570.0" r="6.65"/><circle cx="808.7" cy="1570.0" r="6.65"/><circle cx="545.9" cy="1583.6" r="6.65"/><circle cx="618.9" cy="1583.6" r="6.65"/><circle cx="677.3" cy="1583.6" r="6.65"/><circle cx="662.7" cy="1597.3" r="6.65"/><circle cx="604.3" cy="1610.9" r="6.65"/><circle cx="662.7" cy="1610.9" r="6.65"/><circle cx="677.3" cy="1645.7" r="6.65"/><circle cx="721.1" cy="1645.7" r="6.65"/></g>
<g fill="#ffc6b2"><circle cx="491.4" cy="271.8" r="6.65"/><circle cx="491.4" cy="312.8" r="6.65"/><circle cx="491.4" cy="367.4" r="6.65"/><circle cx="520.6" cy="476.7" r="6.65"/><circle cx="491.4" cy="490.3" r="6.65"/><circle cx="491.4" cy="585.9" r="6.65"/><circle cx="581.4" cy="672.3" r="6.65"/><circle cx="654.4" cy="672.3" r="6.65"/><circle cx="902.8" cy="672.3" r="6.65"/><circle cx="552.1" cy="713.4" r="6.65"/><circle cx="610.6" cy="713.4" r="6.65"/><circle cx="508.3" cy="747.8" r="6.65"/><circle cx="596.0" cy="747.8" r="6.65"/><circle cx="508.3" cy="761.5" r="6.65"/><circle cx="493.7" cy="775.2" r="6.65"/><circle cx="522.9" cy="788.9" r="6.65"/><circle cx="610.6" cy="788.9" r="6.65"/><circle cx="625.2" cy="788.9" r="6.65"/><circle cx="742.1" cy="788.9" r="6.65"/><circle cx="873.6" cy="788.9" r="6.65"/><circle cx="917.4" cy="788.9" r="6.65"/><circle cx="829.7" cy="802.6" r="6.65"/><circle cx="873.6" cy="802.6" r="6.65"/><circle cx="698.2" cy="816.3" r="6.65"/><circle cx="742.1" cy="816.3" r="6.65"/><circle cx="859.0" cy="816.3" r="6.65"/><circle cx="873.6" cy="816.3" r="6.65"/><circle cx="785.9" cy="837.0" r="6.65"/><circle cx="917.4" cy="850.8" r="6.65"/><circle cx="756.7" cy="864.6" r="6.65"/><circle cx="888.2" cy="864.6" r="6.65"/><circle cx="961.2" cy="864.6" r="6.65"/><circle cx="829.7" cy="912.8" r="6.65"/><circle cx="902.8" cy="912.8" r="6.65"/><circle cx="917.4" cy="912.8" r="6.65"/><circle cx="625.2" cy="926.5" r="6.65"/><circle cx="654.4" cy="926.5" r="6.65"/><circle cx="669.0" cy="926.5" r="6.65"/><circle cx="859.0" cy="926.5" r="6.65"/><circle cx="531.3" cy="1008.1" r="6.65"/><circle cx="940.1" cy="1008.1" r="6.65"/><circle cx="502.1" cy="1021.8" r="6.65"/><circle cx="516.7" cy="1021.8" r="6.65"/><circle cx="940.1" cy="1021.8" r="6.65"/><circle cx="721.1" cy="1035.5" r="6.65"/><circle cx="954.7" cy="1035.5" r="6.65"/><circle cx="560.5" cy="1049.2" r="6.65"/><circle cx="735.7" cy="1049.2" r="6.65"/><circle cx="764.9" cy="1049.2" r="6.65"/><circle cx="794.1" cy="1049.2" r="6.65"/><circle cx="954.7" cy="1049.2" r="6.65"/><circle cx="983.9" cy="1049.2" r="6.65"/><circle cx="560.5" cy="1062.9" r="6.65"/><circle cx="575.1" cy="1062.9" r="6.65"/><circle cx="589.7" cy="1062.9" r="6.65"/><circle cx="779.5" cy="1062.9" r="6.65"/><circle cx="794.1" cy="1062.9" r="6.65"/><circle cx="910.9" cy="1062.9" r="6.65"/><circle cx="648.1" cy="1076.5" r="6.65"/><circle cx="691.9" cy="1076.5" r="6.65"/><circle cx="750.3" cy="1076.5" r="6.65"/><circle cx="794.1" cy="1076.5" r="6.65"/><circle cx="983.9" cy="1076.5" r="6.65"/><circle cx="502.1" cy="1090.2" r="6.65"/><circle cx="531.3" cy="1090.2" r="6.65"/><circle cx="575.1" cy="1090.2" r="6.65"/><circle cx="589.7" cy="1090.2" r="6.65"/><circle cx="837.9" cy="1090.2" r="6.65"/><circle cx="867.1" cy="1090.2" r="6.65"/><circle cx="969.3" cy="1090.2" r="6.65"/><circle cx="516.7" cy="1103.9" r="6.65"/><circle cx="531.3" cy="1103.9" r="6.65"/><circle cx="560.5" cy="1103.9" r="6.65"/><circle cx="575.1" cy="1103.9" r="6.65"/><circle cx="721.1" cy="1103.9" r="6.65"/><circle cx="823.3" cy="1103.9" r="6.65"/><circle cx="867.1" cy="1103.9" r="6.65"/><circle cx="969.3" cy="1103.9" r="6.65"/><circle cx="983.9" cy="1103.9" r="6.65"/><circle cx="502.1" cy="1117.6" r="6.65"/><circle cx="750.3" cy="1117.6" r="6.65"/><circle cx="764.9" cy="1117.6" r="6.65"/><circle cx="794.1" cy="1117.6" r="6.65"/><circle cx="823.3" cy="1117.6" r="6.65"/><circle cx="867.1" cy="1117.6" r="6.65"/><circle cx="910.9" cy="1117.6" r="6.65"/><circle cx="618.9" cy="1131.3" r="6.65"/><circle cx="633.5" cy="1131.3" r="6.65"/><circle cx="662.7" cy="1131.3" r="6.65"/><circle cx="764.9" cy="1131.3" r="6.65"/><circle cx="852.5" cy="1131.3" r="6.65"/><circle cx="881.7" cy="1131.3" r="6.65"/><circle cx="910.9" cy="1131.3" r="6.65"/><circle cx="560.5" cy="1145.0" r="6.65"/><circle cx="589.7" cy="1145.0" r="6.65"/><circle cx="618.9" cy="1145.0" r="6.65"/><circle cx="735.7" cy="1145.0" r="6.65"/><circle cx="750.3" cy="1145.0" r="6.65"/><circle cx="487.5" cy="1166.0" r="6.65"/><circle cx="589.7" cy="1166.0" r="6.65"/><circle cx="604.3" cy="1166.0" r="6.65"/><circle cx="531.3" cy="1179.7" r="6.65"/><circle cx="852.5" cy="1193.3" r="6.65"/><circle cx="969.3" cy="1255.1" r="6.65"/><circle cx="516.7" cy="1268.8" r="6.65"/><circle cx="925.5" cy="1268.8" r="6.65"/><circle cx="531.3" cy="1282.4" r="6.65"/><circle cx="969.3" cy="1282.4" r="6.65"/><circle cx="925.5" cy="1296.1" r="6.65"/><circle cx="487.5" cy="1309.7" r="6.65"/><circle cx="502.1" cy="1309.7" r="6.65"/><circle cx="516.7" cy="1309.7" r="6.65"/><circle cx="925.5" cy="1309.7" r="6.65"/><circle cx="502.1" cy="1323.4" r="6.65"/><circle cx="925.5" cy="1323.4" r="6.65"/><circle cx="516.7" cy="1337.0" r="6.65"/><circle cx="823.3" cy="1337.0" r="6.65"/><circle cx="531.3" cy="1350.7" r="6.65"/><circle cx="969.3" cy="1350.7" r="6.65"/><circle cx="502.1" cy="1378.0" r="6.65"/><circle cx="589.7" cy="1391.6" r="6.65"/><circle cx="940.1" cy="1391.6" r="6.65"/><circle cx="560.5" cy="1405.3" r="6.65"/><circle cx="706.5" cy="1405.3" r="6.65"/><circle cx="910.9" cy="1405.3" r="6.65"/><circle cx="940.1" cy="1405.3" r="6.65"/><circle cx="487.5" cy="1426.1" r="6.65"/><circle cx="633.5" cy="1426.1" r="6.65"/><circle cx="867.1" cy="1439.8" r="6.65"/><circle cx="881.7" cy="1439.8" r="6.65"/><circle cx="896.3" cy="1439.8" r="6.65"/><circle cx="940.1" cy="1439.8" r="6.65"/><circle cx="589.7" cy="1453.5" r="6.65"/><circle cx="823.3" cy="1453.5" r="6.65"/><circle cx="896.3" cy="1453.5" r="6.65"/><circle cx="925.5" cy="1453.5" r="6.65"/><circle cx="823.3" cy="1467.2" r="6.65"/><circle cx="940.1" cy="1467.2" r="6.65"/><circle cx="910.9" cy="1480.9" r="6.65"/><circle cx="589.7" cy="1494.6" r="6.65"/><circle cx="852.5" cy="1494.6" r="6.65"/><circle cx="940.1" cy="1494.6" r="6.65"/><circle cx="954.7" cy="1494.6" r="6.65"/><circle cx="648.1" cy="1529.0" r="6.65"/><circle cx="983.9" cy="1529.0" r="6.65"/><circle cx="983.9" cy="1542.6" r="6.65"/><circle cx="633.5" cy="1556.3" r="6.65"/><circle cx="648.1" cy="1570.0" r="6.65"/><circle cx="502.1" cy="1583.6" r="6.65"/><circle cx="633.5" cy="1583.6" r="6.65"/><circle cx="648.1" cy="1583.6" r="6.65"/><circle cx="589.7" cy="1597.3" r="6.65"/><circle cx="983.9" cy="1597.3" r="6.65"/><circle cx="648.1" cy="1610.9" r="6.65"/><circle cx="852.5" cy="1610.9" r="6.65"/><circle cx="896.3" cy="1610.9" r="6.65"/><circle cx="852.5" cy="1624.6" r="6.65"/><circle cx="896.3" cy="1624.6" r="6.65"/><circle cx="954.7" cy="1624.6" r="6.65"/><circle cx="545.9" cy="1645.7" r="6.65"/><circle cx="604.3" cy="1645.7" r="6.65"/><circle cx="881.7" cy="1645.7" r="6.65"/><circle cx="691.9" cy="1673.0" r="6.65"/><circle cx="779.5" cy="1673.0" r="6.65"/><circle cx="823.3" cy="1673.0" r="6.65"/><circle cx="867.1" cy="1686.7" r="6.65"/><circle cx="954.7" cy="1686.7" r="6.65"/></g>
<g fill="#ffb299"><circle cx="491.4" cy="285.4" r="6.65"/><circle cx="491.4" cy="299.1" r="6.65"/><circle cx="491.4" cy="558.6" r="6.65"/><circle cx="756.7" cy="672.3" r="6.65"/><circle cx="815.1" cy="672.3" r="6.65"/><circle cx="552.1" cy="686.0" r="6.65"/><circle cx="610.6" cy="686.0" r="6.65"/><circle cx="625.2" cy="686.0" r="6.65"/><circle cx="683.6" cy="686.0" r="6.65"/><circle cx="712.9" cy="686.0" r="6.65"/><circle cx="742.1" cy="686.0" r="6.65"/><circle cx="975.8" cy="686.0" r="6.65"/><circle cx="522.9" cy="699.7" r="6.65"/><circle cx="596.0" cy="699.7" r="6.65"/><circle cx="727.5" cy="699.7" r="6.65"/><circle cx="742.1" cy="713.4" r="6.65"/><circle cx="932.0" cy="713.4" r="6.65"/><circle cx="625.2" cy="727.1" r="6.65"/><circle cx="742.1" cy="727.1" r="6.65"/><circle cx="829.7" cy="747.8" r="6.65"/><circle cx="873.6" cy="747.8" r="6.65"/><circle cx="902.8" cy="747.8" r="6.65"/><circle cx="961.2" cy="747.8" r="6.65"/><circle cx="522.9" cy="761.5" r="6.65"/><circle cx="596.0" cy="761.5" r="6.65"/><circle cx="610.6" cy="761.5" r="6.65"/><circle cx="727.5" cy="761.5" r="6.65"/><circle cx="756.7" cy="761.5" r="6.65"/><circle cx="917.4" cy="761.5" r="6.65"/><circle cx="946.6" cy="761.5" r="6.65"/><circle cx="961.2" cy="761.5" r="6.65"/><circle cx="508.3" cy="775.2" r="6.65"/><circle cx="581.4" cy="775.2" r="6.65"/><circle cx="610.6" cy="775.2" r="6.65"/><circle cx="873.6" cy="775.2" r="6.65"/><circle cx="946.6" cy="775.2" r="6.65"/><circle cx="961.2" cy="775.2" r="6.65"/><circle cx="581.4" cy="788.9" r="6.65"/><circle cx="727.5" cy="788.9" r="6.65"/><circle cx="829.7" cy="788.9" r="6.65"/><circle cx="961.2" cy="788.9" r="6.65"/><circle cx="654.4" cy="802.6" r="6.65"/><circle cx="742.1" cy="802.6" r="6.65"/><circle cx="961.2" cy="802.6" r="6.65"/><circle cx="552.1" cy="837.0" r="6.65"/><circle cx="756.7" cy="837.0" r="6.65"/><circle cx="917.4" cy="837.0" r="6.65"/><circle cx="829.7" cy="850.8" r="6.65"/><circle cx="888.2" cy="885.3" r="6.65"/><circle cx="917.4" cy="885.3" r="6.65"/><circle cx="829.7" cy="899.0" r="6.65"/><circle cx="844.3" cy="899.0" r="6.65"/><circle cx="902.8" cy="899.0" r="6.65"/><circle cx="917.4" cy="899.0" r="6.65"/><circle cx="596.0" cy="912.8" r="6.65"/><circle cx="844.3" cy="912.8" r="6.65"/><circle cx="859.0" cy="912.8" r="6.65"/><circle cx="888.2" cy="912.8" r="6.65"/><circle cx="610.6" cy="926.5" r="6.65"/><circle cx="698.2" cy="926.5" r="6.65"/><circle cx="873.6" cy="926.5" r="6.65"/><circle cx="502.1" cy="1008.1" r="6.65"/><circle cx="589.7" cy="1008.1" r="6.65"/><circle cx="794.1" cy="1008.1" r="6.65"/><circle cx="925.5" cy="1008.1" r="6.65"/><circle cx="531.3" cy="1021.8" r="6.65"/><circle cx="604.3" cy="1035.5" r="6.65"/><circle cx="691.9" cy="1035.5" r="6.65"/><circle cx="750.3" cy="1035.5" r="6.65"/><circle cx="764.9" cy="1035.5" r="6.65"/><circle cx="779.5" cy="1035.5" r="6.65"/><circle cx="794.1" cy="1035.5" r="6.65"/><circle cx="823.3" cy="1035.5" r="6.65"/><circle cx="867.1" cy="1035.5" r="6.65"/><circle cx="881.7" cy="1035.5" r="6.65"/><circle cx="487.5" cy="1049.2" r="6.65"/><circle cx="575.1" cy="1049.2" r="6.65"/><circle cx="750.3" cy="1049.2" r="6.65"/><circle cx="779.5" cy="1049.2" r="6.65"/><circle cx="910.9" cy="1049.2" r="6.65"/><circle cx="618.9" cy="1062.9" r="6.65"/><circle cx="721.1" cy="1062.9" r="6.65"/><circle cx="735.7" cy="1062.9" r="6.65"/><circle cx="823.3" cy="1062.9" r="6.65"/><circle cx="983.9" cy="1062.9" r="6.65"/><circle cx="545.9" cy="1076.5" r="6.65"/><circle cx="604.3" cy="1076.5" r="6.65"/><circle cx="735.7" cy="1076.5" r="6.65"/><circle cx="779.5" cy="1076.5" r="6.65"/><circle cx="808.7" cy="1076.5" r="6.65"/><circle cx="881.7" cy="1076.5" r="6.65"/><circle cx="896.3" cy="1076.5" r="6.65"/><circle cx="910.9" cy="1076.5" r="6.65"/><circle cx="545.9" cy="1090.2" r="6.65"/><circle cx="721.1" cy="1090.2" r="6.65"/><circle cx="750.3" cy="1090.2" r="6.65"/><circle cx="808.7" cy="1090.2" r="6.65"/><circle cx="823.3" cy="1090.2" r="6.65"/><circle cx="881.7" cy="1090.2" r="6.65"/><circle cx="983.9" cy="1090.2" r="6.65"/><circle cx="589.7" cy="1103.9" r="6.65"/><circle cx="779.5" cy="1103.9" r="6.65"/><circle cx="794.1" cy="1103.9" r="6.65"/><circle cx="808.7" cy="1103.9" r="6.65"/><circle cx="837.9" cy="1103.9" r="6.65"/><circle cx="910.9" cy="1103.9" r="6.65"/><circle cx="940.1" cy="1103.9" r="6.65"/><circle cx="589.7" cy="1117.6" r="6.65"/><circle cx="618.9" cy="1117.6" r="6.65"/><circle cx="677.3" cy="1117.6" r="6.65"/><circle cx="691.9" cy="1117.6" r="6.65"/><circle cx="706.5" cy="1117.6" r="6.65"/><circle cx="735.7" cy="1117.6" r="6.65"/><circle cx="808.7" cy="1117.6" r="6.65"/><circle cx="881.7" cy="1117.6" r="6.65"/><circle cx="545.9" cy="1131.3" r="6.65"/><circle cx="677.3" cy="1131.3" r="6.65"/><circle cx="735.7" cy="1131.3" r="6.65"/><circle cx="750.3" cy="1131.3" r="6.65"/><circle cx="794.1" cy="1131.3" r="6.65"/><circle cx="545.9" cy="1145.0" r="6.65"/><circle cx="604.3" cy="1145.0" r="6.65"/><circle cx="677.3" cy="1145.0" r="6.65"/><circle cx="706.5" cy="1145.0" r="6.65"/><circle cx="794.1" cy="1145.0" r="6.65"/><circle cx="837.9" cy="1145.0" r="6.65"/><circle cx="852.5" cy="1145.0" r="6.65"/><circle cx="881.7" cy="1145.0" r="6.65"/><circle cx="983.9" cy="1145.0" r="6.65"/><circle cx="531.3" cy="1166.0" r="6.65"/><circle cx="560.5" cy="1166.0" r="6.65"/><circle cx="837.9" cy="1166.0" r="6.65"/><circle cx="575.1" cy="1179.7" r="6.65"/><circle cx="662.7" cy="1179.7" r="6.65"/><circle cx="750.3" cy="1179.7" r="6.65"/><circle cx="837.9" cy="1179.7" r="6.65"/><circle cx="940.1" cy="1179.7" r="6.65"/><circle cx="487.5" cy="1193.3" r="6.65"/><circle cx="516.7" cy="1193.3" r="6.65"/><circle cx="487.5" cy="1207.0" r="6.65"/><circle cx="531.3" cy="1207.0" r="6.65"/><circle cx="750.3" cy="1207.0" r="6.65"/><circle cx="764.9" cy="1207.0" r="6.65"/><circle cx="925.5" cy="1207.0" r="6.65"/><circle cx="940.1" cy="1207.0" r="6.65"/><circle cx="925.5" cy="1241.5" r="6.65"/><circle cx="925.5" cy="1255.1" r="6.65"/><circle cx="969.3" cy="1268.8" r="6.65"/><circle cx="487.5" cy="1296.1" r="6.65"/><circle cx="502.1" cy="1296.1" r="6.65"/><circle cx="969.3" cy="1296.1" r="6.65"/><circle cx="969.3" cy="1309.7" r="6.65"/><circle cx="531.3" cy="1323.4" r="6.65"/><circle cx="940.1" cy="1323.4" r="6.65"/><circle cx="969.3" cy="1323.4" r="6.65"/><circle cx="531.3" cy="1337.0" r="6.65"/><circle cx="837.9" cy="1337.0" r="6.65"/><circle cx="940.1" cy="1337.0" r="6.65"/><circle cx="969.3" cy="1337.0" r="6.65"/><circle cx="823.3" cy="1350.7" r="6.65"/><circle cx="837.9" cy="1350.7" r="6.65"/><circle cx="940.1" cy="1350.7" r="6.65"/><circle cx="502.1" cy="1364.3" r="6.65"/><circle cx="940.1" cy="1364.3" r="6.65"/><circle cx="954.7" cy="1364.3" r="6.65"/><circle cx="940.1" cy="1378.0" r="6.65"/><circle cx="954.7" cy="1391.6" r="6.65"/><circle cx="575.1" cy="1405.3" r="6.65"/><circle cx="604.3" cy="1405.3" r="6.65"/><circle cx="618.9" cy="1405.3" r="6.65"/><circle cx="545.9" cy="1426.1" r="6.65"/><circle cx="662.7" cy="1426.1" r="6.65"/><circle cx="867.1" cy="1426.1" r="6.65"/><circle cx="925.5" cy="1426.1" r="6.65"/><circle cx="531.3" cy="1439.8" r="6.65"/><circle cx="925.5" cy="1439.8" r="6.65"/><circle cx="954.7" cy="1439.8" r="6.65"/><circle cx="867.1" cy="1453.5" r="6.65"/><circle cx="881.7" cy="1453.5" r="6.65"/><circle cx="837.9" cy="1467.2" r="6.65"/><circle cx="969.3" cy="1467.2" r="6.65"/><circle cx="881.7" cy="1480.9" r="6.65"/><circle cx="925.5" cy="1480.9" r="6.65"/><circle cx="940.1" cy="1480.9" r="6.65"/><circle cx="589.7" cy="1515.3" r="6.65"/><circle cx="648.1" cy="1515.3" r="6.65"/><circle cx="750.3" cy="1515.3" r="6.65"/><circle cx="531.3" cy="1529.0" r="6.65"/><circle cx="589.7" cy="1529.0" r="6.65"/><circle cx="589.7" cy="1542.6" r="6.65"/><circle cx="648.1" cy="1542.6" r="6.65"/><circle cx="531.3" cy="1570.0" r="6.65"/><circle cx="852.5" cy="1570.0" r="6.65"/><circle cx="589.7" cy="1583.6" r="6.65"/><circle cx="648.1" cy="1597.3" r="6.65"/><circle cx="940.1" cy="1610.9" r="6.65"/><circle cx="940.1" cy="1624.6" r="6.65"/><circle cx="633.5" cy="1645.7" r="6.65"/><circle cx="823.3" cy="1645.7" r="6.65"/><circle cx="910.9" cy="1645.7" r="6.65"/><circle cx="983.9" cy="1659.4" r="6.65"/><circle cx="648.1" cy="1673.0" r="6.65"/><circle cx="881.7" cy="1673.0" r="6.65"/><circle cx="910.9" cy="1673.0" r="6.65"/><circle cx="910.9" cy="1686.7" r="6.65"/><circle cx="969.3" cy="1686.7" r="6.65"/></g>
<g fill="#ffd9cb"><circle cx="491.4" cy="353.7" r="6.65"/><circle cx="491.4" cy="435.7" r="6.65"/><circle cx="785.9" cy="672.3" r="6.65"/><circle cx="859.0" cy="686.0" r="6.65"/><circle cx="552.1" cy="699.7" r="6.65"/><circle cx="625.2" cy="699.7" r="6.65"/><circle cx="683.6" cy="699.7" r="6.65"/><circle cx="712.9" cy="699.7" r="6.65"/><circle cx="742.1" cy="699.7" r="6.65"/><circle cx="756.7" cy="699.7" r="6.65"/><circle cx="829.7" cy="699.7" r="6.65"/><circle cx="859.0" cy="699.7" r="6.65"/><circle cx="975.8" cy="699.7" r="6.65"/><circle cx="581.4" cy="713.4" r="6.65"/><circle cx="859.0" cy="713.4" r="6.65"/><circle cx="946.6" cy="713.4" r="6.65"/><circle cx="493.7" cy="747.8" r="6.65"/><circle cx="522.9" cy="747.8" r="6.65"/><circle cx="946.6" cy="747.8" r="6.65"/><circle cx="917.4" cy="864.6" r="6.65"/><circle cx="552.1" cy="926.5" r="6.65"/><circle cx="596.0" cy="926.5" r="6.65"/><circle cx="829.7" cy="926.5" r="6.65"/><circle cx="844.3" cy="926.5" r="6.65"/><circle cx="516.7" cy="1008.1" r="6.65"/><circle cx="487.5" cy="1021.8" r="6.65"/><circle cx="487.5" cy="1035.5" r="6.65"/><circle cx="575.1" cy="1035.5" r="6.65"/><circle cx="925.5" cy="1035.5" r="6.65"/><circle cx="721.1" cy="1049.2" r="6.65"/><circle cx="808.7" cy="1049.2" r="6.65"/><circle cx="750.3" cy="1062.9" r="6.65"/><circle cx="502.1" cy="1076.5" r="6.65"/><circle cx="560.5" cy="1076.5" r="6.65"/><circle cx="575.1" cy="1076.5" r="6.65"/><circle cx="589.7" cy="1076.5" r="6.65"/><circle cx="721.1" cy="1076.5" r="6.65"/><circle cx="823.3" cy="1076.5" r="6.65"/><circle cx="487.5" cy="1090.2" r="6.65"/><circle cx="560.5" cy="1090.2" r="6.65"/><circle cx="487.5" cy="1103.9" r="6.65"/><circle cx="502.1" cy="1103.9" r="6.65"/><circle cx="925.5" cy="1103.9" r="6.65"/><circle cx="648.1" cy="1117.6" r="6.65"/><circle cx="837.9" cy="1117.6" r="6.65"/><circle cx="502.1" cy="1131.3" r="6.65"/><circle cx="560.5" cy="1131.3" r="6.65"/><circle cx="575.1" cy="1131.3" r="6.65"/><circle cx="604.3" cy="1131.3" r="6.65"/><circle cx="648.1" cy="1131.3" r="6.65"/><circle cx="837.9" cy="1131.3" r="6.65"/><circle cx="867.1" cy="1131.3" r="6.65"/><circle cx="896.3" cy="1131.3" r="6.65"/><circle cx="940.1" cy="1131.3" r="6.65"/><circle cx="954.7" cy="1131.3" r="6.65"/><circle cx="983.9" cy="1131.3" r="6.65"/><circle cx="867.1" cy="1145.0" r="6.65"/><circle cx="837.9" cy="1193.3" r="6.65"/><circle cx="575.1" cy="1207.0" r="6.65"/><circle cx="837.9" cy="1207.0" r="6.65"/><circle cx="487.5" cy="1227.8" r="6.65"/><circle cx="502.1" cy="1282.4" r="6.65"/><circle cx="516.7" cy="1282.4" r="6.65"/><circle cx="925.5" cy="1282.4" r="6.65"/><circle cx="516.7" cy="1323.4" r="6.65"/><circle cx="502.1" cy="1337.0" r="6.65"/><circle cx="516.7" cy="1350.7" r="6.65"/><circle cx="925.5" cy="1364.3" r="6.65"/><circle cx="531.3" cy="1378.0" r="6.65"/><circle cx="516.7" cy="1391.6" r="6.65"/><circle cx="867.1" cy="1391.6" r="6.65"/><circle cx="545.9" cy="1405.3" r="6.65"/><circle cx="648.1" cy="1405.3" r="6.65"/><circle cx="677.3" cy="1405.3" r="6.65"/><circle cx="881.7" cy="1405.3" r="6.65"/><circle cx="896.3" cy="1405.3" r="6.65"/><circle cx="954.7" cy="1405.3" r="6.65"/><circle cx="502.1" cy="1426.1" r="6.65"/><circle cx="604.3" cy="1426.1" r="6.65"/><circle cx="589.7" cy="1439.8" r="6.65"/><circle cx="604.3" cy="1439.8" r="6.65"/><circle cx="648.1" cy="1439.8" r="6.65"/><circle cx="852.5" cy="1439.8" r="6.65"/><circle cx="954.7" cy="1453.5" r="6.65"/><circle cx="969.3" cy="1453.5" r="6.65"/><circle cx="910.9" cy="1467.2" r="6.65"/><circle cx="502.1" cy="1494.6" r="6.65"/><circle cx="969.3" cy="1494.6" r="6.65"/><circle cx="662.7" cy="1515.3" r="6.65"/><circle cx="487.5" cy="1529.0" r="6.65"/><circle cx="633.5" cy="1529.0" r="6.65"/><circle cx="633.5" cy="1542.6" r="6.65"/><circle cx="983.9" cy="1570.0" r="6.65"/><circle cx="502.1" cy="1610.9" r="6.65"/><circle cx="750.3" cy="1645.7" r="6.65"/><circle cx="531.3" cy="1673.0" r="6.65"/><circle cx="589.7" cy="1673.0" r="6.65"/><circle cx="896.3" cy="1673.0" r="6.65"/><circle cx="531.3" cy="1686.7" r="6.65"/><circle cx="896.3" cy="1686.7" r="6.65"/></g>
<g fill="#ff2e16"><circle cx="522.9" cy="672.3" r="6.65"/><circle cx="596.0" cy="672.3" r="6.65"/><circle cx="522.9" cy="713.4" r="6.65"/><circle cx="537.5" cy="713.4" r="6.65"/><circle cx="552.1" cy="727.1" r="6.65"/><circle cx="566.8" cy="747.8" r="6.65"/><circle cx="669.0" cy="747.8" r="6.65"/><circle cx="552.1" cy="761.5" r="6.65"/><circle cx="654.4" cy="761.5" r="6.65"/><circle cx="669.0" cy="761.5" r="6.65"/><circle cx="552.1" cy="775.2" r="6.65"/><circle cx="669.0" cy="775.2" r="6.65"/><circle cx="712.9" cy="775.2" r="6.65"/><circle cx="771.3" cy="775.2" r="6.65"/><circle cx="815.1" cy="775.2" r="6.65"/><circle cx="712.9" cy="788.9" r="6.65"/><circle cx="771.3" cy="788.9" r="6.65"/><circle cx="815.1" cy="788.9" r="6.65"/><circle cx="888.2" cy="788.9" r="6.65"/><circle cx="932.0" cy="788.9" r="6.65"/><circle cx="566.8" cy="802.6" r="6.65"/><circle cx="683.6" cy="802.6" r="6.65"/><circle cx="932.0" cy="802.6" r="6.65"/><circle cx="537.5" cy="816.3" r="6.65"/><circle cx="888.2" cy="816.3" r="6.65"/><circle cx="537.5" cy="850.8" r="6.65"/><circle cx="596.0" cy="850.8" r="6.65"/><circle cx="859.0" cy="850.8" r="6.65"/><circle cx="508.3" cy="864.6" r="6.65"/><circle cx="683.6" cy="864.6" r="6.65"/><circle cx="873.6" cy="864.6" r="6.65"/><circle cx="508.3" cy="885.3" r="6.65"/><circle cx="683.6" cy="885.3" r="6.65"/><circle cx="493.7" cy="899.0" r="6.65"/><circle cx="677.3" cy="1008.1" r="6.65"/><circle cx="852.5" cy="1035.5" r="6.65"/><circle cx="545.9" cy="1166.0" r="6.65"/><circle cx="896.3" cy="1179.7" r="6.65"/><circle cx="896.3" cy="1193.3" r="6.65"/><circle cx="910.9" cy="1193.3" r="6.65"/><circle cx="954.7" cy="1193.3" r="6.65"/><circle cx="896.3" cy="1207.0" r="6.65"/><circle cx="531.3" cy="1227.8" r="6.65"/><circle cx="545.9" cy="1227.8" r="6.65"/><circle cx="560.5" cy="1227.8" r="6.65"/><circle cx="618.9" cy="1227.8" r="6.65"/><circle cx="633.5" cy="1227.8" r="6.65"/><circle cx="691.9" cy="1227.8" r="6.65"/><circle cx="706.5" cy="1227.8" r="6.65"/><circle cx="750.3" cy="1227.8" r="6.65"/><circle cx="764.9" cy="1227.8" r="6.65"/><circle cx="794.1" cy="1227.8" r="6.65"/><circle cx="808.7" cy="1227.8" r="6.65"/><circle cx="823.3" cy="1227.8" r="6.65"/><circle cx="867.1" cy="1227.8" r="6.65"/><circle cx="910.9" cy="1227.8" r="6.65"/><circle cx="954.7" cy="1227.8" r="6.65"/><circle cx="545.9" cy="1241.5" r="6.65"/><circle cx="560.5" cy="1241.5" r="6.65"/><circle cx="662.7" cy="1241.5" r="6.65"/><circle cx="721.1" cy="1241.5" r="6.65"/><circle cx="881.7" cy="1241.5" r="6.65"/><circle cx="910.9" cy="1241.5" r="6.65"/><circle cx="954.7" cy="1241.5" r="6.65"/><circle cx="545.9" cy="1255.1" r="6.65"/><circle cx="604.3" cy="1255.1" r="6.65"/><circle cx="677.3" cy="1255.1" r="6.65"/><circle cx="691.9" cy="1255.1" r="6.65"/><circle cx="706.5" cy="1255.1" r="6.65"/><circle cx="750.3" cy="1255.1" r="6.65"/><circle cx="852.5" cy="1255.1" r="6.65"/><circle cx="867.1" cy="1255.1" r="6.65"/><circle cx="633.5" cy="1268.8" r="6.65"/><circle cx="662.7" cy="1268.8" r="6.65"/><circle cx="750.3" cy="1268.8" r="6.65"/><circle cx="852.5" cy="1268.8" r="6.65"/><circle cx="867.1" cy="1268.8" r="6.65"/><circle cx="633.5" cy="1282.4" r="6.65"/><circle cx="779.5" cy="1282.4" r="6.65"/><circle cx="808.7" cy="1282.4" r="6.65"/><circle cx="604.3" cy="1296.1" r="6.65"/><circle cx="677.3" cy="1296.1" r="6.65"/><circle cx="852.5" cy="1296.1" r="6.65"/><circle cx="896.3" cy="1296.1" r="6.65"/><circle cx="662.7" cy="1364.3" r="6.65"/><circle cx="750.3" cy="1364.3" r="6.65"/><circle cx="852.5" cy="1364.3" r="6.65"/><circle cx="823.3" cy="1529.0" r="6.65"/><circle cx="896.3" cy="1529.0" r="6.65"/><circle cx="940.1" cy="1529.0" r="6.65"/><circle cx="823.3" cy="1542.6" r="6.65"/><circle cx="837.9" cy="1542.6" r="6.65"/><circle cx="881.7" cy="1542.6" r="6.65"/><circle cx="969.3" cy="1542.6" r="6.65"/><circle cx="867.1" cy="1556.3" r="6.65"/><circle cx="910.9" cy="1556.3" r="6.65"/><circle cx="837.9" cy="1570.0" r="6.65"/><circle cx="881.7" cy="1583.6" r="6.65"/><circle cx="910.9" cy="1583.6" r="6.65"/><circle cx="823.3" cy="1597.3" r="6.65"/><circle cx="837.9" cy="1597.3" r="6.65"/><circle cx="867.1" cy="1597.3" r="6.65"/><circle cx="896.3" cy="1597.3" r="6.65"/><circle cx="940.1" cy="1597.3" r="6.65"/><circle cx="969.3" cy="1597.3" r="6.65"/><circle cx="764.9" cy="1645.7" r="6.65"/><circle cx="852.5" cy="1645.7" r="6.65"/><circle cx="867.1" cy="1645.7" r="6.65"/><circle cx="940.1" cy="1645.7" r="6.65"/><circle cx="954.7" cy="1645.7" r="6.65"/></g>
<g fill="#ff0000"><circle cx="537.5" cy="672.3" r="6.65"/><circle cx="727.5" cy="672.3" r="6.65"/><circle cx="727.5" cy="713.4" r="6.65"/><circle cx="522.9" cy="727.1" r="6.65"/><circle cx="537.5" cy="727.1" r="6.65"/><circle cx="727.5" cy="727.1" r="6.65"/><circle cx="771.3" cy="761.5" r="6.65"/><circle cx="888.2" cy="761.5" r="6.65"/><circle cx="566.8" cy="775.2" r="6.65"/><circle cx="888.2" cy="775.2" r="6.65"/><circle cx="566.8" cy="788.9" r="6.65"/><circle cx="800.5" cy="788.9" r="6.65"/><circle cx="537.5" cy="802.6" r="6.65"/><circle cx="508.3" cy="816.3" r="6.65"/><circle cx="566.8" cy="816.3" r="6.65"/><circle cx="683.6" cy="816.3" r="6.65"/><circle cx="932.0" cy="816.3" r="6.65"/><circle cx="493.7" cy="850.8" r="6.65"/><circle cx="508.3" cy="850.8" r="6.65"/><circle cx="683.6" cy="850.8" r="6.65"/><circle cx="873.6" cy="850.8" r="6.65"/><circle cx="575.1" cy="1227.8" r="6.65"/><circle cx="589.7" cy="1227.8" r="6.65"/><circle cx="604.3" cy="1227.8" r="6.65"/><circle cx="648.1" cy="1227.8" r="6.65"/><circle cx="662.7" cy="1227.8" r="6.65"/><circle cx="677.3" cy="1227.8" r="6.65"/><circle cx="721.1" cy="1227.8" r="6.65"/><circle cx="735.7" cy="1227.8" r="6.65"/><circle cx="779.5" cy="1227.8" r="6.65"/><circle cx="852.5" cy="1227.8" r="6.65"/><circle cx="881.7" cy="1227.8" r="6.65"/><circle cx="896.3" cy="1227.8" r="6.65"/><circle cx="940.1" cy="1227.8" r="6.65"/><circle cx="575.1" cy="1241.5" r="6.65"/><circle cx="589.7" cy="1241.5" r="6.65"/><circle cx="604.3" cy="1241.5" r="6.65"/><circle cx="618.9" cy="1241.5" r="6.65"/><circle cx="633.5" cy="1241.5" r="6.65"/><circle cx="648.1" cy="1241.5" r="6.65"/><circle cx="677.3" cy="1241.5" r="6.65"/><circle cx="691.9" cy="1241.5" r="6.65"/><circle cx="706.5" cy="1241.5" r="6.65"/><circle cx="735.7" cy="1241.5" r="6.65"/><circle cx="750.3" cy="1241.5" r="6.65"/><circle cx="764.9" cy="1241.5" r="6.65"/><circle cx="779.5" cy="1241.5" r="6.65"/><circle cx="794.1" cy="1241.5" r="6.65"/><circle cx="808.7" cy="1241.5" r="6.65"/><circle cx="852.5" cy="1241.5" r="6.65"/><circle cx="896.3" cy="1241.5" r="6.65"/><circle cx="940.1" cy="1241.5" r="6.65"/><circle cx="633.5" cy="1255.1" r="6.65"/><circle cx="662.7" cy="1255.1" r="6.65"/><circle cx="896.3" cy="1255.1" r="6.65"/><circle cx="633.5" cy="1296.1" r="6.65"/><circle cx="633.5" cy="1364.3" r="6.65"/><circle cx="779.5" cy="1405.3" r="6.65"/><circle cx="837.9" cy="1529.0" r="6.65"/><circle cx="867.1" cy="1529.0" r="6.65"/><circle cx="881.7" cy="1529.0" r="6.65"/><circle cx="910.9" cy="1529.0" r="6.65"/><circle cx="896.3" cy="1542.6" r="6.65"/><circle cx="910.9" cy="1542.6" r="6.65"/><circle cx="925.5" cy="1542.6" r="6.65"/><circle cx="940.1" cy="1542.6" r="6.65"/><circle cx="881.7" cy="1556.3" r="6.65"/><circle cx="837.9" cy="1583.6" r="6.65"/><circle cx="881.7" cy="1597.3" r="6.65"/><circle cx="910.9" cy="1597.3" r="6.65"/><circle cx="925.5" cy="1597.3" r="6.65"/><circle cx="516.7" cy="1645.7" r="6.65"/><circle cx="560.5" cy="1645.7" r="6.65"/><circle cx="618.9" cy="1645.7" r="6.65"/><circle cx="779.5" cy="1645.7" r="6.65"/><circle cx="794.1" cy="1645.7" r="6.65"/><circle cx="837.9" cy="1645.7" r="6.65"/><circle cx="896.3" cy="1645.7" r="6.65"/><circle cx="925.5" cy="1645.7" r="6.65"/><circle cx="969.3" cy="1645.7" r="6.65"/><circle cx="983.9" cy="1645.7" r="6.65"/></g>
<g fill="#ff6c4b"><circle cx="552.1" cy="672.3" r="6.65"/><circle cx="625.2" cy="672.3" r="6.65"/><circle cx="683.6" cy="672.3" r="6.65"/><circle cx="742.1" cy="672.3" r="6.65"/><circle cx="975.8" cy="672.3" r="6.65"/><circle cx="596.0" cy="686.0" r="6.65"/><circle cx="698.2" cy="686.0" r="6.65"/><circle cx="727.5" cy="686.0" r="6.65"/><circle cx="596.0" cy="727.1" r="6.65"/><circle cx="756.7" cy="727.1" r="6.65"/><circle cx="537.5" cy="747.8" r="6.65"/><circle cx="581.4" cy="747.8" r="6.65"/><circle cx="654.4" cy="747.8" r="6.65"/><circle cx="683.6" cy="747.8" r="6.65"/><circle cx="756.7" cy="747.8" r="6.65"/><circle cx="771.3" cy="747.8" r="6.65"/><circle cx="815.1" cy="747.8" r="6.65"/><circle cx="932.0" cy="747.8" r="6.65"/><circle cx="683.6" cy="761.5" r="6.65"/><circle cx="712.9" cy="761.5" r="6.65"/><circle cx="815.1" cy="761.5" r="6.65"/><circle cx="844.3" cy="761.5" r="6.65"/><circle cx="859.0" cy="761.5" r="6.65"/><circle cx="537.5" cy="775.2" r="6.65"/><circle cx="654.4" cy="775.2" r="6.65"/><circle cx="698.2" cy="775.2" r="6.65"/><circle cx="756.7" cy="775.2" r="6.65"/><circle cx="800.5" cy="775.2" r="6.65"/><circle cx="844.3" cy="775.2" r="6.65"/><circle cx="859.0" cy="775.2" r="6.65"/><circle cx="932.0" cy="775.2" r="6.65"/><circle cx="654.4" cy="788.9" r="6.65"/><circle cx="698.2" cy="788.9" r="6.65"/><circle cx="785.9" cy="788.9" r="6.65"/><circle cx="859.0" cy="788.9" r="6.65"/><circle cx="669.0" cy="802.6" r="6.65"/><circle cx="888.2" cy="802.6" r="6.65"/><circle cx="493.7" cy="816.3" r="6.65"/><circle cx="552.1" cy="816.3" r="6.65"/><circle cx="669.0" cy="816.3" r="6.65"/><circle cx="873.6" cy="837.0" r="6.65"/><circle cx="610.6" cy="864.6" r="6.65"/><circle cx="537.5" cy="885.3" r="6.65"/><circle cx="625.2" cy="885.3" r="6.65"/><circle cx="698.2" cy="885.3" r="6.65"/><circle cx="829.7" cy="885.3" r="6.65"/><circle cx="508.3" cy="899.0" r="6.65"/><circle cx="537.5" cy="899.0" r="6.65"/><circle cx="610.6" cy="899.0" r="6.65"/><circle cx="625.2" cy="899.0" r="6.65"/><circle cx="873.6" cy="899.0" r="6.65"/><circle cx="610.6" cy="912.8" r="6.65"/><circle cx="639.8" cy="912.8" r="6.65"/><circle cx="683.6" cy="912.8" r="6.65"/><circle cx="698.2" cy="912.8" r="6.65"/><circle cx="545.9" cy="1008.1" r="6.65"/><circle cx="575.1" cy="1008.1" r="6.65"/><circle cx="662.7" cy="1008.1" r="6.65"/><circle cx="721.1" cy="1008.1" r="6.65"/><circle cx="545.9" cy="1035.5" r="6.65"/><circle cx="633.5" cy="1035.5" r="6.65"/><circle cx="677.3" cy="1035.5" r="6.65"/><circle cx="808.7" cy="1035.5" r="6.65"/><circle cx="910.9" cy="1035.5" r="6.65"/><circle cx="502.1" cy="1049.2" r="6.65"/><circle cx="633.5" cy="1062.9" r="6.65"/><circle cx="867.1" cy="1062.9" r="6.65"/><circle cx="618.9" cy="1090.2" r="6.65"/><circle cx="633.5" cy="1090.2" r="6.65"/><circle cx="677.3" cy="1090.2" r="6.65"/><circle cx="691.9" cy="1090.2" r="6.65"/><circle cx="735.7" cy="1090.2" r="6.65"/><circle cx="852.5" cy="1090.2" r="6.65"/><circle cx="662.7" cy="1117.6" r="6.65"/><circle cx="750.3" cy="1166.0" r="6.65"/><circle cx="764.9" cy="1166.0" r="6.65"/><circle cx="896.3" cy="1166.0" r="6.65"/><circle cx="954.7" cy="1166.0" r="6.65"/><circle cx="545.9" cy="1179.7" r="6.65"/><circle cx="648.1" cy="1179.7" r="6.65"/><circle cx="910.9" cy="1179.7" r="6.65"/><circle cx="940.1" cy="1193.3" r="6.65"/><circle cx="545.9" cy="1207.0" r="6.65"/><circle cx="823.3" cy="1207.0" r="6.65"/><circle cx="837.9" cy="1227.8" r="6.65"/><circle cx="969.3" cy="1227.8" r="6.65"/><circle cx="867.1" cy="1241.5" r="6.65"/><circle cx="502.1" cy="1255.1" r="6.65"/><circle cx="721.1" cy="1255.1" r="6.65"/><circle cx="794.1" cy="1255.1" r="6.65"/><circle cx="910.9" cy="1255.1" r="6.65"/><circle cx="940.1" cy="1255.1" r="6.65"/><circle cx="502.1" cy="1268.8" r="6.65"/><circle cx="575.1" cy="1268.8" r="6.65"/><circle cx="618.9" cy="1268.8" r="6.65"/><circle cx="648.1" cy="1268.8" r="6.65"/><circle cx="691.9" cy="1268.8" r="6.65"/><circle cx="721.1" cy="1268.8" r="6.65"/><circle cx="735.7" cy="1268.8" r="6.65"/><circle cx="764.9" cy="1268.8" r="6.65"/><circle cx="779.5" cy="1268.8" r="6.65"/><circle cx="794.1" cy="1268.8" r="6.65"/><circle cx="808.7" cy="1268.8" r="6.65"/><circle cx="837.9" cy="1268.8" r="6.65"/><circle cx="560.5" cy="1282.4" r="6.65"/><circle cx="575.1" cy="1282.4" r="6.65"/><circle cx="589.7" cy="1282.4" r="6.65"/><circle cx="721.1" cy="1282.4" r="6.65"/><circle cx="764.9" cy="1282.4" r="6.65"/><circle cx="867.1" cy="1282.4" r="6.65"/><circle cx="910.9" cy="1282.4" r="6.65"/><circle cx="954.7" cy="1282.4" r="6.65"/><circle cx="545.9" cy="1296.1" r="6.65"/><circle cx="575.1" cy="1296.1" r="6.65"/><circle cx="706.5" cy="1296.1" r="6.65"/><circle cx="721.1" cy="1296.1" r="6.65"/><circle cx="735.7" cy="1296.1" r="6.65"/><circle cx="764.9" cy="1296.1" r="6.65"/><circle cx="779.5" cy="1296.1" r="6.65"/><circle cx="823.3" cy="1296.1" r="6.65"/><circle cx="837.9" cy="1296.1" r="6.65"/><circle cx="867.1" cy="1296.1" r="6.65"/><circle cx="560.5" cy="1309.7" r="6.65"/><circle cx="575.1" cy="1309.7" r="6.65"/><circle cx="589.7" cy="1309.7" r="6.65"/><circle cx="618.9" cy="1309.7" r="6.65"/><circle cx="706.5" cy="1309.7" r="6.65"/><circle cx="721.1" cy="1309.7" r="6.65"/><circle cx="735.7" cy="1309.7" r="6.65"/><circle cx="750.3" cy="1309.7" r="6.65"/><circle cx="823.3" cy="1309.7" r="6.65"/><circle cx="867.1" cy="1309.7" r="6.65"/><circle cx="881.7" cy="1309.7" r="6.65"/><circle cx="910.9" cy="1309.7" r="6.65"/><circle cx="545.9" cy="1323.4" r="6.65"/><circle cx="589.7" cy="1323.4" r="6.65"/><circle cx="604.3" cy="1323.4" r="6.65"/><circle cx="633.5" cy="1323.4" r="6.65"/><circle cx="662.7" cy="1323.4" r="6.65"/><circle cx="677.3" cy="1323.4" r="6.65"/><circle cx="691.9" cy="1323.4" r="6.65"/><circle cx="706.5" cy="1323.4" r="6.65"/><circle cx="735.7" cy="1323.4" r="6.65"/><circle cx="764.9" cy="1323.4" r="6.65"/><circle cx="779.5" cy="1323.4" r="6.65"/><circle cx="794.1" cy="1323.4" r="6.65"/><circle cx="808.7" cy="1323.4" r="6.65"/><circle cx="852.5" cy="1323.4" r="6.65"/><circle cx="545.9" cy="1337.0" r="6.65"/><circle cx="560.5" cy="1337.0" r="6.65"/><circle cx="575.1" cy="1337.0" r="6.65"/><circle cx="604.3" cy="1337.0" r="6.65"/><circle cx="633.5" cy="1337.0" r="6.65"/><circle cx="648.1" cy="1337.0" r="6.65"/><circle cx="662.7" cy="1337.0" r="6.65"/><circle cx="691.9" cy="1337.0" r="6.65"/><circle cx="706.5" cy="1337.0" r="6.65"/><circle cx="750.3" cy="1337.0" r="6.65"/><circle cx="764.9" cy="1337.0" r="6.65"/><circle cx="794.1" cy="1337.0" r="6.65"/><circle cx="808.7" cy="1337.0" r="6.65"/><circle cx="852.5" cy="1337.0" r="6.65"/><circle cx="545.9" cy="1350.7" r="6.65"/><circle cx="575.1" cy="1350.7" r="6.65"/><circle cx="604.3" cy="1350.7" r="6.65"/><circle cx="618.9" cy="1350.7" r="6.65"/><circle cx="633.5" cy="1350.7" r="6.65"/><circle cx="691.9" cy="1350.7" r="6.65"/><circle cx="706.5" cy="1350.7" r="6.65"/><circle cx="735.7" cy="1350.7" r="6.65"/><circle cx="750.3" cy="1350.7" r="6.65"/><circle cx="764.9" cy="1350.7" r="6.65"/><circle cx="794.1" cy="1350.7" r="6.65"/><circle cx="808.7" cy="1350.7" r="6.65"/><circle cx="852.5" cy="1350.7" r="6.65"/><circle cx="896.3" cy="1350.7" r="6.65"/><circle cx="560.5" cy="1364.3" r="6.65"/><circle cx="589.7" cy="1364.3" r="6.65"/><circle cx="648.1" cy="1364.3" r="6.65"/><circle cx="706.5" cy="1364.3" r="6.65"/><circle cx="764.9" cy="1364.3" r="6.65"/><circle cx="779.5" cy="1364.3" r="6.65"/><circle cx="794.1" cy="1364.3" r="6.65"/><circle cx="808.7" cy="1364.3" r="6.65"/><circle cx="823.3" cy="1364.3" r="6.65"/><circle cx="867.1" cy="1364.3" r="6.65"/><circle cx="881.7" cy="1364.3" r="6.65"/><circle cx="983.9" cy="1364.3" r="6.65"/><circle cx="545.9" cy="1378.0" r="6.65"/><circle cx="560.5" cy="1378.0" r="6.65"/><circle cx="575.1" cy="1378.0" r="6.65"/><circle cx="604.3" cy="1378.0" r="6.65"/><circle cx="618.9" cy="1378.0" r="6.65"/><circle cx="662.7" cy="1378.0" r="6.65"/><circle cx="691.9" cy="1378.0" r="6.65"/><circle cx="706.5" cy="1378.0" r="6.65"/><circle cx="721.1" cy="1378.0" r="6.65"/><circle cx="735.7" cy="1378.0" r="6.65"/><circle cx="779.5" cy="1378.0" r="6.65"/><circle cx="808.7" cy="1378.0" r="6.65"/><circle cx="837.9" cy="1378.0" r="6.65"/><circle cx="852.5" cy="1378.0" r="6.65"/><circle cx="867.1" cy="1378.0" r="6.65"/><circle cx="983.9" cy="1378.0" r="6.65"/><circle cx="662.7" cy="1391.6" r="6.65"/><circle cx="677.3" cy="1391.6" r="6.65"/><circle cx="735.7" cy="1391.6" r="6.65"/><circle cx="779.5" cy="1391.6" r="6.65"/><circle cx="794.1" cy="1405.3" r="6.65"/><circle cx="823.3" cy="1426.1" r="6.65"/><circle cx="837.9" cy="1426.1" r="6.65"/><circle cx="910.9" cy="1426.1" r="6.65"/><circle cx="940.1" cy="1426.1" r="6.65"/><circle cx="837.9" cy="1439.8" r="6.65"/><circle cx="531.3" cy="1515.3" r="6.65"/><circle cx="823.3" cy="1515.3" r="6.65"/><circle cx="837.9" cy="1515.3" r="6.65"/><circle cx="881.7" cy="1515.3" r="6.65"/><circle cx="969.3" cy="1515.3" r="6.65"/><circle cx="969.3" cy="1529.0" r="6.65"/><circle cx="867.1" cy="1542.6" r="6.65"/><circle cx="954.7" cy="1542.6" r="6.65"/><circle cx="896.3" cy="1556.3" r="6.65"/><circle cx="925.5" cy="1556.3" r="6.65"/><circle cx="940.1" cy="1556.3" r="6.65"/><circle cx="867.1" cy="1570.0" r="6.65"/><circle cx="925.5" cy="1570.0" r="6.65"/><circle cx="531.3" cy="1583.6" r="6.65"/><circle cx="954.7" cy="1597.3" r="6.65"/><circle cx="867.1" cy="1610.9" r="6.65"/><circle cx="969.3" cy="1610.9" r="6.65"/><circle cx="531.3" cy="1624.6" r="6.65"/><circle cx="837.9" cy="1624.6" r="6.65"/><circle cx="867.1" cy="1624.6" r="6.65"/><circle cx="910.9" cy="1624.6" r="6.65"/><circle cx="969.3" cy="1624.6" r="6.65"/><circle cx="735.7" cy="1645.7" r="6.65"/><circle cx="531.3" cy="1659.4" r="6.65"/><circle cx="823.3" cy="1659.4" r="6.65"/><circle cx="852.5" cy="1659.4" r="6.65"/><circle cx="896.3" cy="1659.4" r="6.65"/><circle cx="910.9" cy="1659.4" r="6.65"/><circle cx="969.3" cy="1659.4" r="6.65"/><circle cx="940.1" cy="1673.0" r="6.65"/><circle cx="837.9" cy="1686.7" r="6.65"/></g>
<g fill="#ff8767"><circle cx="610.6" cy="672.3" r="6.65"/><circle cx="712.9" cy="672.3" r="6.65"/><circle cx="932.0" cy="672.3" r="6.65"/><circle cx="596.0" cy="713.4" r="6.65"/><circle cx="975.8" cy="713.4" r="6.65"/><circle cx="581.4" cy="727.1" r="6.65"/><circle cx="698.2" cy="727.1" r="6.65"/><circle cx="946.6" cy="727.1" r="6.65"/><circle cx="610.6" cy="747.8" r="6.65"/><circle cx="625.2" cy="747.8" r="6.65"/><circle cx="727.5" cy="747.8" r="6.65"/><circle cx="742.1" cy="747.8" r="6.65"/><circle cx="785.9" cy="747.8" r="6.65"/><circle cx="800.5" cy="747.8" r="6.65"/><circle cx="859.0" cy="747.8" r="6.65"/><circle cx="625.2" cy="761.5" r="6.65"/><circle cx="785.9" cy="761.5" r="6.65"/><circle cx="829.7" cy="761.5" r="6.65"/><circle cx="625.2" cy="775.2" r="6.65"/><circle cx="727.5" cy="775.2" r="6.65"/><circle cx="742.1" cy="775.2" r="6.65"/><circle cx="493.7" cy="788.9" r="6.65"/><circle cx="756.7" cy="788.9" r="6.65"/><circle cx="508.3" cy="802.6" r="6.65"/><circle cx="771.3" cy="802.6" r="6.65"/><circle cx="800.5" cy="802.6" r="6.65"/><circle cx="771.3" cy="816.3" r="6.65"/><circle cx="800.5" cy="816.3" r="6.65"/><circle cx="610.6" cy="837.0" r="6.65"/><circle cx="669.0" cy="837.0" r="6.65"/><circle cx="859.0" cy="837.0" r="6.65"/><circle cx="625.2" cy="864.6" r="6.65"/><circle cx="639.8" cy="864.6" r="6.65"/><circle cx="669.0" cy="864.6" r="6.65"/><circle cx="596.0" cy="885.3" r="6.65"/><circle cx="654.4" cy="885.3" r="6.65"/><circle cx="669.0" cy="885.3" r="6.65"/><circle cx="844.3" cy="885.3" r="6.65"/><circle cx="902.8" cy="885.3" r="6.65"/><circle cx="552.1" cy="899.0" r="6.65"/><circle cx="596.0" cy="899.0" r="6.65"/><circle cx="639.8" cy="899.0" r="6.65"/><circle cx="654.4" cy="899.0" r="6.65"/><circle cx="669.0" cy="899.0" r="6.65"/><circle cx="712.9" cy="899.0" r="6.65"/><circle cx="888.2" cy="899.0" r="6.65"/><circle cx="712.9" cy="912.8" r="6.65"/><circle cx="873.6" cy="912.8" r="6.65"/><circle cx="683.6" cy="926.5" r="6.65"/><circle cx="560.5" cy="1008.1" r="6.65"/><circle cx="604.3" cy="1008.1" r="6.65"/><circle cx="618.9" cy="1008.1" r="6.65"/><circle cx="633.5" cy="1008.1" r="6.65"/><circle cx="648.1" cy="1008.1" r="6.65"/><circle cx="691.9" cy="1008.1" r="6.65"/><circle cx="735.7" cy="1008.1" r="6.65"/><circle cx="779.5" cy="1008.1" r="6.65"/><circle cx="823.3" cy="1008.1" r="6.65"/><circle cx="837.9" cy="1008.1" r="6.65"/><circle cx="881.7" cy="1008.1" r="6.65"/><circle cx="896.3" cy="1008.1" r="6.65"/><circle cx="983.9" cy="1008.1" r="6.65"/><circle cx="545.9" cy="1021.8" r="6.65"/><circle cx="604.3" cy="1021.8" r="6.65"/><circle cx="618.9" cy="1021.8" r="6.65"/><circle cx="633.5" cy="1021.8" r="6.65"/><circle cx="648.1" cy="1021.8" r="6.65"/><circle cx="662.7" cy="1021.8" r="6.65"/><circle cx="677.3" cy="1021.8" r="6.65"/><circle cx="691.9" cy="1021.8" r="6.65"/><circle cx="706.5" cy="1021.8" r="6.65"/><circle cx="735.7" cy="1021.8" r="6.65"/><circle cx="750.3" cy="1021.8" r="6.65"/><circle cx="852.5" cy="1021.8" r="6.65"/><circle cx="881.7" cy="1021.8" r="6.65"/><circle cx="896.3" cy="1021.8" r="6.65"/><circle cx="910.9" cy="1021.8" r="6.65"/><circle cx="648.1" cy="1035.5" r="6.65"/><circle cx="735.7" cy="1035.5" r="6.65"/><circle cx="896.3" cy="1035.5" r="6.65"/><circle cx="940.1" cy="1035.5" r="6.65"/><circle cx="545.9" cy="1049.2" r="6.65"/><circle cx="589.7" cy="1049.2" r="6.65"/><circle cx="604.3" cy="1049.2" r="6.65"/><circle cx="633.5" cy="1049.2" r="6.65"/><circle cx="648.1" cy="1049.2" r="6.65"/><circle cx="662.7" cy="1049.2" r="6.65"/><circle cx="706.5" cy="1049.2" r="6.65"/><circle cx="837.9" cy="1049.2" r="6.65"/><circle cx="852.5" cy="1049.2" r="6.65"/><circle cx="896.3" cy="1049.2" r="6.65"/><circle cx="502.1" cy="1062.9" r="6.65"/><circle cx="545.9" cy="1062.9" r="6.65"/><circle cx="604.3" cy="1062.9" r="6.65"/><circle cx="677.3" cy="1062.9" r="6.65"/><circle cx="852.5" cy="1062.9" r="6.65"/><circle cx="896.3" cy="1062.9" r="6.65"/><circle cx="633.5" cy="1076.5" r="6.65"/><circle cx="662.7" cy="1076.5" r="6.65"/><circle cx="852.5" cy="1076.5" r="6.65"/><circle cx="867.1" cy="1076.5" r="6.65"/><circle cx="706.5" cy="1090.2" r="6.65"/><circle cx="779.5" cy="1090.2" r="6.65"/><circle cx="545.9" cy="1103.9" r="6.65"/><circle cx="618.9" cy="1103.9" r="6.65"/><circle cx="677.3" cy="1103.9" r="6.65"/><circle cx="852.5" cy="1103.9" r="6.65"/><circle cx="633.5" cy="1117.6" r="6.65"/><circle cx="896.3" cy="1117.6" r="6.65"/><circle cx="633.5" cy="1145.0" r="6.65"/><circle cx="662.7" cy="1145.0" r="6.65"/><circle cx="648.1" cy="1166.0" r="6.65"/><circle cx="662.7" cy="1166.0" r="6.65"/><circle cx="910.9" cy="1166.0" r="6.65"/><circle cx="940.1" cy="1166.0" r="6.65"/><circle cx="662.7" cy="1193.3" r="6.65"/><circle cx="750.3" cy="1193.3" r="6.65"/><circle cx="662.7" cy="1207.0" r="6.65"/><circle cx="910.9" cy="1207.0" r="6.65"/><circle cx="925.5" cy="1227.8" r="6.65"/><circle cx="837.9" cy="1241.5" r="6.65"/><circle cx="940.1" cy="1268.8" r="6.65"/><circle cx="823.3" cy="1282.4" r="6.65"/><circle cx="837.9" cy="1282.4" r="6.65"/><circle cx="531.3" cy="1296.1" r="6.65"/><circle cx="560.5" cy="1296.1" r="6.65"/><circle cx="589.7" cy="1296.1" r="6.65"/><circle cx="648.1" cy="1296.1" r="6.65"/><circle cx="794.1" cy="1296.1" r="6.65"/><circle cx="808.7" cy="1296.1" r="6.65"/><circle cx="881.7" cy="1296.1" r="6.65"/><circle cx="910.9" cy="1296.1" r="6.65"/><circle cx="940.1" cy="1296.1" r="6.65"/><circle cx="691.9" cy="1309.7" r="6.65"/><circle cx="794.1" cy="1309.7" r="6.65"/><circle cx="808.7" cy="1309.7" r="6.65"/><circle cx="837.9" cy="1309.7" r="6.65"/><circle cx="954.7" cy="1309.7" r="6.65"/><circle cx="983.9" cy="1309.7" r="6.65"/><circle cx="560.5" cy="1323.4" r="6.65"/><circle cx="575.1" cy="1323.4" r="6.65"/><circle cx="618.9" cy="1323.4" r="6.65"/><circle cx="648.1" cy="1323.4" r="6.65"/><circle cx="721.1" cy="1323.4" r="6.65"/><circle cx="750.3" cy="1323.4" r="6.65"/><circle cx="823.3" cy="1323.4" r="6.65"/><circle cx="881.7" cy="1323.4" r="6.65"/><circle cx="896.3" cy="1323.4" r="6.65"/><circle cx="910.9" cy="1323.4" r="6.65"/><circle cx="589.7" cy="1337.0" r="6.65"/><circle cx="721.1" cy="1337.0" r="6.65"/><circle cx="881.7" cy="1337.0" r="6.65"/><circle cx="896.3" cy="1337.0" r="6.65"/><circle cx="910.9" cy="1337.0" r="6.65"/><circle cx="954.7" cy="1337.0" r="6.65"/><circle cx="560.5" cy="1350.7" r="6.65"/><circle cx="589.7" cy="1350.7" r="6.65"/><circle cx="648.1" cy="1350.7" r="6.65"/><circle cx="721.1" cy="1350.7" r="6.65"/><circle cx="910.9" cy="1350.7" r="6.65"/><circle cx="983.9" cy="1350.7" r="6.65"/><circle cx="575.1" cy="1364.3" r="6.65"/><circle cx="691.9" cy="1364.3" r="6.65"/><circle cx="721.1" cy="1364.3" r="6.65"/><circle cx="837.9" cy="1364.3" r="6.65"/><circle cx="910.9" cy="1364.3" r="6.65"/><circle cx="764.9" cy="1378.0" r="6.65"/><circle cx="896.3" cy="1378.0" r="6.65"/><circle cx="954.7" cy="1378.0" r="6.65"/><circle cx="545.9" cy="1391.6" r="6.65"/><circle cx="575.1" cy="1391.6" r="6.65"/><circle cx="633.5" cy="1391.6" r="6.65"/><circle cx="691.9" cy="1391.6" r="6.65"/><circle cx="706.5" cy="1391.6" r="6.65"/><circle cx="764.9" cy="1391.6" r="6.65"/><circle cx="969.3" cy="1391.6" r="6.65"/><circle cx="633.5" cy="1405.3" r="6.65"/><circle cx="721.1" cy="1405.3" r="6.65"/><circle cx="750.3" cy="1405.3" r="6.65"/><circle cx="808.7" cy="1405.3" r="6.65"/><circle cx="983.9" cy="1405.3" r="6.65"/><circle cx="531.3" cy="1426.1" r="6.65"/><circle cx="589.7" cy="1426.1" r="6.65"/><circle cx="852.5" cy="1426.1" r="6.65"/><circle cx="881.7" cy="1426.1" r="6.65"/><circle cx="896.3" cy="1426.1" r="6.65"/><circle cx="954.7" cy="1426.1" r="6.65"/><circle cx="969.3" cy="1426.1" r="6.65"/><circle cx="837.9" cy="1453.5" r="6.65"/><circle cx="823.3" cy="1480.9" r="6.65"/><circle cx="896.3" cy="1515.3" r="6.65"/><circle cx="940.1" cy="1515.3" r="6.65"/><circle cx="852.5" cy="1529.0" r="6.65"/><circle cx="954.7" cy="1529.0" r="6.65"/><circle cx="954.7" cy="1556.3" r="6.65"/><circle cx="969.3" cy="1556.3" r="6.65"/><circle cx="896.3" cy="1570.0" r="6.65"/><circle cx="940.1" cy="1570.0" r="6.65"/><circle cx="969.3" cy="1570.0" r="6.65"/><circle cx="896.3" cy="1583.6" r="6.65"/><circle cx="925.5" cy="1583.6" r="6.65"/><circle cx="940.1" cy="1583.6" r="6.65"/><circle cx="969.3" cy="1583.6" r="6.65"/><circle cx="531.3" cy="1597.3" r="6.65"/><circle cx="531.3" cy="1610.9" r="6.65"/><circle cx="910.9" cy="1610.9" r="6.65"/><circle cx="881.7" cy="1624.6" r="6.65"/><circle cx="589.7" cy="1659.4" r="6.65"/><circle cx="837.9" cy="1659.4" r="6.65"/><circle cx="867.1" cy="1659.4" r="6.65"/><circle cx="881.7" cy="1659.4" r="6.65"/><circle cx="940.1" cy="1659.4" r="6.65"/><circle cx="954.7" cy="1659.4" r="6.65"/><circle cx="823.3" cy="1686.7" r="6.65"/></g>
<g fill="#ff4d2e"><circle cx="698.2" cy="672.3" r="6.65"/><circle cx="522.9" cy="686.0" r="6.65"/><circle cx="537.5" cy="686.0" r="6.65"/><circle cx="698.2" cy="713.4" r="6.65"/><circle cx="610.6" cy="727.1" r="6.65"/><circle cx="932.0" cy="727.1" r="6.65"/><circle cx="552.1" cy="747.8" r="6.65"/><circle cx="698.2" cy="747.8" r="6.65"/><circle cx="712.9" cy="747.8" r="6.65"/><circle cx="888.2" cy="747.8" r="6.65"/><circle cx="537.5" cy="761.5" r="6.65"/><circle cx="566.8" cy="761.5" r="6.65"/><circle cx="698.2" cy="761.5" r="6.65"/><circle cx="800.5" cy="761.5" r="6.65"/><circle cx="932.0" cy="761.5" r="6.65"/><circle cx="683.6" cy="775.2" r="6.65"/><circle cx="785.9" cy="775.2" r="6.65"/><circle cx="537.5" cy="788.9" r="6.65"/><circle cx="552.1" cy="788.9" r="6.65"/><circle cx="669.0" cy="788.9" r="6.65"/><circle cx="683.6" cy="788.9" r="6.65"/><circle cx="552.1" cy="802.6" r="6.65"/><circle cx="712.9" cy="802.6" r="6.65"/><circle cx="815.1" cy="802.6" r="6.65"/><circle cx="844.3" cy="802.6" r="6.65"/><circle cx="712.9" cy="816.3" r="6.65"/><circle cx="815.1" cy="816.3" r="6.65"/><circle cx="844.3" cy="816.3" r="6.65"/><circle cx="493.7" cy="837.0" r="6.65"/><circle cx="508.3" cy="837.0" r="6.65"/><circle cx="537.5" cy="837.0" r="6.65"/><circle cx="596.0" cy="837.0" r="6.65"/><circle cx="683.6" cy="837.0" r="6.65"/><circle cx="844.3" cy="837.0" r="6.65"/><circle cx="610.6" cy="850.8" r="6.65"/><circle cx="639.8" cy="850.8" r="6.65"/><circle cx="844.3" cy="850.8" r="6.65"/><circle cx="902.8" cy="850.8" r="6.65"/><circle cx="493.7" cy="864.6" r="6.65"/><circle cx="537.5" cy="864.6" r="6.65"/><circle cx="596.0" cy="864.6" r="6.65"/><circle cx="844.3" cy="864.6" r="6.65"/><circle cx="859.0" cy="864.6" r="6.65"/><circle cx="493.7" cy="885.3" r="6.65"/><circle cx="610.6" cy="885.3" r="6.65"/><circle cx="639.8" cy="885.3" r="6.65"/><circle cx="859.0" cy="885.3" r="6.65"/><circle cx="873.6" cy="885.3" r="6.65"/><circle cx="683.6" cy="899.0" r="6.65"/><circle cx="698.2" cy="899.0" r="6.65"/><circle cx="750.3" cy="1008.1" r="6.65"/><circle cx="852.5" cy="1008.1" r="6.65"/><circle cx="867.1" cy="1008.1" r="6.65"/><circle cx="662.7" cy="1035.5" r="6.65"/><circle cx="677.3" cy="1049.2" r="6.65"/><circle cx="837.9" cy="1062.9" r="6.65"/><circle cx="837.9" cy="1076.5" r="6.65"/><circle cx="823.3" cy="1166.0" r="6.65"/><circle cx="823.3" cy="1179.7" r="6.65"/><circle cx="954.7" cy="1179.7" r="6.65"/><circle cx="545.9" cy="1193.3" r="6.65"/><circle cx="560.5" cy="1193.3" r="6.65"/><circle cx="764.9" cy="1193.3" r="6.65"/><circle cx="823.3" cy="1193.3" r="6.65"/><circle cx="954.7" cy="1207.0" r="6.65"/><circle cx="516.7" cy="1227.8" r="6.65"/><circle cx="983.9" cy="1227.8" r="6.65"/><circle cx="516.7" cy="1241.5" r="6.65"/><circle cx="531.3" cy="1241.5" r="6.65"/><circle cx="823.3" cy="1241.5" r="6.65"/><circle cx="969.3" cy="1241.5" r="6.65"/><circle cx="983.9" cy="1241.5" r="6.65"/><circle cx="531.3" cy="1255.1" r="6.65"/><circle cx="560.5" cy="1255.1" r="6.65"/><circle cx="575.1" cy="1255.1" r="6.65"/><circle cx="589.7" cy="1255.1" r="6.65"/><circle cx="618.9" cy="1255.1" r="6.65"/><circle cx="648.1" cy="1255.1" r="6.65"/><circle cx="735.7" cy="1255.1" r="6.65"/><circle cx="764.9" cy="1255.1" r="6.65"/><circle cx="779.5" cy="1255.1" r="6.65"/><circle cx="808.7" cy="1255.1" r="6.65"/><circle cx="823.3" cy="1255.1" r="6.65"/><circle cx="837.9" cy="1255.1" r="6.65"/><circle cx="881.7" cy="1255.1" r="6.65"/><circle cx="954.7" cy="1255.1" r="6.65"/><circle cx="983.9" cy="1255.1" r="6.65"/><circle cx="545.9" cy="1268.8" r="6.65"/><circle cx="560.5" cy="1268.8" r="6.65"/><circle cx="589.7" cy="1268.8" r="6.65"/><circle cx="604.3" cy="1268.8" r="6.65"/><circle cx="677.3" cy="1268.8" r="6.65"/><circle cx="706.5" cy="1268.8" r="6.65"/><circle cx="823.3" cy="1268.8" r="6.65"/><circle cx="881.7" cy="1268.8" r="6.65"/><circle cx="896.3" cy="1268.8" r="6.65"/><circle cx="910.9" cy="1268.8" r="6.65"/><circle cx="954.7" cy="1268.8" r="6.65"/><circle cx="983.9" cy="1268.8" r="6.65"/><circle cx="545.9" cy="1282.4" r="6.65"/><circle cx="604.3" cy="1282.4" r="6.65"/><circle cx="618.9" cy="1282.4" r="6.65"/><circle cx="648.1" cy="1282.4" r="6.65"/><circle cx="662.7" cy="1282.4" r="6.65"/><circle cx="677.3" cy="1282.4" r="6.65"/><circle cx="691.9" cy="1282.4" r="6.65"/><circle cx="706.5" cy="1282.4" r="6.65"/><circle cx="735.7" cy="1282.4" r="6.65"/><circle cx="750.3" cy="1282.4" r="6.65"/><circle cx="794.1" cy="1282.4" r="6.65"/><circle cx="852.5" cy="1282.4" r="6.65"/><circle cx="881.7" cy="1282.4" r="6.65"/><circle cx="896.3" cy="1282.4" r="6.65"/><circle cx="983.9" cy="1282.4" r="6.65"/><circle cx="618.9" cy="1296.1" r="6.65"/><circle cx="662.7" cy="1296.1" r="6.65"/><circle cx="691.9" cy="1296.1" r="6.65"/><circle cx="750.3" cy="1296.1" r="6.65"/><circle cx="954.7" cy="1296.1" r="6.65"/><circle cx="545.9" cy="1309.7" r="6.65"/><circle cx="604.3" cy="1309.7" r="6.65"/><circle cx="633.5" cy="1309.7" r="6.65"/><circle cx="648.1" cy="1309.7" r="6.65"/><circle cx="662.7" cy="1309.7" r="6.65"/><circle cx="677.3" cy="1309.7" r="6.65"/><circle cx="764.9" cy="1309.7" r="6.65"/><circle cx="779.5" cy="1309.7" r="6.65"/><circle cx="852.5" cy="1309.7" r="6.65"/><circle cx="896.3" cy="1309.7" r="6.65"/><circle cx="618.9" cy="1337.0" r="6.65"/><circle cx="677.3" cy="1337.0" r="6.65"/><circle cx="735.7" cy="1337.0" r="6.65"/><circle cx="779.5" cy="1337.0" r="6.65"/><circle cx="662.7" cy="1350.7" r="6.65"/><circle cx="677.3" cy="1350.7" r="6.65"/><circle cx="779.5" cy="1350.7" r="6.65"/><circle cx="545.9" cy="1364.3" r="6.65"/><circle cx="604.3" cy="1364.3" r="6.65"/><circle cx="618.9" cy="1364.3" r="6.65"/><circle cx="677.3" cy="1364.3" r="6.65"/><circle cx="735.7" cy="1364.3" r="6.65"/><circle cx="896.3" cy="1364.3" r="6.65"/><circle cx="633.5" cy="1378.0" r="6.65"/><circle cx="677.3" cy="1378.0" r="6.65"/><circle cx="750.3" cy="1378.0" r="6.65"/><circle cx="721.1" cy="1391.6" r="6.65"/><circle cx="750.3" cy="1391.6" r="6.65"/><circle cx="735.7" cy="1405.3" r="6.65"/><circle cx="764.9" cy="1405.3" r="6.65"/><circle cx="867.1" cy="1515.3" r="6.65"/><circle cx="910.9" cy="1515.3" r="6.65"/><circle cx="925.5" cy="1515.3" r="6.65"/><circle cx="925.5" cy="1529.0" r="6.65"/><circle cx="531.3" cy="1556.3" r="6.65"/><circle cx="823.3" cy="1556.3" r="6.65"/><circle cx="837.9" cy="1556.3" r="6.65"/><circle cx="823.3" cy="1570.0" r="6.65"/><circle cx="881.7" cy="1570.0" r="6.65"/><circle cx="910.9" cy="1570.0" r="6.65"/><circle cx="823.3" cy="1583.6" r="6.65"/><circle cx="867.1" cy="1583.6" r="6.65"/><circle cx="823.3" cy="1610.9" r="6.65"/><circle cx="837.9" cy="1610.9" r="6.65"/><circle cx="823.3" cy="1624.6" r="6.65"/><circle cx="531.3" cy="1645.7" r="6.65"/></g>
<g fill="#ff9e81"><circle cx="800.5" cy="672.3" r="6.65"/><circle cx="859.0" cy="672.3" r="6.65"/><circle cx="537.5" cy="699.7" r="6.65"/><circle cx="698.2" cy="699.7" r="6.65"/><circle cx="625.2" cy="713.4" r="6.65"/><circle cx="683.6" cy="713.4" r="6.65"/><circle cx="712.9" cy="713.4" r="6.65"/><circle cx="859.0" cy="727.1" r="6.65"/><circle cx="639.8" cy="747.8" r="6.65"/><circle cx="844.3" cy="747.8" r="6.65"/><circle cx="917.4" cy="747.8" r="6.65"/><circle cx="493.7" cy="761.5" r="6.65"/><circle cx="581.4" cy="761.5" r="6.65"/><circle cx="742.1" cy="761.5" r="6.65"/><circle cx="873.6" cy="761.5" r="6.65"/><circle cx="829.7" cy="775.2" r="6.65"/><circle cx="917.4" cy="775.2" r="6.65"/><circle cx="508.3" cy="788.9" r="6.65"/><circle cx="844.3" cy="788.9" r="6.65"/><circle cx="493.7" cy="802.6" r="6.65"/><circle cx="859.0" cy="802.6" r="6.65"/><circle cx="625.2" cy="837.0" r="6.65"/><circle cx="639.8" cy="837.0" r="6.65"/><circle cx="654.4" cy="837.0" r="6.65"/><circle cx="698.2" cy="837.0" r="6.65"/><circle cx="712.9" cy="837.0" r="6.65"/><circle cx="829.7" cy="837.0" r="6.65"/><circle cx="888.2" cy="837.0" r="6.65"/><circle cx="902.8" cy="837.0" r="6.65"/><circle cx="625.2" cy="850.8" r="6.65"/><circle cx="654.4" cy="850.8" r="6.65"/><circle cx="669.0" cy="850.8" r="6.65"/><circle cx="698.2" cy="850.8" r="6.65"/><circle cx="712.9" cy="850.8" r="6.65"/><circle cx="654.4" cy="864.6" r="6.65"/><circle cx="698.2" cy="864.6" r="6.65"/><circle cx="712.9" cy="864.6" r="6.65"/><circle cx="829.7" cy="864.6" r="6.65"/><circle cx="902.8" cy="864.6" r="6.65"/><circle cx="552.1" cy="885.3" r="6.65"/><circle cx="712.9" cy="885.3" r="6.65"/><circle cx="859.0" cy="899.0" r="6.65"/><circle cx="493.7" cy="912.8" r="6.65"/><circle cx="508.3" cy="912.8" r="6.65"/><circle cx="537.5" cy="912.8" r="6.65"/><circle cx="552.1" cy="912.8" r="6.65"/><circle cx="625.2" cy="912.8" r="6.65"/><circle cx="654.4" cy="912.8" r="6.65"/><circle cx="669.0" cy="912.8" r="6.65"/><circle cx="493.7" cy="926.5" r="6.65"/><circle cx="508.3" cy="926.5" r="6.65"/><circle cx="537.5" cy="926.5" r="6.65"/><circle cx="639.8" cy="926.5" r="6.65"/><circle cx="712.9" cy="926.5" r="6.65"/><circle cx="706.5" cy="1008.1" r="6.65"/><circle cx="764.9" cy="1008.1" r="6.65"/><circle cx="808.7" cy="1008.1" r="6.65"/><circle cx="910.9" cy="1008.1" r="6.65"/><circle cx="954.7" cy="1008.1" r="6.65"/><circle cx="560.5" cy="1021.8" r="6.65"/><circle cx="575.1" cy="1021.8" r="6.65"/><circle cx="589.7" cy="1021.8" r="6.65"/><circle cx="721.1" cy="1021.8" r="6.65"/><circle cx="764.9" cy="1021.8" r="6.65"/><circle cx="779.5" cy="1021.8" r="6.65"/><circle cx="794.1" cy="1021.8" r="6.65"/><circle cx="808.7" cy="1021.8" r="6.65"/><circle cx="823.3" cy="1021.8" r="6.65"/><circle cx="837.9" cy="1021.8" r="6.65"/><circle cx="867.1" cy="1021.8" r="6.65"/><circle cx="954.7" cy="1021.8" r="6.65"/><circle cx="983.9" cy="1021.8" r="6.65"/><circle cx="502.1" cy="1035.5" r="6.65"/><circle cx="560.5" cy="1035.5" r="6.65"/><circle cx="589.7" cy="1035.5" r="6.65"/><circle cx="618.9" cy="1035.5" r="6.65"/><circle cx="706.5" cy="1035.5" r="6.65"/><circle cx="837.9" cy="1035.5" r="6.65"/><circle cx="983.9" cy="1035.5" r="6.65"/><circle cx="618.9" cy="1049.2" r="6.65"/><circle cx="691.9" cy="1049.2" r="6.65"/><circle cx="823.3" cy="1049.2" r="6.65"/><circle cx="867.1" cy="1049.2" r="6.65"/><circle cx="881.7" cy="1049.2" r="6.65"/><circle cx="648.1" cy="1062.9" r="6.65"/><circle cx="662.7" cy="1062.9" r="6.65"/><circle cx="691.9" cy="1062.9" r="6.65"/><circle cx="706.5" cy="1062.9" r="6.65"/><circle cx="808.7" cy="1062.9" r="6.65"/><circle cx="881.7" cy="1062.9" r="6.65"/><circle cx="618.9" cy="1076.5" r="6.65"/><circle cx="677.3" cy="1076.5" r="6.65"/><circle cx="706.5" cy="1076.5" r="6.65"/><circle cx="604.3" cy="1090.2" r="6.65"/><circle cx="648.1" cy="1090.2" r="6.65"/><circle cx="662.7" cy="1090.2" r="6.65"/><circle cx="764.9" cy="1090.2" r="6.65"/><circle cx="794.1" cy="1090.2" r="6.65"/><circle cx="896.3" cy="1090.2" r="6.65"/><circle cx="910.9" cy="1090.2" r="6.65"/><circle cx="604.3" cy="1103.9" r="6.65"/><circle cx="633.5" cy="1103.9" r="6.65"/><circle cx="648.1" cy="1103.9" r="6.65"/><circle cx="662.7" cy="1103.9" r="6.65"/><circle cx="691.9" cy="1103.9" r="6.65"/><circle cx="706.5" cy="1103.9" r="6.65"/><circle cx="735.7" cy="1103.9" r="6.65"/><circle cx="750.3" cy="1103.9" r="6.65"/><circle cx="764.9" cy="1103.9" r="6.65"/><circle cx="881.7" cy="1103.9" r="6.65"/><circle cx="896.3" cy="1103.9" r="6.65"/><circle cx="545.9" cy="1117.6" r="6.65"/><circle cx="604.3" cy="1117.6" r="6.65"/><circle cx="721.1" cy="1117.6" r="6.65"/><circle cx="779.5" cy="1117.6" r="6.65"/><circle cx="852.5" cy="1117.6" r="6.65"/><circle cx="691.9" cy="1131.3" r="6.65"/><circle cx="706.5" cy="1131.3" r="6.65"/><circle cx="779.5" cy="1131.3" r="6.65"/><circle cx="808.7" cy="1131.3" r="6.65"/><circle cx="648.1" cy="1145.0" r="6.65"/><circle cx="808.7" cy="1145.0" r="6.65"/><circle cx="896.3" cy="1145.0" r="6.65"/><circle cx="910.9" cy="1145.0" r="6.65"/><circle cx="516.7" cy="1166.0" r="6.65"/><circle cx="575.1" cy="1166.0" r="6.65"/><circle cx="925.5" cy="1166.0" r="6.65"/><circle cx="516.7" cy="1179.7" r="6.65"/><circle cx="560.5" cy="1179.7" r="6.65"/><circle cx="589.7" cy="1179.7" r="6.65"/><circle cx="764.9" cy="1179.7" r="6.65"/><circle cx="925.5" cy="1179.7" r="6.65"/><circle cx="575.1" cy="1193.3" r="6.65"/><circle cx="648.1" cy="1193.3" r="6.65"/><circle cx="925.5" cy="1193.3" r="6.65"/><circle cx="560.5" cy="1207.0" r="6.65"/><circle cx="648.1" cy="1207.0" r="6.65"/><circle cx="502.1" cy="1227.8" r="6.65"/><circle cx="487.5" cy="1255.1" r="6.65"/><circle cx="516.7" cy="1255.1" r="6.65"/><circle cx="487.5" cy="1268.8" r="6.65"/><circle cx="531.3" cy="1268.8" r="6.65"/><circle cx="940.1" cy="1282.4" r="6.65"/><circle cx="516.7" cy="1296.1" r="6.65"/><circle cx="983.9" cy="1296.1" r="6.65"/><circle cx="531.3" cy="1309.7" r="6.65"/><circle cx="940.1" cy="1309.7" r="6.65"/><circle cx="837.9" cy="1323.4" r="6.65"/><circle cx="867.1" cy="1323.4" r="6.65"/><circle cx="954.7" cy="1323.4" r="6.65"/><circle cx="983.9" cy="1323.4" r="6.65"/><circle cx="867.1" cy="1337.0" r="6.65"/><circle cx="983.9" cy="1337.0" r="6.65"/><circle cx="867.1" cy="1350.7" r="6.65"/><circle cx="881.7" cy="1350.7" r="6.65"/><circle cx="954.7" cy="1350.7" r="6.65"/><circle cx="589.7" cy="1378.0" r="6.65"/><circle cx="648.1" cy="1378.0" r="6.65"/><circle cx="794.1" cy="1378.0" r="6.65"/><circle cx="823.3" cy="1378.0" r="6.65"/><circle cx="881.7" cy="1378.0" r="6.65"/><circle cx="910.9" cy="1378.0" r="6.65"/><circle cx="560.5" cy="1391.6" r="6.65"/><circle cx="604.3" cy="1391.6" r="6.65"/><circle cx="618.9" cy="1391.6" r="6.65"/><circle cx="648.1" cy="1391.6" r="6.65"/><circle cx="794.1" cy="1391.6" r="6.65"/><circle cx="808.7" cy="1391.6" r="6.65"/><circle cx="852.5" cy="1391.6" r="6.65"/><circle cx="881.7" cy="1391.6" r="6.65"/><circle cx="910.9" cy="1391.6" r="6.65"/><circle cx="983.9" cy="1391.6" r="6.65"/><circle cx="691.9" cy="1405.3" r="6.65"/><circle cx="969.3" cy="1405.3" r="6.65"/><circle cx="648.1" cy="1426.1" r="6.65"/><circle cx="823.3" cy="1439.8" r="6.65"/><circle cx="910.9" cy="1439.8" r="6.65"/><circle cx="969.3" cy="1439.8" r="6.65"/><circle cx="531.3" cy="1453.5" r="6.65"/><circle cx="910.9" cy="1453.5" r="6.65"/><circle cx="837.9" cy="1480.9" r="6.65"/><circle cx="969.3" cy="1480.9" r="6.65"/><circle cx="823.3" cy="1494.6" r="6.65"/><circle cx="837.9" cy="1494.6" r="6.65"/><circle cx="852.5" cy="1515.3" r="6.65"/><circle cx="954.7" cy="1515.3" r="6.65"/><circle cx="531.3" cy="1542.6" r="6.65"/><circle cx="852.5" cy="1542.6" r="6.65"/><circle cx="589.7" cy="1556.3" r="6.65"/><circle cx="648.1" cy="1556.3" r="6.65"/><circle cx="852.5" cy="1556.3" r="6.65"/><circle cx="954.7" cy="1570.0" r="6.65"/><circle cx="852.5" cy="1583.6" r="6.65"/><circle cx="954.7" cy="1583.6" r="6.65"/><circle cx="852.5" cy="1597.3" r="6.65"/><circle cx="881.7" cy="1610.9" r="6.65"/><circle cx="925.5" cy="1610.9" r="6.65"/><circle cx="954.7" cy="1610.9" r="6.65"/><circle cx="925.5" cy="1624.6" r="6.65"/><circle cx="589.7" cy="1645.7" r="6.65"/><circle cx="604.3" cy="1659.4" r="6.65"/><circle cx="648.1" cy="1659.4" r="6.65"/><circle cx="794.1" cy="1659.4" r="6.65"/><circle cx="925.5" cy="1659.4" r="6.65"/><circle cx="837.9" cy="1673.0" r="6.65"/><circle cx="925.5" cy="1673.0" r="6.65"/><circle cx="969.3" cy="1673.0" r="6.65"/><circle cx="881.7" cy="1686.7" r="6.65"/><circle cx="925.5" cy="1686.7" r="6.65"/><circle cx="940.1" cy="1686.7" r="6.65"/></g>
<g fill="#ffece5"><circle cx="589.7" cy="1131.3" r="6.65"/></g>
<path d="M998.6 1693.5V1701.2" stroke="#000" stroke-width="1.7" stroke-linecap="round" fill="none"/>
<path d="M1029.4 1693.5V1701.2" stroke="#000" stroke-width="1.7" stroke-linecap="round" fill="none"/>
<path d="M1060.2 1693.5V1701.2" stroke="#000" stroke-width="1.7" stroke-linecap="round" fill="none"/>
<text x="735.4" y="36" font-size="49.5" font-weight="bold" text-anchor="middle">Sepsis</text>
<text x="3.8" y="40.2" font-size="18.3" font-weight="bold">Illness</text>
<rect x="4.3" y="49.3" width="19.3" height="18.8" fill="#C16E43"/>
<text x="30.2" y="65.9" font-size="18.3">melioidosis</text>
<rect x="4.3" y="70.2" width="19.3" height="18.8" fill="#E5857A"/>
<text x="30.2" y="86.8" font-size="18.3">Other</text>
<rect x="4.3" y="91.1" width="19.3" height="18.8" fill="#2F6637"/>
<text x="30.2" y="107.7" font-size="18.3">Recovery</text>
<text x="1.3" y="207.5" font-size="18.3" font-weight="bold">Module</text>
<rect x="1.5" y="216.30" width="19.1" height="18.9" fill="#FFEE0A"/>
<text x="27.2" y="232.70" font-size="18.3">B cells</text>
<rect x="1.5" y="237.14" width="19.1" height="18.9" fill="#96C48E"/>
<text x="27.2" y="253.54" font-size="18.3">Cell cycle</text>
<rect x="1.5" y="257.98" width="19.1" height="18.9" fill="#000000"/>
<text x="27.2" y="274.38" font-size="18.3">Cell death</text>
<rect x="1.5" y="278.82" width="19.1" height="18.9" fill="#E4C492"/>
<text x="27.2" y="295.22" font-size="18.3">Gene transcription</text>
<rect x="1.5" y="299.66" width="19.1" height="18.9" fill="#FFA9A3"/>
<text x="27.2" y="316.06" font-size="18.3">Protein modification</text>
<rect x="1.5" y="320.50" width="19.1" height="18.9" fill="#8B63FF"/>
<text x="27.2" y="336.90" font-size="18.3">Protein synthesis</text>
<rect x="1.5" y="341.34" width="19.1" height="18.9" fill="#0075BC"/>
<text x="27.2" y="357.74" font-size="18.3">T cells</text>
<rect x="1.5" y="362.18" width="19.1" height="18.9" fill="#F94C84"/>
<text x="27.2" y="378.58" font-size="18.3">Oxidative stress</text>
<rect x="1.5" y="383.02" width="19.1" height="18.9" fill="#AAFFD6"/>
<text x="27.2" y="399.42" font-size="18.3">TNF</text>
<rect x="1.5" y="403.86" width="19.1" height="18.9" fill="#F7584F"/>
<text x="27.2" y="420.26" font-size="18.3">Cytotoxic lymphocytes</text>
<rect x="1.5" y="424.70" width="19.1" height="18.9" fill="#B5178D"/>
<text x="27.2" y="441.10" font-size="18.3">Oxidative phosphorylation</text>
<rect x="1.5" y="445.54" width="19.1" height="18.9" fill="#B296D8"/>
<text x="27.2" y="461.94" font-size="18.3">Proteolysis</text>
<rect x="1.5" y="466.38" width="19.1" height="18.9" fill="#AE0C2C"/>
<text x="27.2" y="482.78" font-size="18.3">Inflammation</text>
<rect x="1.5" y="487.22" width="19.1" height="18.9" fill="#C4A44C"/>
<text x="27.2" y="503.62" font-size="18.3">Protein phosphorylation</text>
<rect x="1.5" y="508.06" width="19.1" height="18.9" fill="#003F7F"/>
<text x="27.2" y="524.46" font-size="18.3">Monocytes</text>
<rect x="1.5" y="528.90" width="19.1" height="18.9" fill="#00D5D5"/>
<text x="27.2" y="545.30" font-size="18.3">Type 1 Interferon</text>
<rect x="1.5" y="549.74" width="19.1" height="18.9" fill="#00FFFF"/>
<text x="27.2" y="566.14" font-size="18.3">Interferon</text>
<rect x="1.5" y="570.58" width="19.1" height="18.9" fill="#4DEE00"/>
<text x="27.2" y="586.98" font-size="18.3">Antigen presentation</text>
<rect x="1.5" y="591.42" width="19.1" height="18.9" fill="#F7C39A"/>
<text x="27.2" y="607.82" font-size="18.3">Mitochondrial Stress/Proteasome</text>
<rect x="1.5" y="612.26" width="19.1" height="18.9" fill="#4E8F00"/>
<text x="27.2" y="628.66" font-size="18.3">Cell adhesion</text>
<rect x="1.5" y="633.10" width="19.1" height="18.9" fill="#6C9FD4"/>
<text x="27.2" y="649.50" font-size="18.3">Platelet</text>
<rect x="1.5" y="653.94" width="19.1" height="18.9" fill="#C9CFF5"/>
<text x="27.2" y="670.34" font-size="18.3">Platelet/Prostaglandin</text>
<rect x="1.5" y="674.78" width="19.1" height="18.9" fill="#F3C945"/>
<text x="27.2" y="691.18" font-size="18.3">Cytokines/chemokines</text>
<rect x="1.5" y="695.62" width="19.1" height="18.9" fill="#66CCFF"/>
<text x="27.2" y="712.02" font-size="18.3">Leukocyte activation</text>
<rect x="1.5" y="716.46" width="19.1" height="18.9" fill="#FF91CD"/>
<text x="27.2" y="732.86" font-size="18.3">Neutrophils</text>
<rect x="1.5" y="737.30" width="19.1" height="18.9" fill="#BE23D6"/>
<text x="27.2" y="753.70" font-size="18.3">Prostanoids</text>
<rect x="1.5" y="758.14" width="19.1" height="18.9" fill="#E87D1E"/>
<text x="27.2" y="774.54" font-size="18.3">Erythrocytes</text>
<rect x="1.5" y="778.98" width="19.1" height="18.9" fill="#FF00FF"/>
<text x="27.2" y="795.38" font-size="18.3">Neutrophil activation</text>
<rect x="1.5" y="799.82" width="19.1" height="18.9" fill="#8C1A9A"/>
<text x="27.2" y="816.22" font-size="18.3">Lipid metabolism</text>
<rect x="1.5" y="820.66" width="19.1" height="18.9" fill="#12875A"/>
<text x="27.2" y="837.06" font-size="18.3">TGF−beta</text>
<rect x="1.5" y="841.50" width="19.1" height="18.9" fill="#D2E64B"/>
<text x="27.2" y="857.90" font-size="18.3">Cellular respiration</text>
<rect x="1.5" y="862.34" width="19.1" height="18.9" fill="#4F5550"/>
<text x="27.2" y="878.74" font-size="18.3">Complement</text>
<text x="1.5" y="904.8" font-size="18.3" font-weight="bold">% Response</text>
<defs><linearGradient id="cb" x1="0" y1="0" x2="0" y2="1"><stop offset="0.0284" stop-color="#ff0000"/><stop offset="0.0752" stop-color="#ff3e22"/><stop offset="0.1221" stop-color="#ff5b3a"/><stop offset="0.1689" stop-color="#ff7352"/><stop offset="0.2157" stop-color="#ff8969"/><stop offset="0.2625" stop-color="#ff9e81"/><stop offset="0.3094" stop-color="#ffb299"/><stop offset="0.3562" stop-color="#ffc6b2"/><stop offset="0.4030" stop-color="#ffd9cb"/><stop offset="0.4499" stop-color="#ffece5"/><stop offset="0.4967" stop-color="#ffffff"/><stop offset="0.5435" stop-color="#f2e7ff"/><stop offset="0.5903" stop-color="#e3d0ff"/><stop offset="0.6372" stop-color="#d4b9ff"/><stop offset="0.6840" stop-color="#c4a2ff"/><stop offset="0.7308" stop-color="#b38bff"/><stop offset="0.7777" stop-color="#a074ff"/><stop offset="0.8245" stop-color="#8a5dff"/><stop offset="0.8713" stop-color="#7145ff"/><stop offset="0.9181" stop-color="#502bff"/><stop offset="0.9650" stop-color="#0000ff"/></linearGradient></defs>
<rect x="0" y="912.9" width="22.1" height="105.6" fill="url(#cb)"/>
<path d="M0 915.9H4.4M17.7 915.9H22.1" stroke="#fff" stroke-width="1.2" fill="none"/>
<text x="27.2" y="922.4" font-size="18.3">100</text>
<path d="M0 940.6H4.4M17.7 940.6H22.1" stroke="#fff" stroke-width="1.2" fill="none"/>
<text x="27.2" y="947.1" font-size="18.3">50</text>
<path d="M0 965.3H4.4M17.7 965.3H22.1" stroke="#fff" stroke-width="1.2" fill="none"/>
<text x="27.2" y="971.8" font-size="18.3">0</text>
<path d="M0 990.1H4.4M17.7 990.1H22.1" stroke="#fff" stroke-width="1.2" fill="none"/>
<text x="27.2" y="996.6" font-size="18.3">−50</text>
<path d="M0 1014.8H4.4M17.7 1014.8H22.1" stroke="#fff" stroke-width="1.2" fill="none"/>
<text x="27.2" y="1021.3" font-size="18.3">−100</text>
<path d="M108.2 1793.5V1586" stroke="#A0A5A3" stroke-width="2.2" fill="none"/>
<path d="M108.2 1572.9L100.5 1587.7H115.9Z" fill="#A0A5A3"/>
<path d="M107.1 1792.4H422" stroke="#A0A5A3" stroke-width="2.2" fill="none"/>
<path d="M435.5 1792.6L421.1 1785.7V1799.6Z" fill="#A0A5A3"/>
<text transform="translate(86.6,1768.6) rotate(-90)" font-size="44.8" fill="#50565D">Modules</text>
<text x="119.5" y="1853.2" font-size="44.6" fill="#50565D">Samples (subjects)</text>
<text x="742" y="1828.6" font-size="44.3" fill="#50565D">Module frequency <tspan font-weight="bold" fill="#FBA93E">up</tspan> / <tspan font-weight="bold" fill="#6DB8C3">down</tspan></text>
</svg>
</body></html>
